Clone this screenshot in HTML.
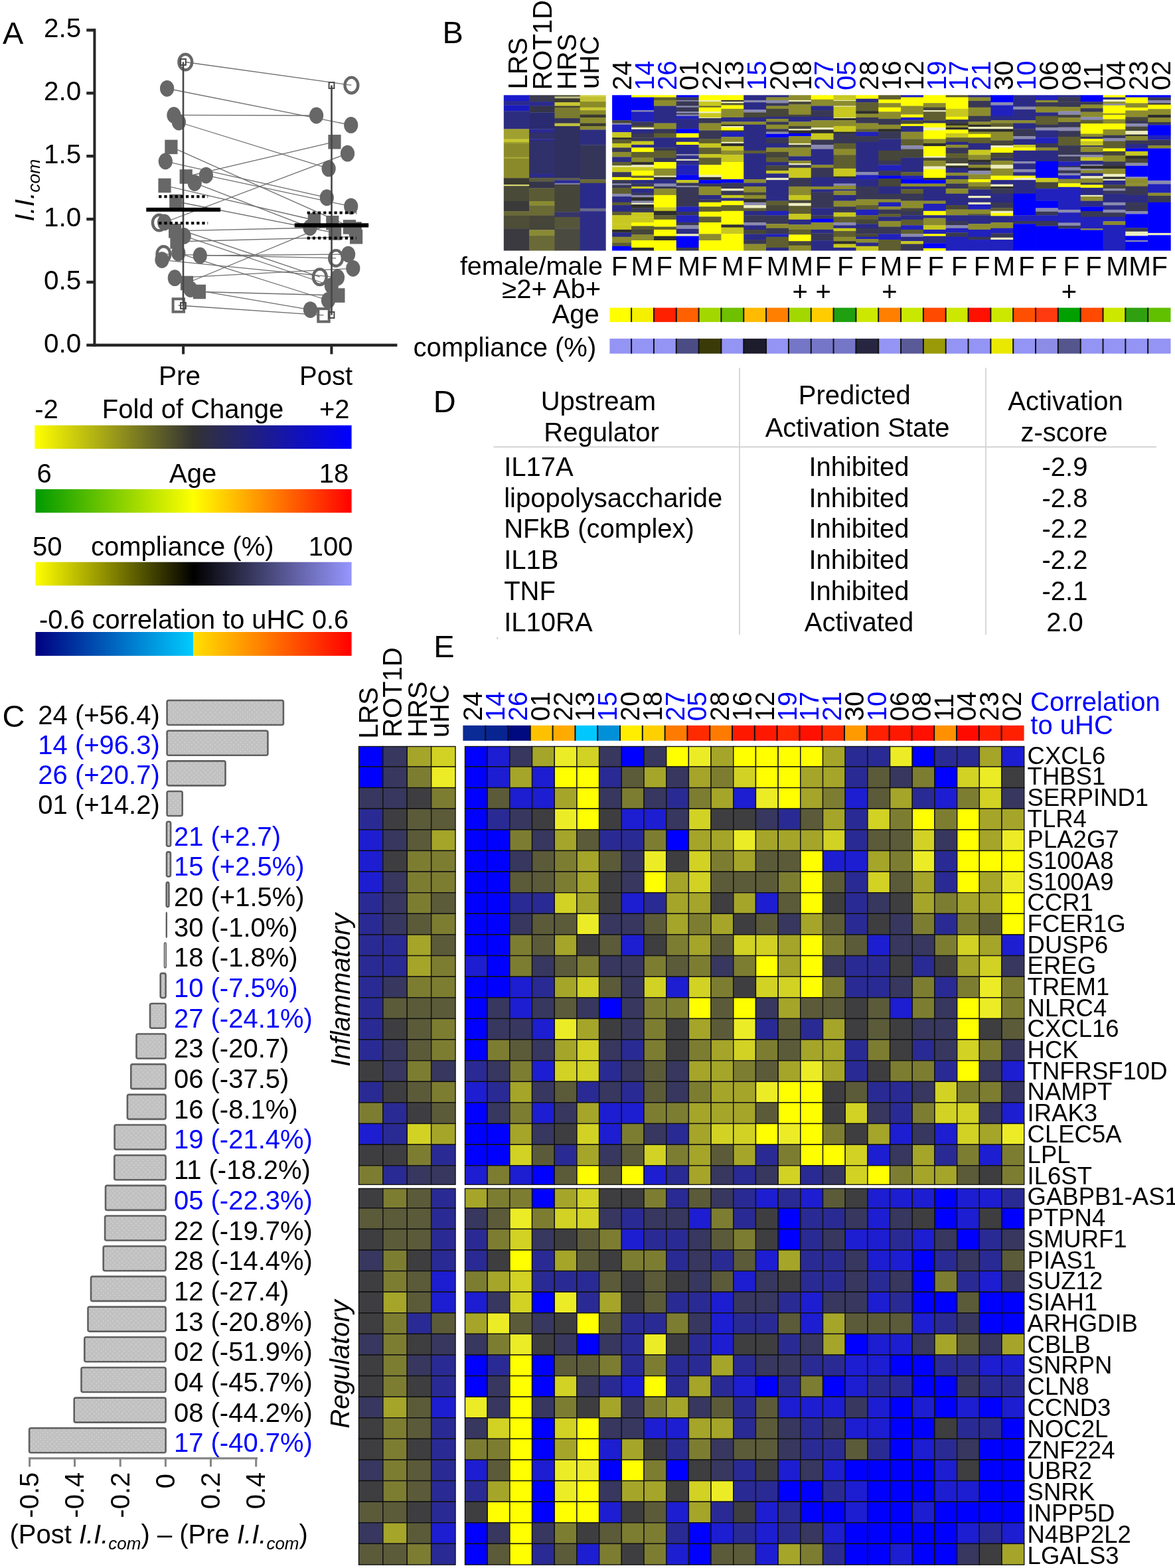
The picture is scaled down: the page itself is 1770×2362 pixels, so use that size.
<!DOCTYPE html>
<html><head><meta charset="utf-8"><title>Figure</title>
<style>html,body{margin:0;padding:0;background:#fff;}svg{display:block;}text{font-family:'Liberation Sans', Arial, sans-serif;}</style>
</head><body>
<svg width="1770" height="2362" viewBox="0 0 1770 2362" shape-rendering="geometricPrecision">
<rect width="1770" height="2362" fill="#fff"/>
<text x="4.0" y="66.0" font-size="47">A</text>
<rect x="140.4" y="43.2" width="4" height="479" fill="#262626"/>
<rect x="140.4" y="517.7" width="458" height="4.4" fill="#262626"/>
<rect x="130.3" y="43.2" width="12" height="4.4" fill="#262626"/>
<text x="122.4" y="56.0" font-size="40.5" text-anchor="end">2.5</text>
<rect x="130.3" y="138.1" width="12" height="4.4" fill="#262626"/>
<text x="122.4" y="150.9" font-size="40.5" text-anchor="end">2.0</text>
<rect x="130.3" y="233.0" width="12" height="4.4" fill="#262626"/>
<text x="122.4" y="245.8" font-size="40.5" text-anchor="end">1.5</text>
<rect x="130.3" y="327.9" width="12" height="4.4" fill="#262626"/>
<text x="122.4" y="340.7" font-size="40.5" text-anchor="end">1.0</text>
<rect x="130.3" y="422.8" width="12" height="4.4" fill="#262626"/>
<text x="122.4" y="435.6" font-size="40.5" text-anchor="end">0.5</text>
<rect x="130.3" y="517.7" width="12" height="4.4" fill="#262626"/>
<text x="122.4" y="530.5" font-size="40.5" text-anchor="end">0.0</text>
<rect x="274.1" y="520" width="4" height="13.5" fill="#262626"/>
<rect x="497.4" y="520" width="4" height="13.5" fill="#262626"/>
<text x="239.0" y="579.9" font-size="40.5">Pre</text>
<text x="451.1" y="579.9" font-size="40">Post</text>
<text transform="translate(50.6,333.5) rotate(-90)" font-size="40" font-style="italic" font-family="Liberation Sans, Arial, sans-serif">I.I.</text>
<text transform="translate(60.4,289.8) rotate(-90)" font-size="26.5" font-style="italic" font-family="Liberation Sans, Arial, sans-serif">com</text>
<line x1="279.3" y1="93.5" x2="529.4" y2="128.4" stroke="#6e6e6e" stroke-width="1.3"/>
<line x1="251.6" y1="133.3" x2="528.7" y2="188.4" stroke="#6e6e6e" stroke-width="1.3"/>
<line x1="261.9" y1="173.4" x2="476.6" y2="174" stroke="#6e6e6e" stroke-width="1.3"/>
<line x1="269.4" y1="184" x2="495.1" y2="253.9" stroke="#6e6e6e" stroke-width="1.3"/>
<line x1="257.9" y1="221.4" x2="535.2" y2="345" stroke="#6e6e6e" stroke-width="1.3"/>
<line x1="249.3" y1="243" x2="492.3" y2="297.7" stroke="#6e6e6e" stroke-width="1.3"/>
<line x1="310.4" y1="264.1" x2="528.7" y2="310.8" stroke="#6e6e6e" stroke-width="1.3"/>
<line x1="280.2" y1="266" x2="504" y2="213.7" stroke="#6e6e6e" stroke-width="1.3"/>
<line x1="293.2" y1="275.6" x2="467" y2="342.7" stroke="#6e6e6e" stroke-width="1.3"/>
<line x1="248" y1="279.5" x2="473.4" y2="331.5" stroke="#6e6e6e" stroke-width="1.3"/>
<line x1="264.8" y1="303.5" x2="504.6" y2="350.9" stroke="#6e6e6e" stroke-width="1.3"/>
<line x1="239.8" y1="335.5" x2="481.8" y2="417.2" stroke="#6e6e6e" stroke-width="1.3"/>
<line x1="247.6" y1="335" x2="523.5" y2="231.2" stroke="#6e6e6e" stroke-width="1.3"/>
<line x1="263.6" y1="347.8" x2="526.4" y2="341.9" stroke="#6e6e6e" stroke-width="1.3"/>
<line x1="277.2" y1="355.4" x2="499.4" y2="430.5" stroke="#6e6e6e" stroke-width="1.3"/>
<line x1="266" y1="364" x2="536.6" y2="356.7" stroke="#6e6e6e" stroke-width="1.3"/>
<line x1="268.8" y1="381.3" x2="494.5" y2="452.5" stroke="#6e6e6e" stroke-width="1.3"/>
<line x1="246.4" y1="383" x2="506.1" y2="388.9" stroke="#6e6e6e" stroke-width="1.3"/>
<line x1="244" y1="391.6" x2="508.5" y2="417.9" stroke="#6e6e6e" stroke-width="1.3"/>
<line x1="301.3" y1="385" x2="524.6" y2="383.1" stroke="#6e6e6e" stroke-width="1.3"/>
<line x1="263.3" y1="418.7" x2="531.8" y2="404.3" stroke="#6e6e6e" stroke-width="1.3"/>
<line x1="281.5" y1="426.5" x2="500.8" y2="335.7" stroke="#6e6e6e" stroke-width="1.3"/>
<line x1="286.9" y1="435.6" x2="467.5" y2="466.6" stroke="#6e6e6e" stroke-width="1.3"/>
<line x1="300.4" y1="439.5" x2="509.9" y2="445" stroke="#6e6e6e" stroke-width="1.3"/>
<line x1="268.8" y1="460" x2="487.5" y2="474.8" stroke="#6e6e6e" stroke-width="1.3"/>
<ellipse cx="279.3" cy="93.5" rx="9.9" ry="11.8" fill="none" stroke="#676767" stroke-width="4.4"/>
<ellipse cx="251.6" cy="133.3" rx="10.6" ry="12.4" fill="#676767"/>
<ellipse cx="261.9" cy="173.4" rx="10.6" ry="12.4" fill="#676767"/>
<ellipse cx="269.4" cy="184" rx="10.6" ry="12.4" fill="#676767"/>
<rect x="248.3" y="210.6" width="19.2" height="21.6" fill="#676767"/>
<ellipse cx="249.3" cy="243" rx="10.6" ry="12.4" fill="#676767"/>
<ellipse cx="310.4" cy="264.1" rx="10.6" ry="12.4" fill="#676767"/>
<rect x="270.6" y="255.2" width="19.2" height="21.6" fill="#676767"/>
<ellipse cx="293.2" cy="275.6" rx="10.6" ry="12.4" fill="#676767"/>
<rect x="238.4" y="268.7" width="19.2" height="21.6" fill="#676767"/>
<rect x="255.2" y="292.7" width="19.2" height="21.6" fill="#676767"/>
<ellipse cx="239.8" cy="335.5" rx="9.9" ry="11.8" fill="none" stroke="#676767" stroke-width="4.4"/>
<ellipse cx="247.6" cy="335" rx="10.6" ry="12.4" fill="#676767"/>
<rect x="254.0" y="337.0" width="19.2" height="21.6" fill="#676767"/>
<ellipse cx="277.2" cy="355.4" rx="10.6" ry="12.4" fill="#676767"/>
<rect x="256.4" y="353.2" width="19.2" height="21.6" fill="#676767"/>
<ellipse cx="268.8" cy="381.3" rx="10.6" ry="12.4" fill="#676767"/>
<ellipse cx="246.4" cy="383" rx="9.9" ry="11.8" fill="none" stroke="#676767" stroke-width="4.4"/>
<ellipse cx="244" cy="391.6" rx="10.6" ry="12.4" fill="#676767"/>
<ellipse cx="301.3" cy="385" rx="10.6" ry="12.4" fill="#676767"/>
<ellipse cx="263.3" cy="418.7" rx="10.6" ry="12.4" fill="#676767"/>
<rect x="271.9" y="415.7" width="19.2" height="21.6" fill="#676767"/>
<ellipse cx="286.9" cy="435.6" rx="10.6" ry="12.4" fill="#676767"/>
<rect x="290.8" y="428.7" width="19.2" height="21.6" fill="#676767"/>
<rect x="260.6" y="450.3" width="16.4" height="19.4" fill="none" stroke="#676767" stroke-width="4"/>
<ellipse cx="529.4" cy="128.4" rx="9.9" ry="11.8" fill="none" stroke="#676767" stroke-width="4.4"/>
<ellipse cx="476.6" cy="174" rx="10.6" ry="12.4" fill="#676767"/>
<ellipse cx="528.7" cy="188.4" rx="10.6" ry="12.4" fill="#676767"/>
<rect x="494.4" y="202.9" width="19.2" height="21.6" fill="#676767"/>
<ellipse cx="523.5" cy="231.2" rx="10.6" ry="12.4" fill="#676767"/>
<ellipse cx="495.1" cy="253.9" rx="10.6" ry="12.4" fill="#676767"/>
<ellipse cx="492.3" cy="297.7" rx="10.6" ry="12.4" fill="#676767"/>
<ellipse cx="528.7" cy="310.8" rx="10.6" ry="12.4" fill="#676767"/>
<rect x="463.8" y="320.7" width="19.2" height="21.6" fill="#676767"/>
<rect x="491.2" y="324.9" width="19.2" height="21.6" fill="#676767"/>
<rect x="516.8" y="331.1" width="19.2" height="21.6" fill="#676767"/>
<ellipse cx="467" cy="342.7" rx="10.6" ry="12.4" fill="#676767"/>
<rect x="525.6" y="334.2" width="19.2" height="21.6" fill="#676767"/>
<rect x="495.0" y="340.1" width="19.2" height="21.6" fill="#676767"/>
<rect x="527.0" y="345.9" width="19.2" height="21.6" fill="#676767"/>
<ellipse cx="524.6" cy="383.1" rx="10.6" ry="12.4" fill="#676767"/>
<ellipse cx="506.1" cy="388.9" rx="9.9" ry="11.8" fill="none" stroke="#676767" stroke-width="4.4"/>
<ellipse cx="531.8" cy="404.3" rx="10.6" ry="12.4" fill="#676767"/>
<ellipse cx="481.8" cy="417.2" rx="9.9" ry="11.8" fill="none" stroke="#676767" stroke-width="4.4"/>
<ellipse cx="508.5" cy="417.9" rx="10.6" ry="12.4" fill="#676767"/>
<ellipse cx="499.4" cy="430.5" rx="10.6" ry="12.4" fill="#676767"/>
<rect x="500.3" y="434.2" width="19.2" height="21.6" fill="#676767"/>
<ellipse cx="494.5" cy="452.5" rx="10.6" ry="12.4" fill="#676767"/>
<ellipse cx="467.5" cy="466.6" rx="10.6" ry="12.4" fill="#676767"/>
<rect x="479.3" y="465.1" width="16.4" height="19.4" fill="none" stroke="#676767" stroke-width="4"/>
<rect x="274.7" y="93.4" width="2.6" height="367.0" fill="#474747"/>
<rect x="272.1" y="88.9" width="7.8" height="9" fill="none" stroke="#474747" stroke-width="2"/>
<rect x="272.1" y="455.9" width="7.8" height="9" fill="none" stroke="#474747" stroke-width="2"/>
<rect x="498.2" y="128.6" width="2.6" height="345.9" fill="#474747"/>
<rect x="495.6" y="124.1" width="7.8" height="9" fill="none" stroke="#474747" stroke-width="2"/>
<rect x="495.6" y="470.0" width="7.8" height="9" fill="none" stroke="#474747" stroke-width="2"/>
<rect x="220.3" y="312.8" width="111.8" height="6" fill="#000"/>
<rect x="443.7" y="336.3" width="111.5" height="6.2" fill="#000"/>
<line x1="239.2" y1="296.1" x2="313.2" y2="296.1" stroke="#000" stroke-width="4.2" stroke-dasharray="4.2 3.95"/>
<line x1="239.2" y1="336.1" x2="313.2" y2="336.1" stroke="#000" stroke-width="4.2" stroke-dasharray="4.2 3.95"/>
<line x1="462.7" y1="320.5" x2="536.7" y2="320.5" stroke="#000" stroke-width="4.2" stroke-dasharray="4.2 3.95"/>
<line x1="462.7" y1="358.6" x2="536.7" y2="358.6" stroke="#000" stroke-width="4.2" stroke-dasharray="4.2 3.95"/>
<defs><linearGradient id="gFold"><stop offset="0" stop-color="#ffff00"/><stop offset="0.5" stop-color="#333333"/><stop offset="1" stop-color="#0000ff"/></linearGradient><linearGradient id="gAge"><stop offset="0" stop-color="#009a00"/><stop offset="0.5" stop-color="#ffff00"/><stop offset="1" stop-color="#ff0000"/></linearGradient><linearGradient id="gComp"><stop offset="0" stop-color="#ffff00"/><stop offset="0.5" stop-color="#000000"/><stop offset="1" stop-color="#9696ff"/></linearGradient><linearGradient id="gCorr"><stop offset="0" stop-color="#000080"/><stop offset="0.5" stop-color="#00ccff"/><stop offset="0.5" stop-color="#ffe000"/><stop offset="1" stop-color="#ff0000"/></linearGradient></defs>
<rect x="52.4" y="640.7" width="477.2" height="35.4" fill="url(#gFold)"/>
<rect x="53.4" y="736.9" width="476.2" height="35.5" fill="url(#gAge)"/>
<rect x="53.4" y="846.7" width="476.2" height="35.4" fill="url(#gComp)"/>
<rect x="53.4" y="952" width="476.2" height="35.9" fill="url(#gCorr)"/>
<text x="52.2" y="629.5" font-size="40">-2</text>
<text x="153.8" y="629.5" font-size="40">Fold of Change</text>
<text x="481.0" y="629.5" font-size="40">+2</text>
<text x="55.4" y="726.8" font-size="40">6</text>
<text x="255.0" y="726.8" font-size="40">Age</text>
<text x="480.7" y="726.8" font-size="40">18</text>
<text x="49.1" y="836.6" font-size="40">50</text>
<text x="136.9" y="836.6" font-size="40">compliance (%)</text>
<text x="464.8" y="836.6" font-size="40">100</text>
<text x="59.0" y="947.0" font-size="39.75">-0.6 correlation to uHC 0.6</text>
<text x="666.6" y="65.1" font-size="47">B</text>
<text transform="translate(794.4,134.5) rotate(-90)" font-size="40">LRS</text>
<text transform="translate(831.1,135.6) rotate(-90)" font-size="40">ROT1D</text>
<text transform="translate(868.2,135.2) rotate(-90)" font-size="40">HRS</text>
<text transform="translate(902.3,133.9) rotate(-90)" font-size="40">uHC</text>
<text transform="translate(950.9,136.0) rotate(-90)" font-size="40">24</text>
<text transform="translate(984.7,136.0) rotate(-90)" font-size="40" fill="#0000ff">14</text>
<text transform="translate(1018.6,136.0) rotate(-90)" font-size="40" fill="#0000ff">26</text>
<text transform="translate(1052.4,136.0) rotate(-90)" font-size="40">01</text>
<text transform="translate(1086.2,136.0) rotate(-90)" font-size="40">22</text>
<text transform="translate(1120.0,136.0) rotate(-90)" font-size="40">13</text>
<text transform="translate(1153.9,136.0) rotate(-90)" font-size="40" fill="#0000ff">15</text>
<text transform="translate(1187.7,136.0) rotate(-90)" font-size="40">20</text>
<text transform="translate(1221.5,136.0) rotate(-90)" font-size="40">18</text>
<text transform="translate(1255.4,136.0) rotate(-90)" font-size="40" fill="#0000ff">27</text>
<text transform="translate(1289.2,136.0) rotate(-90)" font-size="40" fill="#0000ff">05</text>
<text transform="translate(1323.0,136.0) rotate(-90)" font-size="40">28</text>
<text transform="translate(1356.9,136.0) rotate(-90)" font-size="40">16</text>
<text transform="translate(1390.7,136.0) rotate(-90)" font-size="40">12</text>
<text transform="translate(1424.5,136.0) rotate(-90)" font-size="40" fill="#0000ff">19</text>
<text transform="translate(1458.3,136.0) rotate(-90)" font-size="40" fill="#0000ff">17</text>
<text transform="translate(1492.2,136.0) rotate(-90)" font-size="40" fill="#0000ff">21</text>
<text transform="translate(1526.0,136.0) rotate(-90)" font-size="40">30</text>
<text transform="translate(1559.8,136.0) rotate(-90)" font-size="40" fill="#0000ff">10</text>
<text transform="translate(1593.7,136.0) rotate(-90)" font-size="40">06</text>
<text transform="translate(1627.5,136.0) rotate(-90)" font-size="40">08</text>
<text transform="translate(1661.3,136.0) rotate(-90)" font-size="40">11</text>
<text transform="translate(1695.2,136.0) rotate(-90)" font-size="40">04</text>
<text transform="translate(1729.0,136.0) rotate(-90)" font-size="40">23</text>
<text transform="translate(1762.8,136.0) rotate(-90)" font-size="40">02</text>
<rect x="758.80" y="143.30" width="39.00" height="8.99" fill="#1a1acc"/>
<rect x="758.80" y="151.99" width="39.00" height="6.82" fill="#2a2a90"/>
<rect x="758.80" y="158.50" width="39.00" height="8.99" fill="#1a1ac0"/>
<rect x="758.80" y="167.19" width="39.00" height="27.45" fill="#2d2d80"/>
<rect x="758.80" y="194.33" width="39.00" height="15.50" fill="#a0a030"/>
<rect x="758.80" y="209.54" width="39.00" height="4.64" fill="#c8c830"/>
<rect x="758.80" y="213.88" width="39.00" height="2.47" fill="#a0a030"/>
<rect x="758.80" y="216.05" width="39.00" height="20.93" fill="#8a8a2a"/>
<rect x="758.80" y="236.68" width="39.00" height="2.47" fill="#a8a838"/>
<rect x="758.80" y="238.85" width="39.00" height="29.62" fill="#8a8a2a"/>
<rect x="758.80" y="268.17" width="39.00" height="10.07" fill="#3a3a30"/>
<rect x="758.80" y="277.95" width="39.00" height="2.47" fill="#d8d870"/>
<rect x="758.80" y="280.12" width="39.00" height="23.10" fill="#4a4a38"/>
<rect x="758.80" y="302.92" width="39.00" height="15.50" fill="#3a3a3a"/>
<rect x="758.80" y="318.12" width="39.00" height="6.82" fill="#6a6a38"/>
<rect x="758.80" y="324.64" width="39.00" height="19.85" fill="#4d4d38"/>
<rect x="758.80" y="344.18" width="39.00" height="33.42" fill="#3a3a40"/>
<rect x="797.10" y="143.30" width="39.00" height="10.07" fill="#3a3a50"/>
<rect x="797.10" y="153.07" width="39.00" height="6.82" fill="#2a2a90"/>
<rect x="797.10" y="159.59" width="39.00" height="10.07" fill="#35354a"/>
<rect x="797.10" y="169.36" width="39.00" height="25.27" fill="#2a2a70"/>
<rect x="797.10" y="194.33" width="39.00" height="5.73" fill="#2a2a90"/>
<rect x="797.10" y="199.76" width="39.00" height="10.07" fill="#30306a"/>
<rect x="797.10" y="209.54" width="39.00" height="2.47" fill="#2a2a9a"/>
<rect x="797.10" y="211.71" width="39.00" height="50.25" fill="#30306a"/>
<rect x="797.10" y="261.66" width="39.00" height="4.64" fill="#2a2a90"/>
<rect x="797.10" y="266.00" width="39.00" height="2.47" fill="#30306a"/>
<rect x="797.10" y="268.17" width="39.00" height="5.73" fill="#5a5a40"/>
<rect x="797.10" y="273.60" width="39.00" height="10.07" fill="#35354a"/>
<rect x="797.10" y="283.37" width="39.00" height="19.85" fill="#5a5a35"/>
<rect x="797.10" y="302.92" width="39.00" height="6.82" fill="#8a8a30"/>
<rect x="797.10" y="309.43" width="39.00" height="15.50" fill="#6a6a35"/>
<rect x="797.10" y="324.64" width="39.00" height="22.02" fill="#45453a"/>
<rect x="797.10" y="346.35" width="39.00" height="8.99" fill="#8a8a35"/>
<rect x="797.10" y="355.04" width="39.00" height="22.56" fill="#6a6a38"/>
<rect x="835.40" y="143.30" width="39.00" height="2.47" fill="#505030"/>
<rect x="835.40" y="145.47" width="39.00" height="3.01" fill="#b8b880"/>
<rect x="835.40" y="148.19" width="39.00" height="6.27" fill="#3a3a30"/>
<rect x="835.40" y="154.16" width="39.00" height="5.73" fill="#c8c830"/>
<rect x="835.40" y="159.59" width="39.00" height="2.47" fill="#3a3a30"/>
<rect x="835.40" y="161.76" width="39.00" height="16.59" fill="#7a7a30"/>
<rect x="835.40" y="178.05" width="39.00" height="7.90" fill="#35355a"/>
<rect x="835.40" y="185.65" width="39.00" height="4.64" fill="#c0c040"/>
<rect x="835.40" y="189.99" width="39.00" height="78.48" fill="#303060"/>
<rect x="835.40" y="268.17" width="39.00" height="3.56" fill="#5a5a50"/>
<rect x="835.40" y="271.43" width="39.00" height="4.64" fill="#2a2a9a"/>
<rect x="835.40" y="275.77" width="39.00" height="2.47" fill="#8080a0"/>
<rect x="835.40" y="277.95" width="39.00" height="41.56" fill="#45453a"/>
<rect x="835.40" y="319.21" width="39.00" height="7.90" fill="#35356a"/>
<rect x="835.40" y="326.81" width="39.00" height="17.67" fill="#55553a"/>
<rect x="835.40" y="344.18" width="39.00" height="33.42" fill="#4a4a40"/>
<rect x="873.70" y="143.30" width="39.00" height="2.47" fill="#d0d040"/>
<rect x="873.70" y="145.47" width="39.00" height="7.90" fill="#c0c030"/>
<rect x="873.70" y="153.07" width="39.00" height="8.99" fill="#8a8a28"/>
<rect x="873.70" y="161.76" width="39.00" height="4.64" fill="#c8c830"/>
<rect x="873.70" y="166.10" width="39.00" height="6.82" fill="#8a8a28"/>
<rect x="873.70" y="172.62" width="39.00" height="4.64" fill="#3a3a30"/>
<rect x="873.70" y="176.96" width="39.00" height="8.99" fill="#8a8a30"/>
<rect x="873.70" y="185.65" width="39.00" height="4.64" fill="#3a3a30"/>
<rect x="873.70" y="189.99" width="39.00" height="5.73" fill="#8a8a35"/>
<rect x="873.70" y="195.42" width="39.00" height="23.10" fill="#2d2d80"/>
<rect x="873.70" y="218.22" width="39.00" height="52.42" fill="#35355a"/>
<rect x="873.70" y="270.34" width="39.00" height="5.73" fill="#6a6a35"/>
<rect x="873.70" y="275.77" width="39.00" height="38.30" fill="#2a2a8a"/>
<rect x="873.70" y="313.78" width="39.00" height="4.64" fill="#6a6a8a"/>
<rect x="873.70" y="318.12" width="39.00" height="59.48" fill="#2d2d88"/>
<rect x="922.10" y="143.30" width="29.70" height="38.22" fill="#0000ff"/>
<rect x="922.10" y="181.22" width="29.70" height="4.63" fill="#46463a"/>
<rect x="922.10" y="185.55" width="29.70" height="2.47" fill="#8a8ab0"/>
<rect x="922.10" y="187.72" width="29.70" height="11.67" fill="#2121bd"/>
<rect x="922.10" y="199.09" width="29.70" height="8.43" fill="#c8c820"/>
<rect x="922.10" y="207.22" width="29.70" height="3.55" fill="#2e2e2a"/>
<rect x="922.10" y="210.47" width="29.70" height="5.72" fill="#5e5e30"/>
<rect x="922.10" y="215.88" width="29.70" height="6.80" fill="#c8c820"/>
<rect x="922.10" y="222.38" width="29.70" height="6.80" fill="#383856"/>
<rect x="922.10" y="228.88" width="29.70" height="7.88" fill="#8c8c2e"/>
<rect x="922.10" y="236.47" width="29.70" height="7.88" fill="#2b2b86"/>
<rect x="922.10" y="244.05" width="29.70" height="5.72" fill="#5e5e30"/>
<rect x="922.10" y="249.47" width="29.70" height="2.47" fill="#ececc0"/>
<rect x="922.10" y="251.63" width="29.70" height="7.88" fill="#c8c820"/>
<rect x="922.10" y="259.22" width="29.70" height="7.88" fill="#383856"/>
<rect x="922.10" y="266.80" width="29.70" height="4.63" fill="#ffff00"/>
<rect x="922.10" y="271.13" width="29.70" height="5.72" fill="#383856"/>
<rect x="922.10" y="276.55" width="29.70" height="2.47" fill="#8a8ab0"/>
<rect x="922.10" y="278.72" width="29.70" height="4.63" fill="#383856"/>
<rect x="922.10" y="283.05" width="29.70" height="8.97" fill="#5e5e30"/>
<rect x="922.10" y="291.72" width="29.70" height="4.63" fill="#8a8ab0"/>
<rect x="922.10" y="296.05" width="29.70" height="8.97" fill="#2b2b86"/>
<rect x="922.10" y="304.72" width="29.70" height="4.63" fill="#5e5e30"/>
<rect x="922.10" y="309.05" width="29.70" height="10.05" fill="#2b2b86"/>
<rect x="922.10" y="318.80" width="29.70" height="5.72" fill="#5e5e30"/>
<rect x="922.10" y="324.22" width="29.70" height="13.30" fill="#c8c820"/>
<rect x="922.10" y="337.22" width="29.70" height="8.97" fill="#c8c820"/>
<rect x="922.10" y="345.88" width="29.70" height="4.63" fill="#2e2e2a"/>
<rect x="922.10" y="350.22" width="29.70" height="6.80" fill="#2b2b86"/>
<rect x="922.10" y="356.72" width="29.70" height="8.97" fill="#8c8c2e"/>
<rect x="922.10" y="365.38" width="29.70" height="5.72" fill="#5e5e30"/>
<rect x="922.10" y="370.80" width="29.70" height="6.80" fill="#0000ff"/>
<rect x="951.10" y="143.30" width="34.53" height="3.55" fill="#ffff00"/>
<rect x="951.10" y="146.55" width="34.53" height="19.80" fill="#0000ff"/>
<rect x="951.10" y="166.05" width="34.53" height="2.47" fill="#8a8ab0"/>
<rect x="951.10" y="168.22" width="34.53" height="15.47" fill="#2121bd"/>
<rect x="951.10" y="183.38" width="34.53" height="6.80" fill="#383856"/>
<rect x="951.10" y="189.88" width="34.53" height="2.47" fill="#5e5e30"/>
<rect x="951.10" y="192.05" width="34.53" height="3.01" fill="#ececc0"/>
<rect x="951.10" y="194.76" width="34.53" height="6.26" fill="#2b2b86"/>
<rect x="951.10" y="200.72" width="34.53" height="6.80" fill="#383856"/>
<rect x="951.10" y="207.22" width="34.53" height="5.72" fill="#383856"/>
<rect x="951.10" y="212.63" width="34.53" height="5.72" fill="#c8c820"/>
<rect x="951.10" y="218.05" width="34.53" height="4.63" fill="#2b2b86"/>
<rect x="951.10" y="222.38" width="34.53" height="6.80" fill="#ffff00"/>
<rect x="951.10" y="228.88" width="34.53" height="8.97" fill="#5e5e30"/>
<rect x="951.10" y="237.55" width="34.53" height="6.80" fill="#8c8c2e"/>
<rect x="951.10" y="244.05" width="34.53" height="4.63" fill="#2e2e2a"/>
<rect x="951.10" y="248.38" width="34.53" height="3.55" fill="#ececc0"/>
<rect x="951.10" y="251.63" width="34.53" height="5.72" fill="#c8c820"/>
<rect x="951.10" y="257.05" width="34.53" height="7.88" fill="#ffff00"/>
<rect x="951.10" y="264.63" width="34.53" height="3.55" fill="#5e5e30"/>
<rect x="951.10" y="267.88" width="34.53" height="3.55" fill="#ffff00"/>
<rect x="951.10" y="271.13" width="34.53" height="5.72" fill="#2b2b86"/>
<rect x="951.10" y="276.55" width="34.53" height="4.63" fill="#383856"/>
<rect x="951.10" y="280.88" width="34.53" height="3.55" fill="#c8c820"/>
<rect x="951.10" y="284.13" width="34.53" height="6.80" fill="#2b2b86"/>
<rect x="951.10" y="290.63" width="34.53" height="3.55" fill="#383856"/>
<rect x="951.10" y="293.88" width="34.53" height="3.55" fill="#8a8ab0"/>
<rect x="951.10" y="297.13" width="34.53" height="5.72" fill="#2e2e2a"/>
<rect x="951.10" y="302.55" width="34.53" height="3.55" fill="#8a8ab0"/>
<rect x="951.10" y="305.80" width="34.53" height="2.47" fill="#ececc0"/>
<rect x="951.10" y="307.97" width="34.53" height="5.72" fill="#2e2e2a"/>
<rect x="951.10" y="313.38" width="34.53" height="6.80" fill="#383856"/>
<rect x="951.10" y="319.88" width="34.53" height="7.88" fill="#c8c820"/>
<rect x="951.10" y="327.47" width="34.53" height="7.88" fill="#c8c820"/>
<rect x="951.10" y="335.05" width="34.53" height="5.72" fill="#ffff00"/>
<rect x="951.10" y="340.47" width="34.53" height="5.72" fill="#5e5e30"/>
<rect x="951.10" y="345.88" width="34.53" height="7.88" fill="#46463a"/>
<rect x="951.10" y="353.47" width="34.53" height="8.97" fill="#8c8c2e"/>
<rect x="951.10" y="362.13" width="34.53" height="11.13" fill="#ffff00"/>
<rect x="951.10" y="372.97" width="34.53" height="4.63" fill="#2e2e2a"/>
<rect x="984.93" y="143.30" width="34.53" height="3.55" fill="#ffff00"/>
<rect x="984.93" y="146.55" width="34.53" height="4.63" fill="#5e5e30"/>
<rect x="984.93" y="150.88" width="34.53" height="8.97" fill="#8c8c2e"/>
<rect x="984.93" y="159.55" width="34.53" height="26.30" fill="#2b2b86"/>
<rect x="984.93" y="185.55" width="34.53" height="8.97" fill="#8c8c2e"/>
<rect x="984.93" y="194.22" width="34.53" height="6.80" fill="#383856"/>
<rect x="984.93" y="200.72" width="34.53" height="6.80" fill="#5e5e30"/>
<rect x="984.93" y="207.22" width="34.53" height="15.47" fill="#2b2b86"/>
<rect x="984.93" y="222.38" width="34.53" height="4.63" fill="#383856"/>
<rect x="984.93" y="226.72" width="34.53" height="11.13" fill="#5e5e30"/>
<rect x="984.93" y="237.55" width="34.53" height="6.80" fill="#383856"/>
<rect x="984.93" y="244.05" width="34.53" height="10.05" fill="#ffff00"/>
<rect x="984.93" y="253.80" width="34.53" height="11.13" fill="#8c8c2e"/>
<rect x="984.93" y="264.63" width="34.53" height="2.47" fill="#ececc0"/>
<rect x="984.93" y="266.80" width="34.53" height="3.55" fill="#2e2e2a"/>
<rect x="984.93" y="270.05" width="34.53" height="6.80" fill="#2b2b86"/>
<rect x="984.93" y="276.55" width="34.53" height="4.63" fill="#8a8ab0"/>
<rect x="984.93" y="280.88" width="34.53" height="3.55" fill="#383856"/>
<rect x="984.93" y="284.13" width="34.53" height="10.05" fill="#8c8c2e"/>
<rect x="984.93" y="293.88" width="34.53" height="11.13" fill="#ffff00"/>
<rect x="984.93" y="304.72" width="34.53" height="7.88" fill="#ffff00"/>
<rect x="984.93" y="312.30" width="34.53" height="5.72" fill="#c8c820"/>
<rect x="984.93" y="317.72" width="34.53" height="6.80" fill="#2e2e2a"/>
<rect x="984.93" y="324.22" width="34.53" height="6.80" fill="#5e5e30"/>
<rect x="984.93" y="330.72" width="34.53" height="11.13" fill="#ffff00"/>
<rect x="984.93" y="341.55" width="34.53" height="4.63" fill="#5e5e30"/>
<rect x="984.93" y="345.88" width="34.53" height="10.05" fill="#ffff00"/>
<rect x="984.93" y="355.63" width="34.53" height="6.80" fill="#2e2e2a"/>
<rect x="984.93" y="362.13" width="34.53" height="15.47" fill="#ffff00"/>
<rect x="1018.76" y="143.30" width="34.53" height="3.55" fill="#0000ff"/>
<rect x="1018.76" y="146.55" width="34.53" height="4.63" fill="#383856"/>
<rect x="1018.76" y="150.88" width="34.53" height="1.93" fill="#8a8ab0"/>
<rect x="1018.76" y="152.51" width="34.53" height="7.34" fill="#383856"/>
<rect x="1018.76" y="159.55" width="34.53" height="2.47" fill="#8a8ab0"/>
<rect x="1018.76" y="161.72" width="34.53" height="6.80" fill="#383856"/>
<rect x="1018.76" y="168.22" width="34.53" height="2.47" fill="#8a8ab0"/>
<rect x="1018.76" y="170.38" width="34.53" height="2.47" fill="#383856"/>
<rect x="1018.76" y="172.55" width="34.53" height="2.47" fill="#8a8ab0"/>
<rect x="1018.76" y="174.72" width="34.53" height="4.63" fill="#2121bd"/>
<rect x="1018.76" y="179.05" width="34.53" height="15.47" fill="#2b2b86"/>
<rect x="1018.76" y="194.22" width="34.53" height="6.80" fill="#0000ff"/>
<rect x="1018.76" y="200.72" width="34.53" height="6.80" fill="#ffff00"/>
<rect x="1018.76" y="207.22" width="34.53" height="6.80" fill="#2b2b86"/>
<rect x="1018.76" y="213.72" width="34.53" height="4.63" fill="#ffff00"/>
<rect x="1018.76" y="218.05" width="34.53" height="14.38" fill="#2b2b86"/>
<rect x="1018.76" y="232.13" width="34.53" height="2.47" fill="#8a8ab0"/>
<rect x="1018.76" y="234.30" width="34.53" height="5.72" fill="#2b2b86"/>
<rect x="1018.76" y="239.72" width="34.53" height="2.47" fill="#ececc0"/>
<rect x="1018.76" y="241.88" width="34.53" height="6.80" fill="#2b2b86"/>
<rect x="1018.76" y="248.38" width="34.53" height="15.47" fill="#2121bd"/>
<rect x="1018.76" y="263.55" width="34.53" height="7.88" fill="#0000ff"/>
<rect x="1018.76" y="271.13" width="34.53" height="4.63" fill="#c8c820"/>
<rect x="1018.76" y="275.47" width="34.53" height="4.63" fill="#383856"/>
<rect x="1018.76" y="279.80" width="34.53" height="2.47" fill="#8a8ab0"/>
<rect x="1018.76" y="281.97" width="34.53" height="29.55" fill="#383856"/>
<rect x="1018.76" y="311.22" width="34.53" height="7.88" fill="#2121bd"/>
<rect x="1018.76" y="318.80" width="34.53" height="5.72" fill="#383856"/>
<rect x="1018.76" y="324.22" width="34.53" height="11.13" fill="#2121bd"/>
<rect x="1018.76" y="335.05" width="34.53" height="4.63" fill="#383856"/>
<rect x="1018.76" y="339.38" width="34.53" height="5.72" fill="#8a8ab0"/>
<rect x="1018.76" y="344.80" width="34.53" height="7.88" fill="#2b2b86"/>
<rect x="1018.76" y="352.38" width="34.53" height="3.55" fill="#ececc0"/>
<rect x="1018.76" y="355.63" width="34.53" height="17.63" fill="#0000ff"/>
<rect x="1018.76" y="372.97" width="34.53" height="4.63" fill="#383856"/>
<rect x="1052.59" y="143.30" width="34.53" height="7.88" fill="#ffff00"/>
<rect x="1052.59" y="150.88" width="34.53" height="2.47" fill="#ececc0"/>
<rect x="1052.59" y="153.05" width="34.53" height="6.80" fill="#c8c820"/>
<rect x="1052.59" y="159.55" width="34.53" height="2.47" fill="#5e5e30"/>
<rect x="1052.59" y="161.72" width="34.53" height="6.80" fill="#ffff00"/>
<rect x="1052.59" y="168.22" width="34.53" height="2.47" fill="#ececc0"/>
<rect x="1052.59" y="170.38" width="34.53" height="6.80" fill="#c8c820"/>
<rect x="1052.59" y="176.88" width="34.53" height="1.38" fill="#ececc0"/>
<rect x="1052.59" y="177.97" width="34.53" height="7.88" fill="#383856"/>
<rect x="1052.59" y="185.55" width="34.53" height="11.13" fill="#8c8c2e"/>
<rect x="1052.59" y="196.38" width="34.53" height="13.30" fill="#383856"/>
<rect x="1052.59" y="209.38" width="34.53" height="6.80" fill="#5e5e30"/>
<rect x="1052.59" y="215.88" width="34.53" height="6.80" fill="#c8c820"/>
<rect x="1052.59" y="222.38" width="34.53" height="10.05" fill="#5e5e30"/>
<rect x="1052.59" y="232.13" width="34.53" height="5.72" fill="#c8c820"/>
<rect x="1052.59" y="237.55" width="34.53" height="11.13" fill="#5e5e30"/>
<rect x="1052.59" y="248.38" width="34.53" height="15.47" fill="#ffff00"/>
<rect x="1052.59" y="263.55" width="34.53" height="3.55" fill="#ececc0"/>
<rect x="1052.59" y="266.80" width="34.53" height="4.63" fill="#2e2e2a"/>
<rect x="1052.59" y="271.13" width="34.53" height="5.72" fill="#0000ff"/>
<rect x="1052.59" y="276.55" width="34.53" height="4.63" fill="#383856"/>
<rect x="1052.59" y="280.88" width="34.53" height="13.30" fill="#8c8c2e"/>
<rect x="1052.59" y="293.88" width="34.53" height="6.80" fill="#2b2b86"/>
<rect x="1052.59" y="300.38" width="34.53" height="4.63" fill="#383856"/>
<rect x="1052.59" y="304.72" width="34.53" height="6.80" fill="#ffff00"/>
<rect x="1052.59" y="311.22" width="34.53" height="7.88" fill="#5e5e30"/>
<rect x="1052.59" y="318.80" width="34.53" height="7.88" fill="#ffff00"/>
<rect x="1052.59" y="326.38" width="34.53" height="8.97" fill="#5e5e30"/>
<rect x="1052.59" y="335.05" width="34.53" height="17.63" fill="#ffff00"/>
<rect x="1052.59" y="352.38" width="34.53" height="10.05" fill="#8c8c2e"/>
<rect x="1052.59" y="362.13" width="34.53" height="15.47" fill="#ffff00"/>
<rect x="1086.42" y="143.30" width="34.53" height="7.88" fill="#ffff00"/>
<rect x="1086.42" y="150.88" width="34.53" height="2.47" fill="#2e2e2a"/>
<rect x="1086.42" y="153.05" width="34.53" height="2.47" fill="#ececc0"/>
<rect x="1086.42" y="155.22" width="34.53" height="3.55" fill="#5e5e30"/>
<rect x="1086.42" y="158.47" width="34.53" height="5.72" fill="#ffff00"/>
<rect x="1086.42" y="163.88" width="34.53" height="13.30" fill="#8c8c2e"/>
<rect x="1086.42" y="176.88" width="34.53" height="6.80" fill="#2b2b86"/>
<rect x="1086.42" y="183.38" width="34.53" height="4.63" fill="#8c8c2e"/>
<rect x="1086.42" y="187.72" width="34.53" height="2.47" fill="#2e2e2a"/>
<rect x="1086.42" y="189.88" width="34.53" height="2.47" fill="#ececc0"/>
<rect x="1086.42" y="192.05" width="34.53" height="4.63" fill="#ffff00"/>
<rect x="1086.42" y="196.38" width="34.53" height="2.47" fill="#2e2e2a"/>
<rect x="1086.42" y="198.55" width="34.53" height="7.88" fill="#2121bd"/>
<rect x="1086.42" y="206.13" width="34.53" height="7.88" fill="#8c8c2e"/>
<rect x="1086.42" y="213.72" width="34.53" height="2.47" fill="#ececc0"/>
<rect x="1086.42" y="215.88" width="34.53" height="4.63" fill="#2e2e2a"/>
<rect x="1086.42" y="220.22" width="34.53" height="6.80" fill="#c8c820"/>
<rect x="1086.42" y="226.72" width="34.53" height="6.80" fill="#8c8c2e"/>
<rect x="1086.42" y="233.22" width="34.53" height="11.13" fill="#c8c820"/>
<rect x="1086.42" y="244.05" width="34.53" height="26.30" fill="#ffff00"/>
<rect x="1086.42" y="270.05" width="34.53" height="5.72" fill="#0000ff"/>
<rect x="1086.42" y="275.47" width="34.53" height="8.97" fill="#383856"/>
<rect x="1086.42" y="284.13" width="34.53" height="3.55" fill="#ececc0"/>
<rect x="1086.42" y="287.38" width="34.53" height="6.80" fill="#383856"/>
<rect x="1086.42" y="293.88" width="34.53" height="4.63" fill="#c8c820"/>
<rect x="1086.42" y="298.22" width="34.53" height="4.63" fill="#2b2b86"/>
<rect x="1086.42" y="302.55" width="34.53" height="6.80" fill="#ffff00"/>
<rect x="1086.42" y="309.05" width="34.53" height="8.97" fill="#5e5e30"/>
<rect x="1086.42" y="317.72" width="34.53" height="20.88" fill="#ffff00"/>
<rect x="1086.42" y="338.30" width="34.53" height="4.63" fill="#2e2e2a"/>
<rect x="1086.42" y="342.63" width="34.53" height="10.05" fill="#c8c820"/>
<rect x="1086.42" y="352.38" width="34.53" height="25.22" fill="#ffff00"/>
<rect x="1120.25" y="143.30" width="34.53" height="7.88" fill="#2b2b86"/>
<rect x="1120.25" y="150.88" width="34.53" height="3.55" fill="#8a8ab0"/>
<rect x="1120.25" y="154.13" width="34.53" height="11.13" fill="#2b2b86"/>
<rect x="1120.25" y="164.97" width="34.53" height="4.63" fill="#8a8ab0"/>
<rect x="1120.25" y="169.30" width="34.53" height="7.88" fill="#46463a"/>
<rect x="1120.25" y="176.88" width="34.53" height="6.80" fill="#2b2b86"/>
<rect x="1120.25" y="183.38" width="34.53" height="4.63" fill="#8c8c2e"/>
<rect x="1120.25" y="187.72" width="34.53" height="39.30" fill="#2b2b86"/>
<rect x="1120.25" y="226.72" width="34.53" height="4.63" fill="#5e5e30"/>
<rect x="1120.25" y="231.05" width="34.53" height="39.30" fill="#2b2b86"/>
<rect x="1120.25" y="270.05" width="34.53" height="5.72" fill="#8c8c2e"/>
<rect x="1120.25" y="275.47" width="34.53" height="5.72" fill="#2b2b86"/>
<rect x="1120.25" y="280.88" width="34.53" height="8.97" fill="#8c8c2e"/>
<rect x="1120.25" y="289.55" width="34.53" height="4.63" fill="#46463a"/>
<rect x="1120.25" y="293.88" width="34.53" height="5.72" fill="#8c8c2e"/>
<rect x="1120.25" y="299.30" width="34.53" height="5.72" fill="#2e2e2a"/>
<rect x="1120.25" y="304.72" width="34.53" height="4.63" fill="#8a8ab0"/>
<rect x="1120.25" y="309.05" width="34.53" height="4.63" fill="#ececc0"/>
<rect x="1120.25" y="313.38" width="34.53" height="4.63" fill="#5e5e30"/>
<rect x="1120.25" y="317.72" width="34.53" height="6.80" fill="#2b2b86"/>
<rect x="1120.25" y="324.22" width="34.53" height="11.13" fill="#383856"/>
<rect x="1120.25" y="335.05" width="34.53" height="4.63" fill="#8a8ab0"/>
<rect x="1120.25" y="339.38" width="34.53" height="6.80" fill="#2b2b86"/>
<rect x="1120.25" y="345.88" width="34.53" height="6.80" fill="#46463a"/>
<rect x="1120.25" y="352.38" width="34.53" height="8.97" fill="#2b2b86"/>
<rect x="1120.25" y="361.05" width="34.53" height="6.80" fill="#383856"/>
<rect x="1120.25" y="367.55" width="34.53" height="10.05" fill="#8c8c2e"/>
<rect x="1154.08" y="143.30" width="34.53" height="3.55" fill="#2b2b86"/>
<rect x="1154.08" y="146.55" width="34.53" height="4.63" fill="#8c8c2e"/>
<rect x="1154.08" y="150.88" width="34.53" height="4.63" fill="#8a8ab0"/>
<rect x="1154.08" y="155.22" width="34.53" height="4.63" fill="#383856"/>
<rect x="1154.08" y="159.55" width="34.53" height="4.63" fill="#8c8c2e"/>
<rect x="1154.08" y="163.88" width="34.53" height="12.22" fill="#46463a"/>
<rect x="1154.08" y="175.80" width="34.53" height="3.55" fill="#2b2b86"/>
<rect x="1154.08" y="179.05" width="34.53" height="4.63" fill="#8c8c2e"/>
<rect x="1154.08" y="183.38" width="34.53" height="4.63" fill="#383856"/>
<rect x="1154.08" y="187.72" width="34.53" height="6.80" fill="#8c8c2e"/>
<rect x="1154.08" y="194.22" width="34.53" height="4.63" fill="#383856"/>
<rect x="1154.08" y="198.55" width="34.53" height="3.55" fill="#8a8ab0"/>
<rect x="1154.08" y="201.80" width="34.53" height="5.72" fill="#0000ff"/>
<rect x="1154.08" y="207.22" width="34.53" height="8.97" fill="#383856"/>
<rect x="1154.08" y="215.88" width="34.53" height="6.80" fill="#2b2b86"/>
<rect x="1154.08" y="222.38" width="34.53" height="6.80" fill="#8c8c2e"/>
<rect x="1154.08" y="228.88" width="34.53" height="8.97" fill="#46463a"/>
<rect x="1154.08" y="237.55" width="34.53" height="6.80" fill="#5e5e30"/>
<rect x="1154.08" y="244.05" width="34.53" height="5.72" fill="#2b2b86"/>
<rect x="1154.08" y="249.47" width="34.53" height="7.88" fill="#46463a"/>
<rect x="1154.08" y="257.05" width="34.53" height="4.63" fill="#c8c820"/>
<rect x="1154.08" y="261.38" width="34.53" height="6.80" fill="#2b2b86"/>
<rect x="1154.08" y="267.88" width="34.53" height="3.55" fill="#ececc0"/>
<rect x="1154.08" y="271.13" width="34.53" height="31.72" fill="#2b2b86"/>
<rect x="1154.08" y="302.55" width="34.53" height="6.80" fill="#5e5e30"/>
<rect x="1154.08" y="309.05" width="34.53" height="8.97" fill="#46463a"/>
<rect x="1154.08" y="317.72" width="34.53" height="6.80" fill="#2121bd"/>
<rect x="1154.08" y="324.22" width="34.53" height="13.30" fill="#383856"/>
<rect x="1154.08" y="337.22" width="34.53" height="6.80" fill="#8c8c2e"/>
<rect x="1154.08" y="343.72" width="34.53" height="8.97" fill="#383856"/>
<rect x="1154.08" y="352.38" width="34.53" height="4.63" fill="#2121bd"/>
<rect x="1154.08" y="356.72" width="34.53" height="16.55" fill="#5e5e30"/>
<rect x="1154.08" y="372.97" width="34.53" height="4.63" fill="#2b2b86"/>
<rect x="1187.91" y="143.30" width="34.53" height="7.88" fill="#8c8c2e"/>
<rect x="1187.91" y="150.88" width="34.53" height="2.47" fill="#ececc0"/>
<rect x="1187.91" y="153.05" width="34.53" height="4.63" fill="#46463a"/>
<rect x="1187.91" y="157.38" width="34.53" height="15.47" fill="#8c8c2e"/>
<rect x="1187.91" y="172.55" width="34.53" height="3.55" fill="#46463a"/>
<rect x="1187.91" y="175.80" width="34.53" height="7.88" fill="#2b2b86"/>
<rect x="1187.91" y="183.38" width="34.53" height="6.80" fill="#8c8c2e"/>
<rect x="1187.91" y="189.88" width="34.53" height="4.63" fill="#46463a"/>
<rect x="1187.91" y="194.22" width="34.53" height="2.47" fill="#ececc0"/>
<rect x="1187.91" y="196.38" width="34.53" height="4.63" fill="#2e2e2a"/>
<rect x="1187.91" y="200.72" width="34.53" height="4.63" fill="#0000ff"/>
<rect x="1187.91" y="205.05" width="34.53" height="11.13" fill="#8c8c2e"/>
<rect x="1187.91" y="215.88" width="34.53" height="2.47" fill="#ececc0"/>
<rect x="1187.91" y="218.05" width="34.53" height="4.63" fill="#46463a"/>
<rect x="1187.91" y="222.38" width="34.53" height="13.30" fill="#8c8c2e"/>
<rect x="1187.91" y="235.38" width="34.53" height="6.80" fill="#2b2b86"/>
<rect x="1187.91" y="241.88" width="34.53" height="4.63" fill="#8c8c2e"/>
<rect x="1187.91" y="246.22" width="34.53" height="2.47" fill="#ececc0"/>
<rect x="1187.91" y="248.38" width="34.53" height="4.63" fill="#383856"/>
<rect x="1187.91" y="252.72" width="34.53" height="15.47" fill="#c8c820"/>
<rect x="1187.91" y="267.88" width="34.53" height="13.30" fill="#383856"/>
<rect x="1187.91" y="280.88" width="34.53" height="13.30" fill="#8c8c2e"/>
<rect x="1187.91" y="293.88" width="34.53" height="7.88" fill="#c8c820"/>
<rect x="1187.91" y="301.47" width="34.53" height="4.63" fill="#46463a"/>
<rect x="1187.91" y="305.80" width="34.53" height="4.63" fill="#ececc0"/>
<rect x="1187.91" y="310.13" width="34.53" height="12.22" fill="#5e5e30"/>
<rect x="1187.91" y="322.05" width="34.53" height="8.97" fill="#c8c820"/>
<rect x="1187.91" y="330.72" width="34.53" height="7.88" fill="#2b2b86"/>
<rect x="1187.91" y="338.30" width="34.53" height="7.88" fill="#8c8c2e"/>
<rect x="1187.91" y="345.88" width="34.53" height="7.88" fill="#5e5e30"/>
<rect x="1187.91" y="353.47" width="34.53" height="10.05" fill="#ffff00"/>
<rect x="1187.91" y="363.22" width="34.53" height="6.80" fill="#46463a"/>
<rect x="1187.91" y="369.72" width="34.53" height="7.88" fill="#8c8c2e"/>
<rect x="1221.74" y="143.30" width="34.53" height="6.80" fill="#ffff00"/>
<rect x="1221.74" y="149.80" width="34.53" height="10.05" fill="#8c8c2e"/>
<rect x="1221.74" y="159.55" width="34.53" height="6.80" fill="#2b2b86"/>
<rect x="1221.74" y="166.05" width="34.53" height="10.05" fill="#383856"/>
<rect x="1221.74" y="175.80" width="34.53" height="5.72" fill="#2b2b86"/>
<rect x="1221.74" y="181.22" width="34.53" height="11.13" fill="#8c8c2e"/>
<rect x="1221.74" y="192.05" width="34.53" height="3.55" fill="#ececc0"/>
<rect x="1221.74" y="195.30" width="34.53" height="5.72" fill="#2e2e2a"/>
<rect x="1221.74" y="200.72" width="34.53" height="10.05" fill="#c8c820"/>
<rect x="1221.74" y="210.47" width="34.53" height="7.88" fill="#383856"/>
<rect x="1221.74" y="218.05" width="34.53" height="6.80" fill="#8a8ab0"/>
<rect x="1221.74" y="224.55" width="34.53" height="24.13" fill="#2b2b86"/>
<rect x="1221.74" y="248.38" width="34.53" height="4.63" fill="#8c8c2e"/>
<rect x="1221.74" y="252.72" width="34.53" height="14.38" fill="#383856"/>
<rect x="1221.74" y="266.80" width="34.53" height="14.38" fill="#2b2b86"/>
<rect x="1221.74" y="280.88" width="34.53" height="4.63" fill="#8c8c2e"/>
<rect x="1221.74" y="285.22" width="34.53" height="4.63" fill="#2b2b86"/>
<rect x="1221.74" y="289.55" width="34.53" height="24.13" fill="#383856"/>
<rect x="1221.74" y="313.38" width="34.53" height="11.13" fill="#2b2b86"/>
<rect x="1221.74" y="324.22" width="34.53" height="5.72" fill="#383856"/>
<rect x="1221.74" y="329.63" width="34.53" height="5.72" fill="#0000ff"/>
<rect x="1221.74" y="335.05" width="34.53" height="11.13" fill="#8c8c2e"/>
<rect x="1221.74" y="345.88" width="34.53" height="5.72" fill="#2b2b86"/>
<rect x="1221.74" y="351.30" width="34.53" height="11.13" fill="#383856"/>
<rect x="1221.74" y="362.13" width="34.53" height="15.47" fill="#2b2b86"/>
<rect x="1255.57" y="143.30" width="34.53" height="7.88" fill="#c8c820"/>
<rect x="1255.57" y="150.88" width="34.53" height="1.38" fill="#ececc0"/>
<rect x="1255.57" y="151.97" width="34.53" height="7.88" fill="#8c8c2e"/>
<rect x="1255.57" y="159.55" width="34.53" height="1.38" fill="#ececc0"/>
<rect x="1255.57" y="160.63" width="34.53" height="16.55" fill="#c8c820"/>
<rect x="1255.57" y="176.88" width="34.53" height="1.38" fill="#ececc0"/>
<rect x="1255.57" y="177.97" width="34.53" height="3.55" fill="#2e2e2a"/>
<rect x="1255.57" y="181.22" width="34.53" height="8.97" fill="#8c8c2e"/>
<rect x="1255.57" y="189.88" width="34.53" height="8.97" fill="#c8c820"/>
<rect x="1255.57" y="198.55" width="34.53" height="2.47" fill="#2e2e2a"/>
<rect x="1255.57" y="200.72" width="34.53" height="15.47" fill="#383856"/>
<rect x="1255.57" y="215.88" width="34.53" height="8.97" fill="#5e5e30"/>
<rect x="1255.57" y="224.55" width="34.53" height="8.97" fill="#8c8c2e"/>
<rect x="1255.57" y="233.22" width="34.53" height="20.88" fill="#5e5e30"/>
<rect x="1255.57" y="253.80" width="34.53" height="12.22" fill="#c8c820"/>
<rect x="1255.57" y="265.72" width="34.53" height="2.47" fill="#2e2e2a"/>
<rect x="1255.57" y="267.88" width="34.53" height="8.97" fill="#2b2b86"/>
<rect x="1255.57" y="276.55" width="34.53" height="3.55" fill="#8a8ab0"/>
<rect x="1255.57" y="279.80" width="34.53" height="5.72" fill="#8c8c2e"/>
<rect x="1255.57" y="285.22" width="34.53" height="2.47" fill="#2b2b86"/>
<rect x="1255.57" y="287.38" width="34.53" height="6.80" fill="#8c8c2e"/>
<rect x="1255.57" y="293.88" width="34.53" height="8.97" fill="#2b2b86"/>
<rect x="1255.57" y="302.55" width="34.53" height="8.97" fill="#8c8c2e"/>
<rect x="1255.57" y="311.22" width="34.53" height="8.97" fill="#383856"/>
<rect x="1255.57" y="319.88" width="34.53" height="6.80" fill="#c8c820"/>
<rect x="1255.57" y="326.38" width="34.53" height="8.97" fill="#5e5e30"/>
<rect x="1255.57" y="335.05" width="34.53" height="4.63" fill="#8a8ab0"/>
<rect x="1255.57" y="339.38" width="34.53" height="4.63" fill="#2b2b86"/>
<rect x="1255.57" y="343.72" width="34.53" height="4.63" fill="#c8c820"/>
<rect x="1255.57" y="348.05" width="34.53" height="8.97" fill="#5e5e30"/>
<rect x="1255.57" y="356.72" width="34.53" height="6.80" fill="#8c8c2e"/>
<rect x="1255.57" y="363.22" width="34.53" height="4.63" fill="#2e2e2a"/>
<rect x="1255.57" y="367.55" width="34.53" height="5.72" fill="#c8c820"/>
<rect x="1255.57" y="372.97" width="34.53" height="4.63" fill="#2b2b86"/>
<rect x="1289.40" y="143.30" width="34.53" height="5.72" fill="#ffff00"/>
<rect x="1289.40" y="148.72" width="34.53" height="5.72" fill="#2b2b86"/>
<rect x="1289.40" y="154.13" width="34.53" height="13.30" fill="#5e5e30"/>
<rect x="1289.40" y="167.13" width="34.53" height="4.63" fill="#2e2e2a"/>
<rect x="1289.40" y="171.47" width="34.53" height="5.72" fill="#8c8c2e"/>
<rect x="1289.40" y="176.88" width="34.53" height="8.97" fill="#383856"/>
<rect x="1289.40" y="185.55" width="34.53" height="8.97" fill="#8c8c2e"/>
<rect x="1289.40" y="194.22" width="34.53" height="4.63" fill="#5e5e30"/>
<rect x="1289.40" y="198.55" width="34.53" height="6.80" fill="#2121bd"/>
<rect x="1289.40" y="205.05" width="34.53" height="8.97" fill="#383856"/>
<rect x="1289.40" y="213.72" width="34.53" height="45.80" fill="#2b2b86"/>
<rect x="1289.40" y="259.22" width="34.53" height="4.63" fill="#8a8ab0"/>
<rect x="1289.40" y="263.55" width="34.53" height="6.80" fill="#2121bd"/>
<rect x="1289.40" y="270.05" width="34.53" height="11.13" fill="#2b2b86"/>
<rect x="1289.40" y="280.88" width="34.53" height="19.80" fill="#383856"/>
<rect x="1289.40" y="300.38" width="34.53" height="8.97" fill="#8c8c2e"/>
<rect x="1289.40" y="309.05" width="34.53" height="6.80" fill="#5e5e30"/>
<rect x="1289.40" y="315.55" width="34.53" height="8.97" fill="#2121bd"/>
<rect x="1289.40" y="324.22" width="34.53" height="6.80" fill="#5e5e30"/>
<rect x="1289.40" y="330.72" width="34.53" height="6.80" fill="#46463a"/>
<rect x="1289.40" y="337.22" width="34.53" height="6.80" fill="#2b2b86"/>
<rect x="1289.40" y="343.72" width="34.53" height="8.97" fill="#383856"/>
<rect x="1289.40" y="352.38" width="34.53" height="4.63" fill="#46463a"/>
<rect x="1289.40" y="356.72" width="34.53" height="3.55" fill="#2121bd"/>
<rect x="1289.40" y="359.97" width="34.53" height="5.72" fill="#8c8c2e"/>
<rect x="1289.40" y="365.38" width="34.53" height="5.72" fill="#2b2b86"/>
<rect x="1289.40" y="370.80" width="34.53" height="6.80" fill="#c8c820"/>
<rect x="1323.23" y="143.30" width="34.53" height="6.80" fill="#5e5e30"/>
<rect x="1323.23" y="149.80" width="34.53" height="5.72" fill="#ffff00"/>
<rect x="1323.23" y="155.22" width="34.53" height="6.80" fill="#8c8c2e"/>
<rect x="1323.23" y="161.72" width="34.53" height="6.80" fill="#ffff00"/>
<rect x="1323.23" y="168.22" width="34.53" height="11.13" fill="#8c8c2e"/>
<rect x="1323.23" y="179.05" width="34.53" height="8.97" fill="#383856"/>
<rect x="1323.23" y="187.72" width="34.53" height="6.80" fill="#8c8c2e"/>
<rect x="1323.23" y="194.22" width="34.53" height="4.63" fill="#2e2e2a"/>
<rect x="1323.23" y="198.55" width="34.53" height="11.13" fill="#383856"/>
<rect x="1323.23" y="209.38" width="34.53" height="17.63" fill="#2b2b86"/>
<rect x="1323.23" y="226.72" width="34.53" height="15.47" fill="#46463a"/>
<rect x="1323.23" y="241.88" width="34.53" height="6.80" fill="#383856"/>
<rect x="1323.23" y="248.38" width="34.53" height="8.97" fill="#2121bd"/>
<rect x="1323.23" y="257.05" width="34.53" height="7.88" fill="#383856"/>
<rect x="1323.23" y="264.63" width="34.53" height="4.63" fill="#0000ff"/>
<rect x="1323.23" y="268.97" width="34.53" height="12.22" fill="#46463a"/>
<rect x="1323.23" y="280.88" width="34.53" height="11.13" fill="#2b2b86"/>
<rect x="1323.23" y="291.72" width="34.53" height="8.97" fill="#383856"/>
<rect x="1323.23" y="300.38" width="34.53" height="4.63" fill="#8c8c2e"/>
<rect x="1323.23" y="304.72" width="34.53" height="6.80" fill="#2121bd"/>
<rect x="1323.23" y="311.22" width="34.53" height="4.63" fill="#8c8c2e"/>
<rect x="1323.23" y="315.55" width="34.53" height="6.80" fill="#383856"/>
<rect x="1323.23" y="322.05" width="34.53" height="4.63" fill="#5e5e30"/>
<rect x="1323.23" y="326.38" width="34.53" height="6.80" fill="#2b2b86"/>
<rect x="1323.23" y="332.88" width="34.53" height="8.97" fill="#8c8c2e"/>
<rect x="1323.23" y="341.55" width="34.53" height="11.13" fill="#383856"/>
<rect x="1323.23" y="352.38" width="34.53" height="8.97" fill="#2121bd"/>
<rect x="1323.23" y="361.05" width="34.53" height="16.55" fill="#5e5e30"/>
<rect x="1357.06" y="143.30" width="34.53" height="3.55" fill="#2121bd"/>
<rect x="1357.06" y="146.55" width="34.53" height="13.30" fill="#ffff00"/>
<rect x="1357.06" y="159.55" width="34.53" height="13.30" fill="#8c8c2e"/>
<rect x="1357.06" y="172.55" width="34.53" height="4.63" fill="#ffff00"/>
<rect x="1357.06" y="176.88" width="34.53" height="4.63" fill="#2121bd"/>
<rect x="1357.06" y="181.22" width="34.53" height="5.72" fill="#46463a"/>
<rect x="1357.06" y="186.63" width="34.53" height="3.55" fill="#ffff00"/>
<rect x="1357.06" y="189.88" width="34.53" height="8.97" fill="#2b2b86"/>
<rect x="1357.06" y="198.55" width="34.53" height="11.13" fill="#8c8c2e"/>
<rect x="1357.06" y="209.38" width="34.53" height="10.05" fill="#5e5e30"/>
<rect x="1357.06" y="219.13" width="34.53" height="5.72" fill="#8a8ab0"/>
<rect x="1357.06" y="224.55" width="34.53" height="13.30" fill="#46463a"/>
<rect x="1357.06" y="237.55" width="34.53" height="21.97" fill="#2b2b86"/>
<rect x="1357.06" y="259.22" width="34.53" height="5.72" fill="#5e5e30"/>
<rect x="1357.06" y="264.63" width="34.53" height="5.72" fill="#2121bd"/>
<rect x="1357.06" y="270.05" width="34.53" height="6.80" fill="#0000ff"/>
<rect x="1357.06" y="276.55" width="34.53" height="4.63" fill="#8c8c2e"/>
<rect x="1357.06" y="280.88" width="34.53" height="4.63" fill="#2b2b86"/>
<rect x="1357.06" y="285.22" width="34.53" height="6.80" fill="#5e5e30"/>
<rect x="1357.06" y="291.72" width="34.53" height="11.13" fill="#383856"/>
<rect x="1357.06" y="302.55" width="34.53" height="11.13" fill="#8c8c2e"/>
<rect x="1357.06" y="313.38" width="34.53" height="4.63" fill="#46463a"/>
<rect x="1357.06" y="317.72" width="34.53" height="6.80" fill="#383856"/>
<rect x="1357.06" y="324.22" width="34.53" height="6.80" fill="#2b2b86"/>
<rect x="1357.06" y="330.72" width="34.53" height="8.97" fill="#5e5e30"/>
<rect x="1357.06" y="339.38" width="34.53" height="6.80" fill="#2121bd"/>
<rect x="1357.06" y="345.88" width="34.53" height="6.80" fill="#5e5e30"/>
<rect x="1357.06" y="352.38" width="34.53" height="4.63" fill="#8a8ab0"/>
<rect x="1357.06" y="356.72" width="34.53" height="6.80" fill="#2b2b86"/>
<rect x="1357.06" y="363.22" width="34.53" height="4.63" fill="#c8c820"/>
<rect x="1357.06" y="367.55" width="34.53" height="10.05" fill="#383856"/>
<rect x="1390.89" y="143.30" width="34.53" height="12.22" fill="#ffff00"/>
<rect x="1390.89" y="155.22" width="34.53" height="6.80" fill="#8c8c2e"/>
<rect x="1390.89" y="161.72" width="34.53" height="4.63" fill="#46463a"/>
<rect x="1390.89" y="166.05" width="34.53" height="2.47" fill="#ececc0"/>
<rect x="1390.89" y="168.22" width="34.53" height="13.30" fill="#5e5e30"/>
<rect x="1390.89" y="181.22" width="34.53" height="4.63" fill="#383856"/>
<rect x="1390.89" y="185.55" width="34.53" height="6.80" fill="#ffff00"/>
<rect x="1390.89" y="192.05" width="34.53" height="4.63" fill="#ececc0"/>
<rect x="1390.89" y="196.38" width="34.53" height="13.30" fill="#ffff00"/>
<rect x="1390.89" y="209.38" width="34.53" height="6.80" fill="#8c8c2e"/>
<rect x="1390.89" y="215.88" width="34.53" height="4.63" fill="#2e2e2a"/>
<rect x="1390.89" y="220.22" width="34.53" height="15.47" fill="#ffff00"/>
<rect x="1390.89" y="235.38" width="34.53" height="2.47" fill="#ececc0"/>
<rect x="1390.89" y="237.55" width="34.53" height="4.63" fill="#46463a"/>
<rect x="1390.89" y="241.88" width="34.53" height="8.97" fill="#8c8c2e"/>
<rect x="1390.89" y="250.55" width="34.53" height="4.63" fill="#ececc0"/>
<rect x="1390.89" y="254.88" width="34.53" height="13.30" fill="#ffff00"/>
<rect x="1390.89" y="267.88" width="34.53" height="3.55" fill="#2e2e2a"/>
<rect x="1390.89" y="271.13" width="34.53" height="5.72" fill="#0000ff"/>
<rect x="1390.89" y="276.55" width="34.53" height="4.63" fill="#8c8c2e"/>
<rect x="1390.89" y="280.88" width="34.53" height="21.97" fill="#2b2b86"/>
<rect x="1390.89" y="302.55" width="34.53" height="4.63" fill="#8c8c2e"/>
<rect x="1390.89" y="306.88" width="34.53" height="11.13" fill="#2121bd"/>
<rect x="1390.89" y="317.72" width="34.53" height="6.80" fill="#ffff00"/>
<rect x="1390.89" y="324.22" width="34.53" height="4.63" fill="#2b2b86"/>
<rect x="1390.89" y="328.55" width="34.53" height="11.13" fill="#8c8c2e"/>
<rect x="1390.89" y="339.38" width="34.53" height="6.80" fill="#c8c820"/>
<rect x="1390.89" y="345.88" width="34.53" height="6.80" fill="#2121bd"/>
<rect x="1390.89" y="352.38" width="34.53" height="3.55" fill="#ffff00"/>
<rect x="1390.89" y="355.63" width="34.53" height="11.13" fill="#2b2b86"/>
<rect x="1390.89" y="366.47" width="34.53" height="7.88" fill="#0000ff"/>
<rect x="1390.89" y="374.05" width="34.53" height="3.55" fill="#ffff00"/>
<rect x="1424.72" y="143.30" width="34.53" height="3.55" fill="#5e5e30"/>
<rect x="1424.72" y="146.55" width="34.53" height="17.63" fill="#ffff00"/>
<rect x="1424.72" y="163.88" width="34.53" height="12.22" fill="#c8c820"/>
<rect x="1424.72" y="175.80" width="34.53" height="4.63" fill="#ffff00"/>
<rect x="1424.72" y="180.13" width="34.53" height="5.72" fill="#383856"/>
<rect x="1424.72" y="185.55" width="34.53" height="3.55" fill="#2e2e2a"/>
<rect x="1424.72" y="188.80" width="34.53" height="3.55" fill="#8c8c2e"/>
<rect x="1424.72" y="192.05" width="34.53" height="3.55" fill="#2e2e2a"/>
<rect x="1424.72" y="195.30" width="34.53" height="5.72" fill="#ffff00"/>
<rect x="1424.72" y="200.72" width="34.53" height="6.80" fill="#c8c820"/>
<rect x="1424.72" y="207.22" width="34.53" height="6.80" fill="#5e5e30"/>
<rect x="1424.72" y="213.72" width="34.53" height="4.63" fill="#2b2b86"/>
<rect x="1424.72" y="218.05" width="34.53" height="4.63" fill="#8c8c2e"/>
<rect x="1424.72" y="222.38" width="34.53" height="8.97" fill="#383856"/>
<rect x="1424.72" y="231.05" width="34.53" height="6.80" fill="#5e5e30"/>
<rect x="1424.72" y="237.55" width="34.53" height="8.97" fill="#46463a"/>
<rect x="1424.72" y="246.22" width="34.53" height="3.55" fill="#ececc0"/>
<rect x="1424.72" y="249.47" width="34.53" height="3.55" fill="#2e2e2a"/>
<rect x="1424.72" y="252.72" width="34.53" height="7.88" fill="#2b2b86"/>
<rect x="1424.72" y="260.30" width="34.53" height="4.63" fill="#8c8c2e"/>
<rect x="1424.72" y="264.63" width="34.53" height="5.72" fill="#2b2b86"/>
<rect x="1424.72" y="270.05" width="34.53" height="6.80" fill="#8c8c2e"/>
<rect x="1424.72" y="276.55" width="34.53" height="7.88" fill="#383856"/>
<rect x="1424.72" y="284.13" width="34.53" height="7.88" fill="#8c8c2e"/>
<rect x="1424.72" y="291.72" width="34.53" height="17.63" fill="#2b2b86"/>
<rect x="1424.72" y="309.05" width="34.53" height="6.80" fill="#46463a"/>
<rect x="1424.72" y="315.55" width="34.53" height="8.97" fill="#8c8c2e"/>
<rect x="1424.72" y="324.22" width="34.53" height="8.97" fill="#2b2b86"/>
<rect x="1424.72" y="332.88" width="34.53" height="6.80" fill="#383856"/>
<rect x="1424.72" y="339.38" width="34.53" height="4.63" fill="#8a8ab0"/>
<rect x="1424.72" y="343.72" width="34.53" height="6.80" fill="#2121bd"/>
<rect x="1424.72" y="350.22" width="34.53" height="6.80" fill="#383856"/>
<rect x="1424.72" y="356.72" width="34.53" height="20.88" fill="#2121bd"/>
<rect x="1458.55" y="143.30" width="34.53" height="3.55" fill="#2b2b86"/>
<rect x="1458.55" y="146.55" width="34.53" height="5.72" fill="#8c8c2e"/>
<rect x="1458.55" y="151.97" width="34.53" height="10.05" fill="#383856"/>
<rect x="1458.55" y="161.72" width="34.53" height="13.30" fill="#8c8c2e"/>
<rect x="1458.55" y="174.72" width="34.53" height="8.97" fill="#383856"/>
<rect x="1458.55" y="183.38" width="34.53" height="4.63" fill="#8c8c2e"/>
<rect x="1458.55" y="187.72" width="34.53" height="3.55" fill="#2e2e2a"/>
<rect x="1458.55" y="190.97" width="34.53" height="3.55" fill="#ececc0"/>
<rect x="1458.55" y="194.22" width="34.53" height="4.63" fill="#2e2e2a"/>
<rect x="1458.55" y="198.55" width="34.53" height="3.55" fill="#8c8c2e"/>
<rect x="1458.55" y="201.80" width="34.53" height="5.72" fill="#ffff00"/>
<rect x="1458.55" y="207.22" width="34.53" height="8.97" fill="#5e5e30"/>
<rect x="1458.55" y="215.88" width="34.53" height="10.05" fill="#2b2b86"/>
<rect x="1458.55" y="225.63" width="34.53" height="7.88" fill="#c8c820"/>
<rect x="1458.55" y="233.22" width="34.53" height="7.88" fill="#8c8c2e"/>
<rect x="1458.55" y="240.80" width="34.53" height="3.55" fill="#2e2e2a"/>
<rect x="1458.55" y="244.05" width="34.53" height="4.63" fill="#383856"/>
<rect x="1458.55" y="248.38" width="34.53" height="4.63" fill="#8c8c2e"/>
<rect x="1458.55" y="252.72" width="34.53" height="4.63" fill="#2e2e2a"/>
<rect x="1458.55" y="257.05" width="34.53" height="5.72" fill="#8a8ab0"/>
<rect x="1458.55" y="262.47" width="34.53" height="7.88" fill="#8c8c2e"/>
<rect x="1458.55" y="270.05" width="34.53" height="4.63" fill="#ffff00"/>
<rect x="1458.55" y="274.38" width="34.53" height="6.80" fill="#8c8c2e"/>
<rect x="1458.55" y="280.88" width="34.53" height="4.63" fill="#5e5e30"/>
<rect x="1458.55" y="285.22" width="34.53" height="10.05" fill="#2b2b86"/>
<rect x="1458.55" y="294.97" width="34.53" height="3.55" fill="#ececc0"/>
<rect x="1458.55" y="298.22" width="34.53" height="6.80" fill="#2b2b86"/>
<rect x="1458.55" y="304.72" width="34.53" height="3.55" fill="#ececc0"/>
<rect x="1458.55" y="307.97" width="34.53" height="7.88" fill="#2121bd"/>
<rect x="1458.55" y="315.55" width="34.53" height="6.80" fill="#8c8c2e"/>
<rect x="1458.55" y="322.05" width="34.53" height="2.47" fill="#5e5e30"/>
<rect x="1458.55" y="324.22" width="34.53" height="13.30" fill="#2b2b86"/>
<rect x="1458.55" y="337.22" width="34.53" height="8.97" fill="#8c8c2e"/>
<rect x="1458.55" y="345.88" width="34.53" height="11.13" fill="#2121bd"/>
<rect x="1458.55" y="356.72" width="34.53" height="4.63" fill="#383856"/>
<rect x="1458.55" y="361.05" width="34.53" height="16.55" fill="#2121bd"/>
<rect x="1492.38" y="143.30" width="34.53" height="11.13" fill="#0000ff"/>
<rect x="1492.38" y="154.13" width="34.53" height="4.63" fill="#8a8ab0"/>
<rect x="1492.38" y="158.47" width="34.53" height="16.55" fill="#2121bd"/>
<rect x="1492.38" y="174.72" width="34.53" height="6.80" fill="#2b2b86"/>
<rect x="1492.38" y="181.22" width="34.53" height="4.63" fill="#8c8c2e"/>
<rect x="1492.38" y="185.55" width="34.53" height="5.72" fill="#5e5e30"/>
<rect x="1492.38" y="190.97" width="34.53" height="3.55" fill="#ececc0"/>
<rect x="1492.38" y="194.22" width="34.53" height="4.63" fill="#2e2e2a"/>
<rect x="1492.38" y="198.55" width="34.53" height="13.30" fill="#8c8c2e"/>
<rect x="1492.38" y="211.55" width="34.53" height="7.88" fill="#46463a"/>
<rect x="1492.38" y="219.13" width="34.53" height="3.55" fill="#ececc0"/>
<rect x="1492.38" y="222.38" width="34.53" height="7.88" fill="#ffff00"/>
<rect x="1492.38" y="229.97" width="34.53" height="7.88" fill="#46463a"/>
<rect x="1492.38" y="237.55" width="34.53" height="4.63" fill="#383856"/>
<rect x="1492.38" y="241.88" width="34.53" height="6.80" fill="#8c8c2e"/>
<rect x="1492.38" y="248.38" width="34.53" height="5.72" fill="#ececc0"/>
<rect x="1492.38" y="253.80" width="34.53" height="11.13" fill="#8c8c2e"/>
<rect x="1492.38" y="264.63" width="34.53" height="6.80" fill="#ffff00"/>
<rect x="1492.38" y="271.13" width="34.53" height="6.80" fill="#2b2b86"/>
<rect x="1492.38" y="277.63" width="34.53" height="3.55" fill="#ececc0"/>
<rect x="1492.38" y="280.88" width="34.53" height="3.55" fill="#2e2e2a"/>
<rect x="1492.38" y="284.13" width="34.53" height="7.88" fill="#383856"/>
<rect x="1492.38" y="291.72" width="34.53" height="13.30" fill="#2b2b86"/>
<rect x="1492.38" y="304.72" width="34.53" height="8.97" fill="#383856"/>
<rect x="1492.38" y="313.38" width="34.53" height="4.63" fill="#5e5e30"/>
<rect x="1492.38" y="317.72" width="34.53" height="3.55" fill="#ececc0"/>
<rect x="1492.38" y="320.97" width="34.53" height="4.63" fill="#ffff00"/>
<rect x="1492.38" y="325.30" width="34.53" height="10.05" fill="#2b2b86"/>
<rect x="1492.38" y="335.05" width="34.53" height="8.97" fill="#8c8c2e"/>
<rect x="1492.38" y="343.72" width="34.53" height="7.88" fill="#2121bd"/>
<rect x="1492.38" y="351.30" width="34.53" height="6.80" fill="#383856"/>
<rect x="1492.38" y="357.80" width="34.53" height="3.55" fill="#ececc0"/>
<rect x="1492.38" y="361.05" width="34.53" height="16.55" fill="#2121bd"/>
<rect x="1526.21" y="143.30" width="34.53" height="17.63" fill="#2b2b86"/>
<rect x="1526.21" y="160.63" width="34.53" height="4.63" fill="#8a8ab0"/>
<rect x="1526.21" y="164.97" width="34.53" height="16.55" fill="#2b2b86"/>
<rect x="1526.21" y="181.22" width="34.53" height="4.63" fill="#8c8c2e"/>
<rect x="1526.21" y="185.55" width="34.53" height="8.97" fill="#2b2b86"/>
<rect x="1526.21" y="194.22" width="34.53" height="11.13" fill="#383856"/>
<rect x="1526.21" y="205.05" width="34.53" height="4.63" fill="#8a8ab0"/>
<rect x="1526.21" y="209.38" width="34.53" height="8.97" fill="#2b2b86"/>
<rect x="1526.21" y="218.05" width="34.53" height="4.63" fill="#c8c820"/>
<rect x="1526.21" y="222.38" width="34.53" height="4.63" fill="#ffff00"/>
<rect x="1526.21" y="226.72" width="34.53" height="16.55" fill="#2b2b86"/>
<rect x="1526.21" y="242.97" width="34.53" height="3.55" fill="#8a8ab0"/>
<rect x="1526.21" y="246.22" width="34.53" height="8.97" fill="#2b2b86"/>
<rect x="1526.21" y="254.88" width="34.53" height="4.63" fill="#8a8ab0"/>
<rect x="1526.21" y="259.22" width="34.53" height="5.72" fill="#2b2b86"/>
<rect x="1526.21" y="264.63" width="34.53" height="3.55" fill="#ffff00"/>
<rect x="1526.21" y="267.88" width="34.53" height="3.55" fill="#ececc0"/>
<rect x="1526.21" y="271.13" width="34.53" height="20.88" fill="#2b2b86"/>
<rect x="1526.21" y="291.72" width="34.53" height="32.80" fill="#0000ff"/>
<rect x="1526.21" y="324.22" width="34.53" height="8.97" fill="#2121bd"/>
<rect x="1526.21" y="332.88" width="34.53" height="4.63" fill="#383856"/>
<rect x="1526.21" y="337.22" width="34.53" height="40.38" fill="#0000ff"/>
<rect x="1560.04" y="143.30" width="34.53" height="7.88" fill="#2121bd"/>
<rect x="1560.04" y="150.88" width="34.53" height="3.55" fill="#8c8c2e"/>
<rect x="1560.04" y="154.13" width="34.53" height="6.80" fill="#383856"/>
<rect x="1560.04" y="160.63" width="34.53" height="8.97" fill="#8c8c2e"/>
<rect x="1560.04" y="169.30" width="34.53" height="5.72" fill="#2b2b86"/>
<rect x="1560.04" y="174.72" width="34.53" height="13.30" fill="#5e5e30"/>
<rect x="1560.04" y="187.72" width="34.53" height="4.63" fill="#383856"/>
<rect x="1560.04" y="192.05" width="34.53" height="4.63" fill="#8a8ab0"/>
<rect x="1560.04" y="196.38" width="34.53" height="11.13" fill="#2b2b86"/>
<rect x="1560.04" y="207.22" width="34.53" height="8.97" fill="#2121bd"/>
<rect x="1560.04" y="215.88" width="34.53" height="6.80" fill="#383856"/>
<rect x="1560.04" y="222.38" width="34.53" height="4.63" fill="#8c8c2e"/>
<rect x="1560.04" y="226.72" width="34.53" height="16.55" fill="#2b2b86"/>
<rect x="1560.04" y="242.97" width="34.53" height="25.22" fill="#0000ff"/>
<rect x="1560.04" y="267.88" width="34.53" height="6.80" fill="#c8c820"/>
<rect x="1560.04" y="274.38" width="34.53" height="10.05" fill="#46463a"/>
<rect x="1560.04" y="284.13" width="34.53" height="18.72" fill="#2121bd"/>
<rect x="1560.04" y="302.55" width="34.53" height="11.13" fill="#0000ff"/>
<rect x="1560.04" y="313.38" width="34.53" height="5.72" fill="#8a8ab0"/>
<rect x="1560.04" y="318.80" width="34.53" height="5.72" fill="#383856"/>
<rect x="1560.04" y="324.22" width="34.53" height="8.97" fill="#2121bd"/>
<rect x="1560.04" y="332.88" width="34.53" height="7.88" fill="#383856"/>
<rect x="1560.04" y="340.47" width="34.53" height="37.13" fill="#0000ff"/>
<rect x="1593.87" y="143.30" width="34.53" height="3.60" fill="#2b2b86"/>
<rect x="1593.87" y="146.60" width="34.53" height="6.89" fill="#383856"/>
<rect x="1593.87" y="153.19" width="34.53" height="7.99" fill="#383856"/>
<rect x="1593.87" y="160.88" width="34.53" height="6.89" fill="#8c8c2e"/>
<rect x="1593.87" y="167.47" width="34.53" height="5.79" fill="#8a8ab0"/>
<rect x="1593.87" y="172.96" width="34.53" height="4.69" fill="#46463a"/>
<rect x="1593.87" y="177.36" width="34.53" height="6.89" fill="#8c8c2e"/>
<rect x="1593.87" y="183.95" width="34.53" height="7.99" fill="#383856"/>
<rect x="1593.87" y="191.64" width="34.53" height="5.79" fill="#8a8ab0"/>
<rect x="1593.87" y="197.13" width="34.53" height="9.09" fill="#383856"/>
<rect x="1593.87" y="205.92" width="34.53" height="13.48" fill="#5e5e30"/>
<rect x="1593.87" y="219.10" width="34.53" height="14.58" fill="#383856"/>
<rect x="1593.87" y="233.38" width="34.53" height="2.50" fill="#8a8ab0"/>
<rect x="1593.87" y="235.58" width="34.53" height="7.99" fill="#383856"/>
<rect x="1593.87" y="243.27" width="34.53" height="6.89" fill="#2121bd"/>
<rect x="1593.87" y="249.86" width="34.53" height="2.50" fill="#383856"/>
<rect x="1593.87" y="252.06" width="34.53" height="4.69" fill="#8a8ab0"/>
<rect x="1593.87" y="256.45" width="34.53" height="4.69" fill="#383856"/>
<rect x="1593.87" y="260.85" width="34.53" height="3.60" fill="#8a8ab0"/>
<rect x="1593.87" y="264.15" width="34.53" height="5.79" fill="#2121bd"/>
<rect x="1593.87" y="269.64" width="34.53" height="6.89" fill="#8c8c2e"/>
<rect x="1593.87" y="276.23" width="34.53" height="5.79" fill="#ffff00"/>
<rect x="1593.87" y="281.72" width="34.53" height="12.38" fill="#2121bd"/>
<rect x="1593.87" y="293.81" width="34.53" height="22.27" fill="#2121bd"/>
<rect x="1593.87" y="315.78" width="34.53" height="4.69" fill="#8a8ab0"/>
<rect x="1593.87" y="320.17" width="34.53" height="15.68" fill="#2121bd"/>
<rect x="1593.87" y="335.55" width="34.53" height="4.69" fill="#8a8ab0"/>
<rect x="1593.87" y="339.95" width="34.53" height="4.69" fill="#383856"/>
<rect x="1593.87" y="344.34" width="34.53" height="33.26" fill="#0000ff"/>
<rect x="1627.70" y="143.30" width="34.53" height="10.19" fill="#0000ff"/>
<rect x="1627.70" y="153.19" width="34.53" height="4.69" fill="#383856"/>
<rect x="1627.70" y="157.58" width="34.53" height="5.79" fill="#8c8c2e"/>
<rect x="1627.70" y="163.07" width="34.53" height="5.79" fill="#383856"/>
<rect x="1627.70" y="168.57" width="34.53" height="7.99" fill="#8c8c2e"/>
<rect x="1627.70" y="176.26" width="34.53" height="4.69" fill="#8a8ab0"/>
<rect x="1627.70" y="180.65" width="34.53" height="5.79" fill="#5e5e30"/>
<rect x="1627.70" y="186.15" width="34.53" height="15.68" fill="#ffff00"/>
<rect x="1627.70" y="201.53" width="34.53" height="4.69" fill="#8c8c2e"/>
<rect x="1627.70" y="205.92" width="34.53" height="3.60" fill="#383856"/>
<rect x="1627.70" y="209.22" width="34.53" height="3.60" fill="#ffff00"/>
<rect x="1627.70" y="212.51" width="34.53" height="6.89" fill="#c8c820"/>
<rect x="1627.70" y="219.10" width="34.53" height="2.50" fill="#383856"/>
<rect x="1627.70" y="221.30" width="34.53" height="7.99" fill="#8c8c2e"/>
<rect x="1627.70" y="228.99" width="34.53" height="4.69" fill="#383856"/>
<rect x="1627.70" y="233.38" width="34.53" height="3.60" fill="#8a8ab0"/>
<rect x="1627.70" y="236.68" width="34.53" height="5.79" fill="#c8c820"/>
<rect x="1627.70" y="242.17" width="34.53" height="5.79" fill="#2b2b86"/>
<rect x="1627.70" y="247.67" width="34.53" height="2.50" fill="#8a8ab0"/>
<rect x="1627.70" y="249.86" width="34.53" height="4.69" fill="#2e2e2a"/>
<rect x="1627.70" y="254.26" width="34.53" height="2.50" fill="#8a8ab0"/>
<rect x="1627.70" y="256.45" width="34.53" height="4.69" fill="#8c8c2e"/>
<rect x="1627.70" y="260.85" width="34.53" height="4.69" fill="#2b2b86"/>
<rect x="1627.70" y="265.24" width="34.53" height="3.60" fill="#ececc0"/>
<rect x="1627.70" y="268.54" width="34.53" height="6.89" fill="#8c8c2e"/>
<rect x="1627.70" y="275.13" width="34.53" height="3.60" fill="#383856"/>
<rect x="1627.70" y="278.43" width="34.53" height="4.69" fill="#ffff00"/>
<rect x="1627.70" y="282.82" width="34.53" height="11.29" fill="#2b2b86"/>
<rect x="1627.70" y="293.81" width="34.53" height="2.50" fill="#ececc0"/>
<rect x="1627.70" y="296.00" width="34.53" height="6.89" fill="#8c8c2e"/>
<rect x="1627.70" y="302.60" width="34.53" height="9.09" fill="#2b2b86"/>
<rect x="1627.70" y="311.38" width="34.53" height="6.89" fill="#0000ff"/>
<rect x="1627.70" y="317.98" width="34.53" height="9.09" fill="#383856"/>
<rect x="1627.70" y="326.76" width="34.53" height="17.88" fill="#2121bd"/>
<rect x="1627.70" y="344.34" width="34.53" height="2.50" fill="#8c8c2e"/>
<rect x="1627.70" y="346.54" width="34.53" height="31.06" fill="#0000ff"/>
<rect x="1661.53" y="143.30" width="34.53" height="3.60" fill="#ffff00"/>
<rect x="1661.53" y="146.60" width="34.53" height="3.60" fill="#2b2b86"/>
<rect x="1661.53" y="149.89" width="34.53" height="3.60" fill="#ececc0"/>
<rect x="1661.53" y="153.19" width="34.53" height="3.60" fill="#8c8c2e"/>
<rect x="1661.53" y="156.48" width="34.53" height="2.50" fill="#8a8ab0"/>
<rect x="1661.53" y="158.68" width="34.53" height="12.38" fill="#ffff00"/>
<rect x="1661.53" y="170.76" width="34.53" height="2.50" fill="#8c8c2e"/>
<rect x="1661.53" y="172.96" width="34.53" height="6.89" fill="#ffff00"/>
<rect x="1661.53" y="179.55" width="34.53" height="6.89" fill="#8c8c2e"/>
<rect x="1661.53" y="186.15" width="34.53" height="9.09" fill="#ffff00"/>
<rect x="1661.53" y="194.93" width="34.53" height="9.09" fill="#8c8c2e"/>
<rect x="1661.53" y="203.72" width="34.53" height="4.69" fill="#383856"/>
<rect x="1661.53" y="208.12" width="34.53" height="4.69" fill="#8a8ab0"/>
<rect x="1661.53" y="212.51" width="34.53" height="11.29" fill="#5e5e30"/>
<rect x="1661.53" y="223.50" width="34.53" height="4.69" fill="#ffff00"/>
<rect x="1661.53" y="227.89" width="34.53" height="6.89" fill="#46463a"/>
<rect x="1661.53" y="234.48" width="34.53" height="9.09" fill="#8c8c2e"/>
<rect x="1661.53" y="243.27" width="34.53" height="6.89" fill="#383856"/>
<rect x="1661.53" y="249.86" width="34.53" height="4.69" fill="#2e2e2a"/>
<rect x="1661.53" y="254.26" width="34.53" height="7.99" fill="#8c8c2e"/>
<rect x="1661.53" y="261.95" width="34.53" height="4.69" fill="#ececc0"/>
<rect x="1661.53" y="266.34" width="34.53" height="3.60" fill="#2e2e2a"/>
<rect x="1661.53" y="269.64" width="34.53" height="2.50" fill="#ececc0"/>
<rect x="1661.53" y="271.84" width="34.53" height="6.89" fill="#2b2b86"/>
<rect x="1661.53" y="278.43" width="34.53" height="5.79" fill="#46463a"/>
<rect x="1661.53" y="283.92" width="34.53" height="3.60" fill="#8a8ab0"/>
<rect x="1661.53" y="287.22" width="34.53" height="4.69" fill="#383856"/>
<rect x="1661.53" y="291.61" width="34.53" height="13.48" fill="#2b2b86"/>
<rect x="1661.53" y="304.79" width="34.53" height="4.69" fill="#8a8ab0"/>
<rect x="1661.53" y="309.19" width="34.53" height="6.89" fill="#2b2b86"/>
<rect x="1661.53" y="315.78" width="34.53" height="4.69" fill="#8a8ab0"/>
<rect x="1661.53" y="320.17" width="34.53" height="6.89" fill="#383856"/>
<rect x="1661.53" y="326.76" width="34.53" height="6.89" fill="#2121bd"/>
<rect x="1661.53" y="333.36" width="34.53" height="5.79" fill="#8c8c2e"/>
<rect x="1661.53" y="338.85" width="34.53" height="38.75" fill="#2121bd"/>
<rect x="1695.36" y="143.30" width="34.53" height="3.60" fill="#0000ff"/>
<rect x="1695.36" y="146.60" width="34.53" height="9.09" fill="#ffff00"/>
<rect x="1695.36" y="155.38" width="34.53" height="6.89" fill="#8c8c2e"/>
<rect x="1695.36" y="161.98" width="34.53" height="4.69" fill="#ffff00"/>
<rect x="1695.36" y="166.37" width="34.53" height="10.19" fill="#8c8c2e"/>
<rect x="1695.36" y="176.26" width="34.53" height="5.79" fill="#46463a"/>
<rect x="1695.36" y="181.75" width="34.53" height="4.69" fill="#383856"/>
<rect x="1695.36" y="186.15" width="34.53" height="4.69" fill="#8a8ab0"/>
<rect x="1695.36" y="190.54" width="34.53" height="6.89" fill="#46463a"/>
<rect x="1695.36" y="197.13" width="34.53" height="5.79" fill="#ececc0"/>
<rect x="1695.36" y="202.62" width="34.53" height="2.50" fill="#2e2e2a"/>
<rect x="1695.36" y="204.82" width="34.53" height="6.89" fill="#8c8c2e"/>
<rect x="1695.36" y="211.41" width="34.53" height="5.79" fill="#383856"/>
<rect x="1695.36" y="216.91" width="34.53" height="6.89" fill="#2b2b86"/>
<rect x="1695.36" y="223.50" width="34.53" height="4.69" fill="#0000ff"/>
<rect x="1695.36" y="227.89" width="34.53" height="6.89" fill="#c8c820"/>
<rect x="1695.36" y="234.48" width="34.53" height="4.69" fill="#2e2e2a"/>
<rect x="1695.36" y="238.88" width="34.53" height="6.89" fill="#46463a"/>
<rect x="1695.36" y="245.47" width="34.53" height="4.69" fill="#8a8ab0"/>
<rect x="1695.36" y="249.86" width="34.53" height="16.78" fill="#0000ff"/>
<rect x="1695.36" y="266.34" width="34.53" height="2.50" fill="#8a8ab0"/>
<rect x="1695.36" y="268.54" width="34.53" height="9.09" fill="#8c8c2e"/>
<rect x="1695.36" y="277.33" width="34.53" height="3.60" fill="#8c8c2e"/>
<rect x="1695.36" y="280.62" width="34.53" height="13.48" fill="#383856"/>
<rect x="1695.36" y="293.81" width="34.53" height="11.29" fill="#2b2b86"/>
<rect x="1695.36" y="304.79" width="34.53" height="13.48" fill="#383856"/>
<rect x="1695.36" y="317.98" width="34.53" height="4.69" fill="#8a8ab0"/>
<rect x="1695.36" y="322.37" width="34.53" height="21.17" fill="#0000ff"/>
<rect x="1695.36" y="343.24" width="34.53" height="5.79" fill="#383856"/>
<rect x="1695.36" y="348.74" width="34.53" height="6.89" fill="#ececc0"/>
<rect x="1695.36" y="355.33" width="34.53" height="6.89" fill="#0000ff"/>
<rect x="1695.36" y="361.92" width="34.53" height="2.50" fill="#8a8ab0"/>
<rect x="1695.36" y="364.12" width="34.53" height="13.48" fill="#0000ff"/>
<rect x="1729.19" y="143.30" width="34.53" height="3.60" fill="#0000ff"/>
<rect x="1729.19" y="146.60" width="34.53" height="4.69" fill="#383856"/>
<rect x="1729.19" y="150.99" width="34.53" height="4.69" fill="#8a8ab0"/>
<rect x="1729.19" y="155.38" width="34.53" height="2.50" fill="#2e2e2a"/>
<rect x="1729.19" y="157.58" width="34.53" height="6.89" fill="#ffff00"/>
<rect x="1729.19" y="164.17" width="34.53" height="9.09" fill="#8c8c2e"/>
<rect x="1729.19" y="172.96" width="34.53" height="4.69" fill="#2e2e2a"/>
<rect x="1729.19" y="177.36" width="34.53" height="6.89" fill="#8c8c2e"/>
<rect x="1729.19" y="183.95" width="34.53" height="4.69" fill="#383856"/>
<rect x="1729.19" y="188.34" width="34.53" height="15.68" fill="#0000ff"/>
<rect x="1729.19" y="203.72" width="34.53" height="6.89" fill="#2121bd"/>
<rect x="1729.19" y="210.31" width="34.53" height="9.09" fill="#383856"/>
<rect x="1729.19" y="219.10" width="34.53" height="4.69" fill="#8c8c2e"/>
<rect x="1729.19" y="223.50" width="34.53" height="48.64" fill="#0000ff"/>
<rect x="1729.19" y="271.84" width="34.53" height="5.79" fill="#8a8ab0"/>
<rect x="1729.19" y="277.33" width="34.53" height="13.48" fill="#2121bd"/>
<rect x="1729.19" y="290.51" width="34.53" height="4.69" fill="#8c8c2e"/>
<rect x="1729.19" y="294.91" width="34.53" height="10.19" fill="#383856"/>
<rect x="1729.19" y="304.79" width="34.53" height="46.44" fill="#0000ff"/>
<rect x="1729.19" y="350.93" width="34.53" height="3.60" fill="#ececc0"/>
<rect x="1729.19" y="354.23" width="34.53" height="23.37" fill="#0000ff"/>
<text x="692.9" y="413.8" font-size="39.5">female/male</text>
<text x="756.3" y="449.0" font-size="40">≥2+ Ab+</text>
<text x="831.6" y="486.7" font-size="40">Age</text>
<text x="622.6" y="537.0" font-size="40">compliance (%)</text>
<text x="920.7" y="414.8" font-size="40.5">F</text>
<text x="950.4" y="414.8" font-size="40.5">M</text>
<text x="988.2" y="414.8" font-size="40.5">F</text>
<text x="1021.2" y="414.8" font-size="40.5">M</text>
<text x="1056.3" y="414.8" font-size="40.5">F</text>
<text x="1086.9" y="414.8" font-size="40.5">M</text>
<text x="1124.5" y="414.8" font-size="40.5">F</text>
<text x="1154.7" y="414.8" font-size="40.5">M</text>
<text x="1191.2" y="414.8" font-size="40.5">M</text>
<text x="1227.8" y="414.8" font-size="40.5">F</text>
<text x="1261.1" y="414.8" font-size="40.5">F</text>
<text x="1296.1" y="414.8" font-size="40.5">F</text>
<text x="1325.4" y="414.8" font-size="40.5">M</text>
<text x="1364.1" y="414.8" font-size="40.5">F</text>
<text x="1397.3" y="414.8" font-size="40.5">F</text>
<text x="1432.8" y="414.8" font-size="40.5">F</text>
<text x="1466.8" y="414.8" font-size="40.5">F</text>
<text x="1495.6" y="414.8" font-size="40.5">M</text>
<text x="1534.1" y="414.8" font-size="40.5">F</text>
<text x="1567.8" y="414.8" font-size="40.5">F</text>
<text x="1601.5" y="414.8" font-size="40.5">F</text>
<text x="1635.1" y="414.8" font-size="40.5">F</text>
<text x="1666.2" y="414.8" font-size="40.5">M</text>
<text x="1700.3" y="414.8" font-size="40.5">M</text>
<text x="1734.2" y="414.8" font-size="40.5">F</text>
<text x="1193.5" y="453.0" font-size="40">+</text>
<text x="1228.6" y="453.0" font-size="40">+</text>
<text x="1328.3" y="453.0" font-size="40">+</text>
<text x="1598.8" y="453.0" font-size="40">+</text>
<rect x="918.40" y="463.6" width="32.90" height="21.5" fill="#ffff00"/>
<rect x="918.40" y="510.1" width="32.90" height="22.6" fill="#9494f4"/>
<rect x="951.10" y="463.6" width="34.03" height="21.5" fill="#f4f000"/>
<rect x="951.10" y="510.1" width="34.03" height="22.6" fill="#9494f4"/>
<rect x="984.93" y="463.6" width="34.03" height="21.5" fill="#ff2000"/>
<rect x="984.93" y="510.1" width="34.03" height="22.6" fill="#9494f4"/>
<rect x="1018.76" y="463.6" width="34.03" height="21.5" fill="#ff6000"/>
<rect x="1018.76" y="510.1" width="34.03" height="22.6" fill="#4c4c84"/>
<rect x="1052.59" y="463.6" width="34.03" height="21.5" fill="#a2d800"/>
<rect x="1052.59" y="510.1" width="34.03" height="22.6" fill="#3a3a08"/>
<rect x="1086.42" y="463.6" width="34.03" height="21.5" fill="#6ec000"/>
<rect x="1086.42" y="510.1" width="34.03" height="22.6" fill="#9494f4"/>
<rect x="1120.25" y="463.6" width="34.03" height="21.5" fill="#ffbb00"/>
<rect x="1120.25" y="510.1" width="34.03" height="22.6" fill="#1c1c2c"/>
<rect x="1154.08" y="463.6" width="34.03" height="21.5" fill="#ff8000"/>
<rect x="1154.08" y="510.1" width="34.03" height="22.6" fill="#9494f4"/>
<rect x="1187.91" y="463.6" width="34.03" height="21.5" fill="#a2d800"/>
<rect x="1187.91" y="510.1" width="34.03" height="22.6" fill="#7676c8"/>
<rect x="1221.74" y="463.6" width="34.03" height="21.5" fill="#ffcc00"/>
<rect x="1221.74" y="510.1" width="34.03" height="22.6" fill="#7676c8"/>
<rect x="1255.57" y="463.6" width="34.03" height="21.5" fill="#1ea010"/>
<rect x="1255.57" y="510.1" width="34.03" height="22.6" fill="#7676c8"/>
<rect x="1289.40" y="463.6" width="34.03" height="21.5" fill="#cce800"/>
<rect x="1289.40" y="510.1" width="34.03" height="22.6" fill="#262640"/>
<rect x="1323.23" y="463.6" width="34.03" height="21.5" fill="#ff8000"/>
<rect x="1323.23" y="510.1" width="34.03" height="22.6" fill="#9494f4"/>
<rect x="1357.06" y="463.6" width="34.03" height="21.5" fill="#c8e800"/>
<rect x="1357.06" y="510.1" width="34.03" height="22.6" fill="#5a5a98"/>
<rect x="1390.89" y="463.6" width="34.03" height="21.5" fill="#ff4a00"/>
<rect x="1390.89" y="510.1" width="34.03" height="22.6" fill="#9a9a08"/>
<rect x="1424.72" y="463.6" width="34.03" height="21.5" fill="#cce800"/>
<rect x="1424.72" y="510.1" width="34.03" height="22.6" fill="#9494f4"/>
<rect x="1458.55" y="463.6" width="34.03" height="21.5" fill="#ff1000"/>
<rect x="1458.55" y="510.1" width="34.03" height="22.6" fill="#9494f4"/>
<rect x="1492.38" y="463.6" width="34.03" height="21.5" fill="#cce800"/>
<rect x="1492.38" y="510.1" width="34.03" height="22.6" fill="#e8e800"/>
<rect x="1526.21" y="463.6" width="34.03" height="21.5" fill="#ff5000"/>
<rect x="1526.21" y="510.1" width="34.03" height="22.6" fill="#9494f4"/>
<rect x="1560.04" y="463.6" width="34.03" height="21.5" fill="#ff3a10"/>
<rect x="1560.04" y="510.1" width="34.03" height="22.6" fill="#8c8ce6"/>
<rect x="1593.87" y="463.6" width="34.03" height="21.5" fill="#00a000"/>
<rect x="1593.87" y="510.1" width="34.03" height="22.6" fill="#56568f"/>
<rect x="1627.70" y="463.6" width="34.03" height="21.5" fill="#ff4a00"/>
<rect x="1627.70" y="510.1" width="34.03" height="22.6" fill="#9494f4"/>
<rect x="1661.53" y="463.6" width="34.03" height="21.5" fill="#cce800"/>
<rect x="1661.53" y="510.1" width="34.03" height="22.6" fill="#9494f4"/>
<rect x="1695.36" y="463.6" width="34.03" height="21.5" fill="#30a010"/>
<rect x="1695.36" y="510.1" width="34.03" height="22.6" fill="#9494f4"/>
<rect x="1729.19" y="463.6" width="34.31" height="21.5" fill="#60c000"/>
<rect x="1729.19" y="510.1" width="34.31" height="22.6" fill="#9494f4"/>
<rect x="950.10" y="463.6" width="2" height="21.5" fill="#111"/>
<rect x="950.10" y="510.1" width="2" height="22.6" fill="#111"/>
<rect x="983.93" y="463.6" width="2" height="21.5" fill="#111"/>
<rect x="983.93" y="510.1" width="2" height="22.6" fill="#111"/>
<rect x="1017.76" y="463.6" width="2" height="21.5" fill="#111"/>
<rect x="1017.76" y="510.1" width="2" height="22.6" fill="#111"/>
<rect x="1051.59" y="463.6" width="2" height="21.5" fill="#111"/>
<rect x="1051.59" y="510.1" width="2" height="22.6" fill="#111"/>
<rect x="1085.42" y="463.6" width="2" height="21.5" fill="#111"/>
<rect x="1085.42" y="510.1" width="2" height="22.6" fill="#111"/>
<rect x="1119.25" y="463.6" width="2" height="21.5" fill="#111"/>
<rect x="1119.25" y="510.1" width="2" height="22.6" fill="#111"/>
<rect x="1153.08" y="463.6" width="2" height="21.5" fill="#111"/>
<rect x="1153.08" y="510.1" width="2" height="22.6" fill="#111"/>
<rect x="1186.91" y="463.6" width="2" height="21.5" fill="#111"/>
<rect x="1186.91" y="510.1" width="2" height="22.6" fill="#111"/>
<rect x="1220.74" y="463.6" width="2" height="21.5" fill="#111"/>
<rect x="1220.74" y="510.1" width="2" height="22.6" fill="#111"/>
<rect x="1254.57" y="463.6" width="2" height="21.5" fill="#111"/>
<rect x="1254.57" y="510.1" width="2" height="22.6" fill="#111"/>
<rect x="1288.40" y="463.6" width="2" height="21.5" fill="#111"/>
<rect x="1288.40" y="510.1" width="2" height="22.6" fill="#111"/>
<rect x="1322.23" y="463.6" width="2" height="21.5" fill="#111"/>
<rect x="1322.23" y="510.1" width="2" height="22.6" fill="#111"/>
<rect x="1356.06" y="463.6" width="2" height="21.5" fill="#111"/>
<rect x="1356.06" y="510.1" width="2" height="22.6" fill="#111"/>
<rect x="1389.89" y="463.6" width="2" height="21.5" fill="#111"/>
<rect x="1389.89" y="510.1" width="2" height="22.6" fill="#111"/>
<rect x="1423.72" y="463.6" width="2" height="21.5" fill="#111"/>
<rect x="1423.72" y="510.1" width="2" height="22.6" fill="#111"/>
<rect x="1457.55" y="463.6" width="2" height="21.5" fill="#111"/>
<rect x="1457.55" y="510.1" width="2" height="22.6" fill="#111"/>
<rect x="1491.38" y="463.6" width="2" height="21.5" fill="#111"/>
<rect x="1491.38" y="510.1" width="2" height="22.6" fill="#111"/>
<rect x="1525.21" y="463.6" width="2" height="21.5" fill="#111"/>
<rect x="1525.21" y="510.1" width="2" height="22.6" fill="#111"/>
<rect x="1559.04" y="463.6" width="2" height="21.5" fill="#111"/>
<rect x="1559.04" y="510.1" width="2" height="22.6" fill="#111"/>
<rect x="1592.87" y="463.6" width="2" height="21.5" fill="#111"/>
<rect x="1592.87" y="510.1" width="2" height="22.6" fill="#111"/>
<rect x="1626.70" y="463.6" width="2" height="21.5" fill="#111"/>
<rect x="1626.70" y="510.1" width="2" height="22.6" fill="#111"/>
<rect x="1660.53" y="463.6" width="2" height="21.5" fill="#111"/>
<rect x="1660.53" y="510.1" width="2" height="22.6" fill="#111"/>
<rect x="1694.36" y="463.6" width="2" height="21.5" fill="#111"/>
<rect x="1694.36" y="510.1" width="2" height="22.6" fill="#111"/>
<rect x="1728.19" y="463.6" width="2" height="21.5" fill="#111"/>
<rect x="1728.19" y="510.1" width="2" height="22.6" fill="#111"/>
<text x="3.6" y="1094.6" font-size="47">C</text>
<defs><pattern id="dots" width="7" height="7" patternUnits="userSpaceOnUse"><rect width="7" height="7" fill="#c1c1c1"/><rect x="1" y="1" width="1.6" height="1.6" fill="#d4d4d4"/><rect x="4.5" y="4.5" width="1.6" height="1.6" fill="#d4d4d4"/></pattern></defs>
<rect x="251.60" y="1055.00" width="175.30" height="37.00" rx="2.5" fill="url(#dots)" stroke="#606060" stroke-width="2.6"/>
<text x="240.8" y="1090.5" font-size="40" text-anchor="end">24 (+56.4)</text>
<rect x="251.60" y="1100.68" width="151.80" height="37.00" rx="2.5" fill="url(#dots)" stroke="#606060" stroke-width="2.6"/>
<text x="240.8" y="1135.6" font-size="40" text-anchor="end" fill="#0000ff">14 (+96.3)</text>
<rect x="251.60" y="1146.36" width="87.90" height="37.00" rx="2.5" fill="url(#dots)" stroke="#606060" stroke-width="2.6"/>
<text x="240.8" y="1180.7" font-size="40" text-anchor="end" fill="#0000ff">26 (+20.7)</text>
<rect x="251.60" y="1192.04" width="23.10" height="37.00" rx="2.5" fill="url(#dots)" stroke="#606060" stroke-width="2.6"/>
<text x="240.8" y="1225.8" font-size="40" text-anchor="end">01 (+14.2)</text>
<rect x="251.00" y="1237.72" width="6.10" height="37.00" rx="2.5" fill="url(#dots)" stroke="#606060" stroke-width="2.6"/>
<text x="261.9" y="1273.6" font-size="40" fill="#0000ff">21 (+2.7)</text>
<rect x="251.00" y="1283.40" width="5.90" height="37.00" rx="2.5" fill="url(#dots)" stroke="#606060" stroke-width="2.6"/>
<text x="261.9" y="1319.3" font-size="40" fill="#0000ff">15 (+2.5%)</text>
<rect x="250.70" y="1329.08" width="3.70" height="37.00" rx="2.5" fill="url(#dots)" stroke="#606060" stroke-width="2.6"/>
<text x="261.9" y="1365.0" font-size="40">20 (+1.5%)</text>
<rect x="250.30" y="1374.16" width="1.00" height="38.20" rx="2.5" fill="url(#dots)" stroke="#606060" stroke-width="1.4"/>
<text x="261.9" y="1410.7" font-size="40">30 (-1.0%)</text>
<rect x="247.40" y="1419.84" width="2.90" height="38.20" rx="2.5" fill="url(#dots)" stroke="#606060" stroke-width="1.4"/>
<text x="261.9" y="1456.3" font-size="40">18 (-1.8%)</text>
<rect x="241.70" y="1466.12" width="7.90" height="37.00" rx="2.5" fill="url(#dots)" stroke="#606060" stroke-width="2.6"/>
<text x="261.9" y="1502.0" font-size="40" fill="#0000ff">10 (-7.5%)</text>
<rect x="226.00" y="1511.80" width="23.60" height="37.00" rx="2.5" fill="url(#dots)" stroke="#606060" stroke-width="2.6"/>
<text x="261.9" y="1547.7" font-size="40" fill="#0000ff">27 (-24.1%)</text>
<rect x="205.50" y="1557.48" width="44.10" height="37.00" rx="2.5" fill="url(#dots)" stroke="#606060" stroke-width="2.6"/>
<text x="261.9" y="1593.4" font-size="40">23 (-20.7)</text>
<rect x="197.30" y="1603.16" width="52.30" height="37.00" rx="2.5" fill="url(#dots)" stroke="#606060" stroke-width="2.6"/>
<text x="261.9" y="1639.1" font-size="40">06 (-37.5)</text>
<rect x="191.90" y="1648.84" width="57.70" height="37.00" rx="2.5" fill="url(#dots)" stroke="#606060" stroke-width="2.6"/>
<text x="261.9" y="1684.7" font-size="40">16 (-8.1%)</text>
<rect x="172.60" y="1694.52" width="77.00" height="37.00" rx="2.5" fill="url(#dots)" stroke="#606060" stroke-width="2.6"/>
<text x="261.9" y="1730.4" font-size="40" fill="#0000ff">19 (-21.4%)</text>
<rect x="172.30" y="1740.20" width="77.30" height="37.00" rx="2.5" fill="url(#dots)" stroke="#606060" stroke-width="2.6"/>
<text x="261.9" y="1776.1" font-size="40">11 (-18.2%)</text>
<rect x="159.00" y="1785.88" width="90.60" height="37.00" rx="2.5" fill="url(#dots)" stroke="#606060" stroke-width="2.6"/>
<text x="261.9" y="1821.8" font-size="40" fill="#0000ff">05 (-22.3%)</text>
<rect x="158.10" y="1831.56" width="91.50" height="37.00" rx="2.5" fill="url(#dots)" stroke="#606060" stroke-width="2.6"/>
<text x="261.9" y="1867.5" font-size="40">22 (-19.7%)</text>
<rect x="155.70" y="1877.24" width="93.90" height="37.00" rx="2.5" fill="url(#dots)" stroke="#606060" stroke-width="2.6"/>
<text x="261.9" y="1913.1" font-size="40">28 (-14.4%)</text>
<rect x="137.00" y="1922.92" width="112.60" height="37.00" rx="2.5" fill="url(#dots)" stroke="#606060" stroke-width="2.6"/>
<text x="261.9" y="1958.8" font-size="40">12 (-27.4)</text>
<rect x="132.50" y="1968.60" width="117.10" height="37.00" rx="2.5" fill="url(#dots)" stroke="#606060" stroke-width="2.6"/>
<text x="261.9" y="2004.5" font-size="40">13 (-20.8%)</text>
<rect x="127.30" y="2014.28" width="122.30" height="37.00" rx="2.5" fill="url(#dots)" stroke="#606060" stroke-width="2.6"/>
<text x="261.9" y="2050.2" font-size="40">02 (-51.9%)</text>
<rect x="122.50" y="2059.96" width="127.10" height="37.00" rx="2.5" fill="url(#dots)" stroke="#606060" stroke-width="2.6"/>
<text x="261.9" y="2095.9" font-size="40">04 (-45.7%)</text>
<rect x="111.70" y="2105.64" width="137.90" height="37.00" rx="2.5" fill="url(#dots)" stroke="#606060" stroke-width="2.6"/>
<text x="261.9" y="2141.5" font-size="40">08 (-44.2%)</text>
<rect x="44.10" y="2151.32" width="205.50" height="37.00" rx="2.5" fill="url(#dots)" stroke="#606060" stroke-width="2.6"/>
<text x="261.9" y="2187.2" font-size="40" fill="#0000ff">17 (-40.7%)</text>
<rect x="43" y="2195.2" width="345" height="3.2" fill="#858585"/>
<rect x="43.1" y="2195.5" width="3" height="14" fill="#858585"/>
<rect x="111.0" y="2195.5" width="3" height="14" fill="#858585"/>
<rect x="179.7" y="2195.5" width="3" height="14" fill="#858585"/>
<rect x="247.9" y="2195.5" width="3" height="14" fill="#858585"/>
<rect x="316.0" y="2195.5" width="3" height="14" fill="#858585"/>
<rect x="384.2" y="2195.5" width="3" height="14" fill="#858585"/>
<text transform="translate(58.2,2217.7) rotate(-90)" font-size="40" text-anchor="end">-0.5</text>
<text transform="translate(126.1,2217.7) rotate(-90)" font-size="40" text-anchor="end">-0.4</text>
<text transform="translate(194.8,2217.7) rotate(-90)" font-size="40" text-anchor="end">-0.2</text>
<text transform="translate(263.0,2219.9) rotate(-90)" font-size="40" text-anchor="end">0</text>
<text transform="translate(331.1,2217.7) rotate(-90)" font-size="40" text-anchor="end">0.2</text>
<text transform="translate(399.3,2217.7) rotate(-90)" font-size="40" text-anchor="end">0.4</text>
<text x="14.4" y="2325" font-size="40">(Post <tspan font-style="italic">I.I.</tspan><tspan font-style="italic" font-size="26" dy="9.3">com</tspan><tspan dy="-9.3">) – (Pre </tspan><tspan font-style="italic">I.I.</tspan><tspan font-style="italic" font-size="26" dy="9.3">com</tspan><tspan dy="-9.3">)</tspan></text>
<text x="652.7" y="620.9" font-size="47">D</text>
<rect x="1113.2" y="554" width="1.6" height="402" fill="#cfcfcf"/>
<rect x="1484.2" y="554" width="1.6" height="402" fill="#cfcfcf"/>
<rect x="743.5" y="672.4" width="998.5" height="1.8" fill="#cfcfcf"/>
<text x="814.7" y="618.4" font-size="40">Upstream</text>
<text x="819.3" y="665.0" font-size="40">Regulator</text>
<text x="1202.8" y="609.4" font-size="40">Predicted</text>
<text x="1152.7" y="658.0" font-size="40">Activation State</text>
<text x="1518.3" y="618.4" font-size="40">Activation</text>
<text x="1537.4" y="665.0" font-size="40">z-score</text>
<text x="759.2" y="716.9" font-size="40">IL17A</text>
<text x="1294.0" y="716.9" font-size="40" text-anchor="middle">Inhibited</text>
<text x="1604.0" y="716.9" font-size="40" text-anchor="middle">-2.9</text>
<text x="759.2" y="763.6" font-size="40">lipopolysaccharide</text>
<text x="1294.0" y="763.6" font-size="40" text-anchor="middle">Inhibited</text>
<text x="1604.0" y="763.6" font-size="40" text-anchor="middle">-2.8</text>
<text x="759.2" y="810.4" font-size="40">NFkB (complex)</text>
<text x="1294.0" y="810.4" font-size="40" text-anchor="middle">Inhibited</text>
<text x="1604.0" y="810.4" font-size="40" text-anchor="middle">-2.2</text>
<text x="759.2" y="857.1" font-size="40">IL1B</text>
<text x="1294.0" y="857.1" font-size="40" text-anchor="middle">Inhibited</text>
<text x="1604.0" y="857.1" font-size="40" text-anchor="middle">-2.2</text>
<text x="759.2" y="903.9" font-size="40">TNF</text>
<text x="1294.0" y="903.9" font-size="40" text-anchor="middle">Inhibited</text>
<text x="1604.0" y="903.9" font-size="40" text-anchor="middle">-2.1</text>
<text x="759.2" y="950.6" font-size="40">IL10RA</text>
<text x="1294.0" y="950.6" font-size="40" text-anchor="middle">Activated</text>
<text x="1604.0" y="950.6" font-size="40" text-anchor="middle">2.0</text>
<text x="653.3" y="989.6" font-size="47">E</text>
<rect x="748.4" y="960.4" width="2" height="2" fill="#b4b4b4"/>
<text transform="translate(569.1,1112.8) rotate(-90)" font-size="40">LRS</text>
<text transform="translate(605.2,1110.8) rotate(-90)" font-size="40">ROT1D</text>
<text transform="translate(642.6,1110.8) rotate(-90)" font-size="40">HRS</text>
<text transform="translate(676.4,1111.0) rotate(-90)" font-size="40">uHC</text>
<text transform="translate(726.3,1086.2) rotate(-90)" font-size="40">24</text>
<text transform="translate(760.1,1086.2) rotate(-90)" font-size="40" fill="#0000ff">14</text>
<text transform="translate(793.9,1086.2) rotate(-90)" font-size="40" fill="#0000ff">26</text>
<text transform="translate(827.7,1086.2) rotate(-90)" font-size="40">01</text>
<text transform="translate(861.5,1086.2) rotate(-90)" font-size="40">22</text>
<text transform="translate(895.3,1086.2) rotate(-90)" font-size="40">13</text>
<text transform="translate(929.1,1086.2) rotate(-90)" font-size="40" fill="#0000ff">15</text>
<text transform="translate(962.9,1086.2) rotate(-90)" font-size="40">20</text>
<text transform="translate(996.7,1086.2) rotate(-90)" font-size="40">18</text>
<text transform="translate(1030.5,1086.2) rotate(-90)" font-size="40" fill="#0000ff">27</text>
<text transform="translate(1064.3,1086.2) rotate(-90)" font-size="40" fill="#0000ff">05</text>
<text transform="translate(1098.1,1086.2) rotate(-90)" font-size="40">28</text>
<text transform="translate(1131.9,1086.2) rotate(-90)" font-size="40">16</text>
<text transform="translate(1165.7,1086.2) rotate(-90)" font-size="40">12</text>
<text transform="translate(1199.5,1086.2) rotate(-90)" font-size="40" fill="#0000ff">19</text>
<text transform="translate(1233.3,1086.2) rotate(-90)" font-size="40" fill="#0000ff">17</text>
<text transform="translate(1267.1,1086.2) rotate(-90)" font-size="40" fill="#0000ff">21</text>
<text transform="translate(1300.9,1086.2) rotate(-90)" font-size="40">30</text>
<text transform="translate(1334.7,1086.2) rotate(-90)" font-size="40" fill="#0000ff">10</text>
<text transform="translate(1368.5,1086.2) rotate(-90)" font-size="40">06</text>
<text transform="translate(1402.3,1086.2) rotate(-90)" font-size="40">08</text>
<text transform="translate(1436.1,1086.2) rotate(-90)" font-size="40">11</text>
<text transform="translate(1469.9,1086.2) rotate(-90)" font-size="40">04</text>
<text transform="translate(1503.7,1086.2) rotate(-90)" font-size="40">23</text>
<text transform="translate(1537.5,1086.2) rotate(-90)" font-size="40">02</text>
<rect x="697.40" y="1092.8" width="34.00" height="23" fill="#0a2a96"/>
<rect x="731.20" y="1092.8" width="34.00" height="23" fill="#082490"/>
<rect x="765.00" y="1092.8" width="34.00" height="23" fill="#000a80"/>
<rect x="798.80" y="1092.8" width="34.00" height="23" fill="#ffc000"/>
<rect x="832.60" y="1092.8" width="34.00" height="23" fill="#ffaa00"/>
<rect x="866.40" y="1092.8" width="34.00" height="23" fill="#00c8ff"/>
<rect x="900.20" y="1092.8" width="34.00" height="23" fill="#0090d8"/>
<rect x="934.00" y="1092.8" width="34.00" height="23" fill="#ffee00"/>
<rect x="967.80" y="1092.8" width="34.00" height="23" fill="#ffd000"/>
<rect x="1001.60" y="1092.8" width="34.00" height="23" fill="#ff7a00"/>
<rect x="1035.40" y="1092.8" width="34.00" height="23" fill="#ff2a00"/>
<rect x="1069.20" y="1092.8" width="34.00" height="23" fill="#ff7a00"/>
<rect x="1103.00" y="1092.8" width="34.00" height="23" fill="#ff1800"/>
<rect x="1136.80" y="1092.8" width="34.00" height="23" fill="#ff1800"/>
<rect x="1170.60" y="1092.8" width="34.00" height="23" fill="#ff2800"/>
<rect x="1204.40" y="1092.8" width="34.00" height="23" fill="#ff1000"/>
<rect x="1238.20" y="1092.8" width="34.00" height="23" fill="#ff2a00"/>
<rect x="1272.00" y="1092.8" width="34.00" height="23" fill="#ff9a00"/>
<rect x="1305.80" y="1092.8" width="34.00" height="23" fill="#ff2000"/>
<rect x="1339.60" y="1092.8" width="34.00" height="23" fill="#ff1800"/>
<rect x="1373.40" y="1092.8" width="34.00" height="23" fill="#ff1000"/>
<rect x="1407.20" y="1092.8" width="34.00" height="23" fill="#ff9000"/>
<rect x="1441.00" y="1092.8" width="34.00" height="23" fill="#ff0a00"/>
<rect x="1474.80" y="1092.8" width="34.00" height="23" fill="#ff2000"/>
<rect x="1508.60" y="1092.8" width="34.00" height="23" fill="#ff2000"/>
<rect x="730.20" y="1092.8" width="2" height="23" fill="#111"/>
<rect x="764.00" y="1092.8" width="2" height="23" fill="#111"/>
<rect x="797.80" y="1092.8" width="2" height="23" fill="#111"/>
<rect x="831.60" y="1092.8" width="2" height="23" fill="#111"/>
<rect x="865.40" y="1092.8" width="2" height="23" fill="#111"/>
<rect x="899.20" y="1092.8" width="2" height="23" fill="#111"/>
<rect x="933.00" y="1092.8" width="2" height="23" fill="#111"/>
<rect x="966.80" y="1092.8" width="2" height="23" fill="#111"/>
<rect x="1000.60" y="1092.8" width="2" height="23" fill="#111"/>
<rect x="1034.40" y="1092.8" width="2" height="23" fill="#111"/>
<rect x="1068.20" y="1092.8" width="2" height="23" fill="#111"/>
<rect x="1102.00" y="1092.8" width="2" height="23" fill="#111"/>
<rect x="1135.80" y="1092.8" width="2" height="23" fill="#111"/>
<rect x="1169.60" y="1092.8" width="2" height="23" fill="#111"/>
<rect x="1203.40" y="1092.8" width="2" height="23" fill="#111"/>
<rect x="1237.20" y="1092.8" width="2" height="23" fill="#111"/>
<rect x="1271.00" y="1092.8" width="2" height="23" fill="#111"/>
<rect x="1304.80" y="1092.8" width="2" height="23" fill="#111"/>
<rect x="1338.60" y="1092.8" width="2" height="23" fill="#111"/>
<rect x="1372.40" y="1092.8" width="2" height="23" fill="#111"/>
<rect x="1406.20" y="1092.8" width="2" height="23" fill="#111"/>
<rect x="1440.00" y="1092.8" width="2" height="23" fill="#111"/>
<rect x="1473.80" y="1092.8" width="2" height="23" fill="#111"/>
<rect x="1507.60" y="1092.8" width="2" height="23" fill="#111"/>
<text x="1552.0" y="1070.6" font-size="40" fill="#0000ff">Correlation</text>
<text x="1552.3" y="1105.9" font-size="40" fill="#0000ff">to uHC</text>
<rect x="540.50" y="1124.50" width="36.38" height="30.50" fill="#0000ff" stroke="#111" stroke-width="1.4"/>
<rect x="576.88" y="1124.50" width="36.38" height="30.50" fill="#37375f" stroke="#111" stroke-width="1.4"/>
<rect x="613.26" y="1124.50" width="36.38" height="30.50" fill="#a5a52a" stroke="#111" stroke-width="1.4"/>
<rect x="649.64" y="1124.50" width="36.38" height="30.50" fill="#d2d224" stroke="#111" stroke-width="1.4"/>
<rect x="700.50" y="1124.50" width="33.69" height="30.50" fill="#0000ff" stroke="#111" stroke-width="1.4"/>
<rect x="734.19" y="1124.50" width="33.69" height="30.50" fill="#1d1dd2" stroke="#111" stroke-width="1.4"/>
<rect x="767.88" y="1124.50" width="33.69" height="30.50" fill="#37375f" stroke="#111" stroke-width="1.4"/>
<rect x="801.57" y="1124.50" width="33.69" height="30.50" fill="#a5a52a" stroke="#111" stroke-width="1.4"/>
<rect x="835.26" y="1124.50" width="33.69" height="30.50" fill="#ecec26" stroke="#111" stroke-width="1.4"/>
<rect x="868.95" y="1124.50" width="33.69" height="30.50" fill="#d2d224" stroke="#111" stroke-width="1.4"/>
<rect x="902.64" y="1124.50" width="33.69" height="30.50" fill="#37375f" stroke="#111" stroke-width="1.4"/>
<rect x="936.33" y="1124.50" width="33.69" height="30.50" fill="#0000ff" stroke="#111" stroke-width="1.4"/>
<rect x="970.02" y="1124.50" width="33.69" height="30.50" fill="#37375f" stroke="#111" stroke-width="1.4"/>
<rect x="1003.71" y="1124.50" width="33.69" height="30.50" fill="#ffff00" stroke="#111" stroke-width="1.4"/>
<rect x="1037.40" y="1124.50" width="33.69" height="30.50" fill="#ecec26" stroke="#111" stroke-width="1.4"/>
<rect x="1071.09" y="1124.50" width="33.69" height="30.50" fill="#a5a52a" stroke="#111" stroke-width="1.4"/>
<rect x="1104.78" y="1124.50" width="33.69" height="30.50" fill="#ffff00" stroke="#111" stroke-width="1.4"/>
<rect x="1138.47" y="1124.50" width="33.69" height="30.50" fill="#ffff00" stroke="#111" stroke-width="1.4"/>
<rect x="1172.16" y="1124.50" width="33.69" height="30.50" fill="#ffff00" stroke="#111" stroke-width="1.4"/>
<rect x="1205.85" y="1124.50" width="33.69" height="30.50" fill="#ffff00" stroke="#111" stroke-width="1.4"/>
<rect x="1239.54" y="1124.50" width="33.69" height="30.50" fill="#a5a52a" stroke="#111" stroke-width="1.4"/>
<rect x="1273.23" y="1124.50" width="33.69" height="30.50" fill="#2a2a94" stroke="#111" stroke-width="1.4"/>
<rect x="1306.92" y="1124.50" width="33.69" height="30.50" fill="#2a2a94" stroke="#111" stroke-width="1.4"/>
<rect x="1340.61" y="1124.50" width="33.69" height="30.50" fill="#ecec26" stroke="#111" stroke-width="1.4"/>
<rect x="1374.30" y="1124.50" width="33.69" height="30.50" fill="#0000ff" stroke="#111" stroke-width="1.4"/>
<rect x="1407.99" y="1124.50" width="33.69" height="30.50" fill="#2a2a94" stroke="#111" stroke-width="1.4"/>
<rect x="1441.68" y="1124.50" width="33.69" height="30.50" fill="#2a2a94" stroke="#111" stroke-width="1.4"/>
<rect x="1475.37" y="1124.50" width="33.69" height="30.50" fill="#a5a52a" stroke="#111" stroke-width="1.4"/>
<rect x="1509.06" y="1124.50" width="33.69" height="30.50" fill="#1d1dd2" stroke="#111" stroke-width="1.4"/>
<text x="1547.6" y="1150.6" font-size="36.5">CXCL6</text>
<rect x="540.50" y="1155.00" width="36.38" height="31.62" fill="#0000ff" stroke="#111" stroke-width="1.4"/>
<rect x="576.88" y="1155.00" width="36.38" height="31.62" fill="#37375f" stroke="#111" stroke-width="1.4"/>
<rect x="613.26" y="1155.00" width="36.38" height="31.62" fill="#7d7d32" stroke="#111" stroke-width="1.4"/>
<rect x="649.64" y="1155.00" width="36.38" height="31.62" fill="#ecec26" stroke="#111" stroke-width="1.4"/>
<rect x="700.50" y="1155.00" width="33.69" height="31.62" fill="#0000ff" stroke="#111" stroke-width="1.4"/>
<rect x="734.19" y="1155.00" width="33.69" height="31.62" fill="#1d1dd2" stroke="#111" stroke-width="1.4"/>
<rect x="767.88" y="1155.00" width="33.69" height="31.62" fill="#a5a52a" stroke="#111" stroke-width="1.4"/>
<rect x="801.57" y="1155.00" width="33.69" height="31.62" fill="#1d1dd2" stroke="#111" stroke-width="1.4"/>
<rect x="835.26" y="1155.00" width="33.69" height="31.62" fill="#ffff00" stroke="#111" stroke-width="1.4"/>
<rect x="868.95" y="1155.00" width="33.69" height="31.62" fill="#ffff00" stroke="#111" stroke-width="1.4"/>
<rect x="902.64" y="1155.00" width="33.69" height="31.62" fill="#2a2a94" stroke="#111" stroke-width="1.4"/>
<rect x="936.33" y="1155.00" width="33.69" height="31.62" fill="#5b5b3a" stroke="#111" stroke-width="1.4"/>
<rect x="970.02" y="1155.00" width="33.69" height="31.62" fill="#a5a52a" stroke="#111" stroke-width="1.4"/>
<rect x="1003.71" y="1155.00" width="33.69" height="31.62" fill="#37375f" stroke="#111" stroke-width="1.4"/>
<rect x="1037.40" y="1155.00" width="33.69" height="31.62" fill="#a5a52a" stroke="#111" stroke-width="1.4"/>
<rect x="1071.09" y="1155.00" width="33.69" height="31.62" fill="#7d7d32" stroke="#111" stroke-width="1.4"/>
<rect x="1104.78" y="1155.00" width="33.69" height="31.62" fill="#d2d224" stroke="#111" stroke-width="1.4"/>
<rect x="1138.47" y="1155.00" width="33.69" height="31.62" fill="#ffff00" stroke="#111" stroke-width="1.4"/>
<rect x="1172.16" y="1155.00" width="33.69" height="31.62" fill="#ffff00" stroke="#111" stroke-width="1.4"/>
<rect x="1205.85" y="1155.00" width="33.69" height="31.62" fill="#a5a52a" stroke="#111" stroke-width="1.4"/>
<rect x="1239.54" y="1155.00" width="33.69" height="31.62" fill="#a5a52a" stroke="#111" stroke-width="1.4"/>
<rect x="1273.23" y="1155.00" width="33.69" height="31.62" fill="#2a2a94" stroke="#111" stroke-width="1.4"/>
<rect x="1306.92" y="1155.00" width="33.69" height="31.62" fill="#5b5b3a" stroke="#111" stroke-width="1.4"/>
<rect x="1340.61" y="1155.00" width="33.69" height="31.62" fill="#37375f" stroke="#111" stroke-width="1.4"/>
<rect x="1374.30" y="1155.00" width="33.69" height="31.62" fill="#7d7d32" stroke="#111" stroke-width="1.4"/>
<rect x="1407.99" y="1155.00" width="33.69" height="31.62" fill="#0000ff" stroke="#111" stroke-width="1.4"/>
<rect x="1441.68" y="1155.00" width="33.69" height="31.62" fill="#d2d224" stroke="#111" stroke-width="1.4"/>
<rect x="1475.37" y="1155.00" width="33.69" height="31.62" fill="#ecec26" stroke="#111" stroke-width="1.4"/>
<rect x="1509.06" y="1155.00" width="33.69" height="31.62" fill="#3e3e40" stroke="#111" stroke-width="1.4"/>
<text x="1547.6" y="1182.3" font-size="36.5">THBS1</text>
<rect x="540.50" y="1186.62" width="36.38" height="31.62" fill="#37375f" stroke="#111" stroke-width="1.4"/>
<rect x="576.88" y="1186.62" width="36.38" height="31.62" fill="#37375f" stroke="#111" stroke-width="1.4"/>
<rect x="613.26" y="1186.62" width="36.38" height="31.62" fill="#3e3e40" stroke="#111" stroke-width="1.4"/>
<rect x="649.64" y="1186.62" width="36.38" height="31.62" fill="#7d7d32" stroke="#111" stroke-width="1.4"/>
<rect x="700.50" y="1186.62" width="33.69" height="31.62" fill="#0000ff" stroke="#111" stroke-width="1.4"/>
<rect x="734.19" y="1186.62" width="33.69" height="31.62" fill="#5b5b3a" stroke="#111" stroke-width="1.4"/>
<rect x="767.88" y="1186.62" width="33.69" height="31.62" fill="#1d1dd2" stroke="#111" stroke-width="1.4"/>
<rect x="801.57" y="1186.62" width="33.69" height="31.62" fill="#1d1dd2" stroke="#111" stroke-width="1.4"/>
<rect x="835.26" y="1186.62" width="33.69" height="31.62" fill="#a5a52a" stroke="#111" stroke-width="1.4"/>
<rect x="868.95" y="1186.62" width="33.69" height="31.62" fill="#ffff00" stroke="#111" stroke-width="1.4"/>
<rect x="902.64" y="1186.62" width="33.69" height="31.62" fill="#37375f" stroke="#111" stroke-width="1.4"/>
<rect x="936.33" y="1186.62" width="33.69" height="31.62" fill="#7d7d32" stroke="#111" stroke-width="1.4"/>
<rect x="970.02" y="1186.62" width="33.69" height="31.62" fill="#37375f" stroke="#111" stroke-width="1.4"/>
<rect x="1003.71" y="1186.62" width="33.69" height="31.62" fill="#2a2a94" stroke="#111" stroke-width="1.4"/>
<rect x="1037.40" y="1186.62" width="33.69" height="31.62" fill="#7d7d32" stroke="#111" stroke-width="1.4"/>
<rect x="1071.09" y="1186.62" width="33.69" height="31.62" fill="#a5a52a" stroke="#111" stroke-width="1.4"/>
<rect x="1104.78" y="1186.62" width="33.69" height="31.62" fill="#1d1dd2" stroke="#111" stroke-width="1.4"/>
<rect x="1138.47" y="1186.62" width="33.69" height="31.62" fill="#ecec26" stroke="#111" stroke-width="1.4"/>
<rect x="1172.16" y="1186.62" width="33.69" height="31.62" fill="#ffff00" stroke="#111" stroke-width="1.4"/>
<rect x="1205.85" y="1186.62" width="33.69" height="31.62" fill="#a5a52a" stroke="#111" stroke-width="1.4"/>
<rect x="1239.54" y="1186.62" width="33.69" height="31.62" fill="#7d7d32" stroke="#111" stroke-width="1.4"/>
<rect x="1273.23" y="1186.62" width="33.69" height="31.62" fill="#1d1dd2" stroke="#111" stroke-width="1.4"/>
<rect x="1306.92" y="1186.62" width="33.69" height="31.62" fill="#5b5b3a" stroke="#111" stroke-width="1.4"/>
<rect x="1340.61" y="1186.62" width="33.69" height="31.62" fill="#a5a52a" stroke="#111" stroke-width="1.4"/>
<rect x="1374.30" y="1186.62" width="33.69" height="31.62" fill="#2a2a94" stroke="#111" stroke-width="1.4"/>
<rect x="1407.99" y="1186.62" width="33.69" height="31.62" fill="#1d1dd2" stroke="#111" stroke-width="1.4"/>
<rect x="1441.68" y="1186.62" width="33.69" height="31.62" fill="#7d7d32" stroke="#111" stroke-width="1.4"/>
<rect x="1475.37" y="1186.62" width="33.69" height="31.62" fill="#d2d224" stroke="#111" stroke-width="1.4"/>
<rect x="1509.06" y="1186.62" width="33.69" height="31.62" fill="#37375f" stroke="#111" stroke-width="1.4"/>
<text x="1547.6" y="1213.9" font-size="36.5">SERPIND1</text>
<rect x="540.50" y="1218.24" width="36.38" height="31.62" fill="#2a2a94" stroke="#111" stroke-width="1.4"/>
<rect x="576.88" y="1218.24" width="36.38" height="31.62" fill="#3e3e40" stroke="#111" stroke-width="1.4"/>
<rect x="613.26" y="1218.24" width="36.38" height="31.62" fill="#5b5b3a" stroke="#111" stroke-width="1.4"/>
<rect x="649.64" y="1218.24" width="36.38" height="31.62" fill="#5b5b3a" stroke="#111" stroke-width="1.4"/>
<rect x="700.50" y="1218.24" width="33.69" height="31.62" fill="#0000ff" stroke="#111" stroke-width="1.4"/>
<rect x="734.19" y="1218.24" width="33.69" height="31.62" fill="#2a2a94" stroke="#111" stroke-width="1.4"/>
<rect x="767.88" y="1218.24" width="33.69" height="31.62" fill="#37375f" stroke="#111" stroke-width="1.4"/>
<rect x="801.57" y="1218.24" width="33.69" height="31.62" fill="#3e3e40" stroke="#111" stroke-width="1.4"/>
<rect x="835.26" y="1218.24" width="33.69" height="31.62" fill="#ecec26" stroke="#111" stroke-width="1.4"/>
<rect x="868.95" y="1218.24" width="33.69" height="31.62" fill="#ffff00" stroke="#111" stroke-width="1.4"/>
<rect x="902.64" y="1218.24" width="33.69" height="31.62" fill="#3e3e40" stroke="#111" stroke-width="1.4"/>
<rect x="936.33" y="1218.24" width="33.69" height="31.62" fill="#1d1dd2" stroke="#111" stroke-width="1.4"/>
<rect x="970.02" y="1218.24" width="33.69" height="31.62" fill="#1d1dd2" stroke="#111" stroke-width="1.4"/>
<rect x="1003.71" y="1218.24" width="33.69" height="31.62" fill="#37375f" stroke="#111" stroke-width="1.4"/>
<rect x="1037.40" y="1218.24" width="33.69" height="31.62" fill="#d2d224" stroke="#111" stroke-width="1.4"/>
<rect x="1071.09" y="1218.24" width="33.69" height="31.62" fill="#3e3e40" stroke="#111" stroke-width="1.4"/>
<rect x="1104.78" y="1218.24" width="33.69" height="31.62" fill="#3e3e40" stroke="#111" stroke-width="1.4"/>
<rect x="1138.47" y="1218.24" width="33.69" height="31.62" fill="#37375f" stroke="#111" stroke-width="1.4"/>
<rect x="1172.16" y="1218.24" width="33.69" height="31.62" fill="#2a2a94" stroke="#111" stroke-width="1.4"/>
<rect x="1205.85" y="1218.24" width="33.69" height="31.62" fill="#5b5b3a" stroke="#111" stroke-width="1.4"/>
<rect x="1239.54" y="1218.24" width="33.69" height="31.62" fill="#a5a52a" stroke="#111" stroke-width="1.4"/>
<rect x="1273.23" y="1218.24" width="33.69" height="31.62" fill="#2a2a94" stroke="#111" stroke-width="1.4"/>
<rect x="1306.92" y="1218.24" width="33.69" height="31.62" fill="#d2d224" stroke="#111" stroke-width="1.4"/>
<rect x="1340.61" y="1218.24" width="33.69" height="31.62" fill="#7d7d32" stroke="#111" stroke-width="1.4"/>
<rect x="1374.30" y="1218.24" width="33.69" height="31.62" fill="#ffff00" stroke="#111" stroke-width="1.4"/>
<rect x="1407.99" y="1218.24" width="33.69" height="31.62" fill="#7d7d32" stroke="#111" stroke-width="1.4"/>
<rect x="1441.68" y="1218.24" width="33.69" height="31.62" fill="#ffff00" stroke="#111" stroke-width="1.4"/>
<rect x="1475.37" y="1218.24" width="33.69" height="31.62" fill="#a5a52a" stroke="#111" stroke-width="1.4"/>
<rect x="1509.06" y="1218.24" width="33.69" height="31.62" fill="#a5a52a" stroke="#111" stroke-width="1.4"/>
<text x="1547.6" y="1245.6" font-size="36.5">TLR4</text>
<rect x="540.50" y="1249.86" width="36.38" height="31.62" fill="#1d1dd2" stroke="#111" stroke-width="1.4"/>
<rect x="576.88" y="1249.86" width="36.38" height="31.62" fill="#37375f" stroke="#111" stroke-width="1.4"/>
<rect x="613.26" y="1249.86" width="36.38" height="31.62" fill="#5b5b3a" stroke="#111" stroke-width="1.4"/>
<rect x="649.64" y="1249.86" width="36.38" height="31.62" fill="#a5a52a" stroke="#111" stroke-width="1.4"/>
<rect x="700.50" y="1249.86" width="33.69" height="31.62" fill="#0000ff" stroke="#111" stroke-width="1.4"/>
<rect x="734.19" y="1249.86" width="33.69" height="31.62" fill="#0000ff" stroke="#111" stroke-width="1.4"/>
<rect x="767.88" y="1249.86" width="33.69" height="31.62" fill="#7d7d32" stroke="#111" stroke-width="1.4"/>
<rect x="801.57" y="1249.86" width="33.69" height="31.62" fill="#37375f" stroke="#111" stroke-width="1.4"/>
<rect x="835.26" y="1249.86" width="33.69" height="31.62" fill="#a5a52a" stroke="#111" stroke-width="1.4"/>
<rect x="868.95" y="1249.86" width="33.69" height="31.62" fill="#5b5b3a" stroke="#111" stroke-width="1.4"/>
<rect x="902.64" y="1249.86" width="33.69" height="31.62" fill="#2a2a94" stroke="#111" stroke-width="1.4"/>
<rect x="936.33" y="1249.86" width="33.69" height="31.62" fill="#2a2a94" stroke="#111" stroke-width="1.4"/>
<rect x="970.02" y="1249.86" width="33.69" height="31.62" fill="#7d7d32" stroke="#111" stroke-width="1.4"/>
<rect x="1003.71" y="1249.86" width="33.69" height="31.62" fill="#0000ff" stroke="#111" stroke-width="1.4"/>
<rect x="1037.40" y="1249.86" width="33.69" height="31.62" fill="#a5a52a" stroke="#111" stroke-width="1.4"/>
<rect x="1071.09" y="1249.86" width="33.69" height="31.62" fill="#a5a52a" stroke="#111" stroke-width="1.4"/>
<rect x="1104.78" y="1249.86" width="33.69" height="31.62" fill="#ecec26" stroke="#111" stroke-width="1.4"/>
<rect x="1138.47" y="1249.86" width="33.69" height="31.62" fill="#a5a52a" stroke="#111" stroke-width="1.4"/>
<rect x="1172.16" y="1249.86" width="33.69" height="31.62" fill="#a5a52a" stroke="#111" stroke-width="1.4"/>
<rect x="1205.85" y="1249.86" width="33.69" height="31.62" fill="#a5a52a" stroke="#111" stroke-width="1.4"/>
<rect x="1239.54" y="1249.86" width="33.69" height="31.62" fill="#d2d224" stroke="#111" stroke-width="1.4"/>
<rect x="1273.23" y="1249.86" width="33.69" height="31.62" fill="#2a2a94" stroke="#111" stroke-width="1.4"/>
<rect x="1306.92" y="1249.86" width="33.69" height="31.62" fill="#5b5b3a" stroke="#111" stroke-width="1.4"/>
<rect x="1340.61" y="1249.86" width="33.69" height="31.62" fill="#5b5b3a" stroke="#111" stroke-width="1.4"/>
<rect x="1374.30" y="1249.86" width="33.69" height="31.62" fill="#d2d224" stroke="#111" stroke-width="1.4"/>
<rect x="1407.99" y="1249.86" width="33.69" height="31.62" fill="#37375f" stroke="#111" stroke-width="1.4"/>
<rect x="1441.68" y="1249.86" width="33.69" height="31.62" fill="#ffff00" stroke="#111" stroke-width="1.4"/>
<rect x="1475.37" y="1249.86" width="33.69" height="31.62" fill="#a5a52a" stroke="#111" stroke-width="1.4"/>
<rect x="1509.06" y="1249.86" width="33.69" height="31.62" fill="#ecec26" stroke="#111" stroke-width="1.4"/>
<text x="1547.6" y="1277.3" font-size="36.5">PLA2G7</text>
<rect x="540.50" y="1281.48" width="36.38" height="31.62" fill="#1d1dd2" stroke="#111" stroke-width="1.4"/>
<rect x="576.88" y="1281.48" width="36.38" height="31.62" fill="#3e3e40" stroke="#111" stroke-width="1.4"/>
<rect x="613.26" y="1281.48" width="36.38" height="31.62" fill="#7d7d32" stroke="#111" stroke-width="1.4"/>
<rect x="649.64" y="1281.48" width="36.38" height="31.62" fill="#7d7d32" stroke="#111" stroke-width="1.4"/>
<rect x="700.50" y="1281.48" width="33.69" height="31.62" fill="#0000ff" stroke="#111" stroke-width="1.4"/>
<rect x="734.19" y="1281.48" width="33.69" height="31.62" fill="#0000ff" stroke="#111" stroke-width="1.4"/>
<rect x="767.88" y="1281.48" width="33.69" height="31.62" fill="#37375f" stroke="#111" stroke-width="1.4"/>
<rect x="801.57" y="1281.48" width="33.69" height="31.62" fill="#5b5b3a" stroke="#111" stroke-width="1.4"/>
<rect x="835.26" y="1281.48" width="33.69" height="31.62" fill="#7d7d32" stroke="#111" stroke-width="1.4"/>
<rect x="868.95" y="1281.48" width="33.69" height="31.62" fill="#a5a52a" stroke="#111" stroke-width="1.4"/>
<rect x="902.64" y="1281.48" width="33.69" height="31.62" fill="#5b5b3a" stroke="#111" stroke-width="1.4"/>
<rect x="936.33" y="1281.48" width="33.69" height="31.62" fill="#37375f" stroke="#111" stroke-width="1.4"/>
<rect x="970.02" y="1281.48" width="33.69" height="31.62" fill="#ecec26" stroke="#111" stroke-width="1.4"/>
<rect x="1003.71" y="1281.48" width="33.69" height="31.62" fill="#3e3e40" stroke="#111" stroke-width="1.4"/>
<rect x="1037.40" y="1281.48" width="33.69" height="31.62" fill="#d2d224" stroke="#111" stroke-width="1.4"/>
<rect x="1071.09" y="1281.48" width="33.69" height="31.62" fill="#7d7d32" stroke="#111" stroke-width="1.4"/>
<rect x="1104.78" y="1281.48" width="33.69" height="31.62" fill="#a5a52a" stroke="#111" stroke-width="1.4"/>
<rect x="1138.47" y="1281.48" width="33.69" height="31.62" fill="#5b5b3a" stroke="#111" stroke-width="1.4"/>
<rect x="1172.16" y="1281.48" width="33.69" height="31.62" fill="#5b5b3a" stroke="#111" stroke-width="1.4"/>
<rect x="1205.85" y="1281.48" width="33.69" height="31.62" fill="#ffff00" stroke="#111" stroke-width="1.4"/>
<rect x="1239.54" y="1281.48" width="33.69" height="31.62" fill="#1d1dd2" stroke="#111" stroke-width="1.4"/>
<rect x="1273.23" y="1281.48" width="33.69" height="31.62" fill="#1d1dd2" stroke="#111" stroke-width="1.4"/>
<rect x="1306.92" y="1281.48" width="33.69" height="31.62" fill="#a5a52a" stroke="#111" stroke-width="1.4"/>
<rect x="1340.61" y="1281.48" width="33.69" height="31.62" fill="#7d7d32" stroke="#111" stroke-width="1.4"/>
<rect x="1374.30" y="1281.48" width="33.69" height="31.62" fill="#ecec26" stroke="#111" stroke-width="1.4"/>
<rect x="1407.99" y="1281.48" width="33.69" height="31.62" fill="#2a2a94" stroke="#111" stroke-width="1.4"/>
<rect x="1441.68" y="1281.48" width="33.69" height="31.62" fill="#ffff00" stroke="#111" stroke-width="1.4"/>
<rect x="1475.37" y="1281.48" width="33.69" height="31.62" fill="#ffff00" stroke="#111" stroke-width="1.4"/>
<rect x="1509.06" y="1281.48" width="33.69" height="31.62" fill="#ffff00" stroke="#111" stroke-width="1.4"/>
<text x="1547.6" y="1308.9" font-size="36.5">S100A8</text>
<rect x="540.50" y="1313.10" width="36.38" height="31.62" fill="#1d1dd2" stroke="#111" stroke-width="1.4"/>
<rect x="576.88" y="1313.10" width="36.38" height="31.62" fill="#37375f" stroke="#111" stroke-width="1.4"/>
<rect x="613.26" y="1313.10" width="36.38" height="31.62" fill="#7d7d32" stroke="#111" stroke-width="1.4"/>
<rect x="649.64" y="1313.10" width="36.38" height="31.62" fill="#7d7d32" stroke="#111" stroke-width="1.4"/>
<rect x="700.50" y="1313.10" width="33.69" height="31.62" fill="#0000ff" stroke="#111" stroke-width="1.4"/>
<rect x="734.19" y="1313.10" width="33.69" height="31.62" fill="#0000ff" stroke="#111" stroke-width="1.4"/>
<rect x="767.88" y="1313.10" width="33.69" height="31.62" fill="#5b5b3a" stroke="#111" stroke-width="1.4"/>
<rect x="801.57" y="1313.10" width="33.69" height="31.62" fill="#5b5b3a" stroke="#111" stroke-width="1.4"/>
<rect x="835.26" y="1313.10" width="33.69" height="31.62" fill="#7d7d32" stroke="#111" stroke-width="1.4"/>
<rect x="868.95" y="1313.10" width="33.69" height="31.62" fill="#a5a52a" stroke="#111" stroke-width="1.4"/>
<rect x="902.64" y="1313.10" width="33.69" height="31.62" fill="#3e3e40" stroke="#111" stroke-width="1.4"/>
<rect x="936.33" y="1313.10" width="33.69" height="31.62" fill="#37375f" stroke="#111" stroke-width="1.4"/>
<rect x="970.02" y="1313.10" width="33.69" height="31.62" fill="#ffff00" stroke="#111" stroke-width="1.4"/>
<rect x="1003.71" y="1313.10" width="33.69" height="31.62" fill="#a5a52a" stroke="#111" stroke-width="1.4"/>
<rect x="1037.40" y="1313.10" width="33.69" height="31.62" fill="#d2d224" stroke="#111" stroke-width="1.4"/>
<rect x="1071.09" y="1313.10" width="33.69" height="31.62" fill="#5b5b3a" stroke="#111" stroke-width="1.4"/>
<rect x="1104.78" y="1313.10" width="33.69" height="31.62" fill="#5b5b3a" stroke="#111" stroke-width="1.4"/>
<rect x="1138.47" y="1313.10" width="33.69" height="31.62" fill="#5b5b3a" stroke="#111" stroke-width="1.4"/>
<rect x="1172.16" y="1313.10" width="33.69" height="31.62" fill="#7d7d32" stroke="#111" stroke-width="1.4"/>
<rect x="1205.85" y="1313.10" width="33.69" height="31.62" fill="#ffff00" stroke="#111" stroke-width="1.4"/>
<rect x="1239.54" y="1313.10" width="33.69" height="31.62" fill="#5b5b3a" stroke="#111" stroke-width="1.4"/>
<rect x="1273.23" y="1313.10" width="33.69" height="31.62" fill="#2a2a94" stroke="#111" stroke-width="1.4"/>
<rect x="1306.92" y="1313.10" width="33.69" height="31.62" fill="#d2d224" stroke="#111" stroke-width="1.4"/>
<rect x="1340.61" y="1313.10" width="33.69" height="31.62" fill="#5b5b3a" stroke="#111" stroke-width="1.4"/>
<rect x="1374.30" y="1313.10" width="33.69" height="31.62" fill="#a5a52a" stroke="#111" stroke-width="1.4"/>
<rect x="1407.99" y="1313.10" width="33.69" height="31.62" fill="#2a2a94" stroke="#111" stroke-width="1.4"/>
<rect x="1441.68" y="1313.10" width="33.69" height="31.62" fill="#ffff00" stroke="#111" stroke-width="1.4"/>
<rect x="1475.37" y="1313.10" width="33.69" height="31.62" fill="#a5a52a" stroke="#111" stroke-width="1.4"/>
<rect x="1509.06" y="1313.10" width="33.69" height="31.62" fill="#ecec26" stroke="#111" stroke-width="1.4"/>
<text x="1547.6" y="1340.6" font-size="36.5">S100A9</text>
<rect x="540.50" y="1344.72" width="36.38" height="31.62" fill="#2a2a94" stroke="#111" stroke-width="1.4"/>
<rect x="576.88" y="1344.72" width="36.38" height="31.62" fill="#37375f" stroke="#111" stroke-width="1.4"/>
<rect x="613.26" y="1344.72" width="36.38" height="31.62" fill="#7d7d32" stroke="#111" stroke-width="1.4"/>
<rect x="649.64" y="1344.72" width="36.38" height="31.62" fill="#5b5b3a" stroke="#111" stroke-width="1.4"/>
<rect x="700.50" y="1344.72" width="33.69" height="31.62" fill="#0000ff" stroke="#111" stroke-width="1.4"/>
<rect x="734.19" y="1344.72" width="33.69" height="31.62" fill="#0000ff" stroke="#111" stroke-width="1.4"/>
<rect x="767.88" y="1344.72" width="33.69" height="31.62" fill="#2a2a94" stroke="#111" stroke-width="1.4"/>
<rect x="801.57" y="1344.72" width="33.69" height="31.62" fill="#2a2a94" stroke="#111" stroke-width="1.4"/>
<rect x="835.26" y="1344.72" width="33.69" height="31.62" fill="#d2d224" stroke="#111" stroke-width="1.4"/>
<rect x="868.95" y="1344.72" width="33.69" height="31.62" fill="#a5a52a" stroke="#111" stroke-width="1.4"/>
<rect x="902.64" y="1344.72" width="33.69" height="31.62" fill="#3e3e40" stroke="#111" stroke-width="1.4"/>
<rect x="936.33" y="1344.72" width="33.69" height="31.62" fill="#1d1dd2" stroke="#111" stroke-width="1.4"/>
<rect x="970.02" y="1344.72" width="33.69" height="31.62" fill="#2a2a94" stroke="#111" stroke-width="1.4"/>
<rect x="1003.71" y="1344.72" width="33.69" height="31.62" fill="#a5a52a" stroke="#111" stroke-width="1.4"/>
<rect x="1037.40" y="1344.72" width="33.69" height="31.62" fill="#a5a52a" stroke="#111" stroke-width="1.4"/>
<rect x="1071.09" y="1344.72" width="33.69" height="31.62" fill="#3e3e40" stroke="#111" stroke-width="1.4"/>
<rect x="1104.78" y="1344.72" width="33.69" height="31.62" fill="#a5a52a" stroke="#111" stroke-width="1.4"/>
<rect x="1138.47" y="1344.72" width="33.69" height="31.62" fill="#1d1dd2" stroke="#111" stroke-width="1.4"/>
<rect x="1172.16" y="1344.72" width="33.69" height="31.62" fill="#5b5b3a" stroke="#111" stroke-width="1.4"/>
<rect x="1205.85" y="1344.72" width="33.69" height="31.62" fill="#ffff00" stroke="#111" stroke-width="1.4"/>
<rect x="1239.54" y="1344.72" width="33.69" height="31.62" fill="#3e3e40" stroke="#111" stroke-width="1.4"/>
<rect x="1273.23" y="1344.72" width="33.69" height="31.62" fill="#2a2a94" stroke="#111" stroke-width="1.4"/>
<rect x="1306.92" y="1344.72" width="33.69" height="31.62" fill="#37375f" stroke="#111" stroke-width="1.4"/>
<rect x="1340.61" y="1344.72" width="33.69" height="31.62" fill="#3e3e40" stroke="#111" stroke-width="1.4"/>
<rect x="1374.30" y="1344.72" width="33.69" height="31.62" fill="#a5a52a" stroke="#111" stroke-width="1.4"/>
<rect x="1407.99" y="1344.72" width="33.69" height="31.62" fill="#7d7d32" stroke="#111" stroke-width="1.4"/>
<rect x="1441.68" y="1344.72" width="33.69" height="31.62" fill="#a5a52a" stroke="#111" stroke-width="1.4"/>
<rect x="1475.37" y="1344.72" width="33.69" height="31.62" fill="#a5a52a" stroke="#111" stroke-width="1.4"/>
<rect x="1509.06" y="1344.72" width="33.69" height="31.62" fill="#ffff00" stroke="#111" stroke-width="1.4"/>
<text x="1547.6" y="1372.3" font-size="36.5">CCR1</text>
<rect x="540.50" y="1376.34" width="36.38" height="31.62" fill="#2a2a94" stroke="#111" stroke-width="1.4"/>
<rect x="576.88" y="1376.34" width="36.38" height="31.62" fill="#37375f" stroke="#111" stroke-width="1.4"/>
<rect x="613.26" y="1376.34" width="36.38" height="31.62" fill="#5b5b3a" stroke="#111" stroke-width="1.4"/>
<rect x="649.64" y="1376.34" width="36.38" height="31.62" fill="#7d7d32" stroke="#111" stroke-width="1.4"/>
<rect x="700.50" y="1376.34" width="33.69" height="31.62" fill="#0000ff" stroke="#111" stroke-width="1.4"/>
<rect x="734.19" y="1376.34" width="33.69" height="31.62" fill="#0000ff" stroke="#111" stroke-width="1.4"/>
<rect x="767.88" y="1376.34" width="33.69" height="31.62" fill="#37375f" stroke="#111" stroke-width="1.4"/>
<rect x="801.57" y="1376.34" width="33.69" height="31.62" fill="#5b5b3a" stroke="#111" stroke-width="1.4"/>
<rect x="835.26" y="1376.34" width="33.69" height="31.62" fill="#5b5b3a" stroke="#111" stroke-width="1.4"/>
<rect x="868.95" y="1376.34" width="33.69" height="31.62" fill="#ecec26" stroke="#111" stroke-width="1.4"/>
<rect x="902.64" y="1376.34" width="33.69" height="31.62" fill="#37375f" stroke="#111" stroke-width="1.4"/>
<rect x="936.33" y="1376.34" width="33.69" height="31.62" fill="#37375f" stroke="#111" stroke-width="1.4"/>
<rect x="970.02" y="1376.34" width="33.69" height="31.62" fill="#5b5b3a" stroke="#111" stroke-width="1.4"/>
<rect x="1003.71" y="1376.34" width="33.69" height="31.62" fill="#a5a52a" stroke="#111" stroke-width="1.4"/>
<rect x="1037.40" y="1376.34" width="33.69" height="31.62" fill="#7d7d32" stroke="#111" stroke-width="1.4"/>
<rect x="1071.09" y="1376.34" width="33.69" height="31.62" fill="#a5a52a" stroke="#111" stroke-width="1.4"/>
<rect x="1104.78" y="1376.34" width="33.69" height="31.62" fill="#3e3e40" stroke="#111" stroke-width="1.4"/>
<rect x="1138.47" y="1376.34" width="33.69" height="31.62" fill="#5b5b3a" stroke="#111" stroke-width="1.4"/>
<rect x="1172.16" y="1376.34" width="33.69" height="31.62" fill="#37375f" stroke="#111" stroke-width="1.4"/>
<rect x="1205.85" y="1376.34" width="33.69" height="31.62" fill="#a5a52a" stroke="#111" stroke-width="1.4"/>
<rect x="1239.54" y="1376.34" width="33.69" height="31.62" fill="#5b5b3a" stroke="#111" stroke-width="1.4"/>
<rect x="1273.23" y="1376.34" width="33.69" height="31.62" fill="#2a2a94" stroke="#111" stroke-width="1.4"/>
<rect x="1306.92" y="1376.34" width="33.69" height="31.62" fill="#3e3e40" stroke="#111" stroke-width="1.4"/>
<rect x="1340.61" y="1376.34" width="33.69" height="31.62" fill="#37375f" stroke="#111" stroke-width="1.4"/>
<rect x="1374.30" y="1376.34" width="33.69" height="31.62" fill="#7d7d32" stroke="#111" stroke-width="1.4"/>
<rect x="1407.99" y="1376.34" width="33.69" height="31.62" fill="#2a2a94" stroke="#111" stroke-width="1.4"/>
<rect x="1441.68" y="1376.34" width="33.69" height="31.62" fill="#7d7d32" stroke="#111" stroke-width="1.4"/>
<rect x="1475.37" y="1376.34" width="33.69" height="31.62" fill="#5b5b3a" stroke="#111" stroke-width="1.4"/>
<rect x="1509.06" y="1376.34" width="33.69" height="31.62" fill="#ffff00" stroke="#111" stroke-width="1.4"/>
<text x="1547.6" y="1404.0" font-size="36.5">FCER1G</text>
<rect x="540.50" y="1407.96" width="36.38" height="31.62" fill="#2a2a94" stroke="#111" stroke-width="1.4"/>
<rect x="576.88" y="1407.96" width="36.38" height="31.62" fill="#2a2a94" stroke="#111" stroke-width="1.4"/>
<rect x="613.26" y="1407.96" width="36.38" height="31.62" fill="#a5a52a" stroke="#111" stroke-width="1.4"/>
<rect x="649.64" y="1407.96" width="36.38" height="31.62" fill="#5b5b3a" stroke="#111" stroke-width="1.4"/>
<rect x="700.50" y="1407.96" width="33.69" height="31.62" fill="#0000ff" stroke="#111" stroke-width="1.4"/>
<rect x="734.19" y="1407.96" width="33.69" height="31.62" fill="#0000ff" stroke="#111" stroke-width="1.4"/>
<rect x="767.88" y="1407.96" width="33.69" height="31.62" fill="#7d7d32" stroke="#111" stroke-width="1.4"/>
<rect x="801.57" y="1407.96" width="33.69" height="31.62" fill="#5b5b3a" stroke="#111" stroke-width="1.4"/>
<rect x="835.26" y="1407.96" width="33.69" height="31.62" fill="#a5a52a" stroke="#111" stroke-width="1.4"/>
<rect x="868.95" y="1407.96" width="33.69" height="31.62" fill="#3e3e40" stroke="#111" stroke-width="1.4"/>
<rect x="902.64" y="1407.96" width="33.69" height="31.62" fill="#5b5b3a" stroke="#111" stroke-width="1.4"/>
<rect x="936.33" y="1407.96" width="33.69" height="31.62" fill="#1d1dd2" stroke="#111" stroke-width="1.4"/>
<rect x="970.02" y="1407.96" width="33.69" height="31.62" fill="#3e3e40" stroke="#111" stroke-width="1.4"/>
<rect x="1003.71" y="1407.96" width="33.69" height="31.62" fill="#7d7d32" stroke="#111" stroke-width="1.4"/>
<rect x="1037.40" y="1407.96" width="33.69" height="31.62" fill="#a5a52a" stroke="#111" stroke-width="1.4"/>
<rect x="1071.09" y="1407.96" width="33.69" height="31.62" fill="#5b5b3a" stroke="#111" stroke-width="1.4"/>
<rect x="1104.78" y="1407.96" width="33.69" height="31.62" fill="#d2d224" stroke="#111" stroke-width="1.4"/>
<rect x="1138.47" y="1407.96" width="33.69" height="31.62" fill="#d2d224" stroke="#111" stroke-width="1.4"/>
<rect x="1172.16" y="1407.96" width="33.69" height="31.62" fill="#a5a52a" stroke="#111" stroke-width="1.4"/>
<rect x="1205.85" y="1407.96" width="33.69" height="31.62" fill="#ffff00" stroke="#111" stroke-width="1.4"/>
<rect x="1239.54" y="1407.96" width="33.69" height="31.62" fill="#7d7d32" stroke="#111" stroke-width="1.4"/>
<rect x="1273.23" y="1407.96" width="33.69" height="31.62" fill="#5b5b3a" stroke="#111" stroke-width="1.4"/>
<rect x="1306.92" y="1407.96" width="33.69" height="31.62" fill="#1d1dd2" stroke="#111" stroke-width="1.4"/>
<rect x="1340.61" y="1407.96" width="33.69" height="31.62" fill="#37375f" stroke="#111" stroke-width="1.4"/>
<rect x="1374.30" y="1407.96" width="33.69" height="31.62" fill="#37375f" stroke="#111" stroke-width="1.4"/>
<rect x="1407.99" y="1407.96" width="33.69" height="31.62" fill="#7d7d32" stroke="#111" stroke-width="1.4"/>
<rect x="1441.68" y="1407.96" width="33.69" height="31.62" fill="#d2d224" stroke="#111" stroke-width="1.4"/>
<rect x="1475.37" y="1407.96" width="33.69" height="31.62" fill="#a5a52a" stroke="#111" stroke-width="1.4"/>
<rect x="1509.06" y="1407.96" width="33.69" height="31.62" fill="#1d1dd2" stroke="#111" stroke-width="1.4"/>
<text x="1547.6" y="1435.6" font-size="36.5">DUSP6</text>
<rect x="540.50" y="1439.58" width="36.38" height="31.62" fill="#2a2a94" stroke="#111" stroke-width="1.4"/>
<rect x="576.88" y="1439.58" width="36.38" height="31.62" fill="#2a2a94" stroke="#111" stroke-width="1.4"/>
<rect x="613.26" y="1439.58" width="36.38" height="31.62" fill="#a5a52a" stroke="#111" stroke-width="1.4"/>
<rect x="649.64" y="1439.58" width="36.38" height="31.62" fill="#7d7d32" stroke="#111" stroke-width="1.4"/>
<rect x="700.50" y="1439.58" width="33.69" height="31.62" fill="#1d1dd2" stroke="#111" stroke-width="1.4"/>
<rect x="734.19" y="1439.58" width="33.69" height="31.62" fill="#0000ff" stroke="#111" stroke-width="1.4"/>
<rect x="767.88" y="1439.58" width="33.69" height="31.62" fill="#7d7d32" stroke="#111" stroke-width="1.4"/>
<rect x="801.57" y="1439.58" width="33.69" height="31.62" fill="#37375f" stroke="#111" stroke-width="1.4"/>
<rect x="835.26" y="1439.58" width="33.69" height="31.62" fill="#5b5b3a" stroke="#111" stroke-width="1.4"/>
<rect x="868.95" y="1439.58" width="33.69" height="31.62" fill="#7d7d32" stroke="#111" stroke-width="1.4"/>
<rect x="902.64" y="1439.58" width="33.69" height="31.62" fill="#37375f" stroke="#111" stroke-width="1.4"/>
<rect x="936.33" y="1439.58" width="33.69" height="31.62" fill="#37375f" stroke="#111" stroke-width="1.4"/>
<rect x="970.02" y="1439.58" width="33.69" height="31.62" fill="#7d7d32" stroke="#111" stroke-width="1.4"/>
<rect x="1003.71" y="1439.58" width="33.69" height="31.62" fill="#5b5b3a" stroke="#111" stroke-width="1.4"/>
<rect x="1037.40" y="1439.58" width="33.69" height="31.62" fill="#7d7d32" stroke="#111" stroke-width="1.4"/>
<rect x="1071.09" y="1439.58" width="33.69" height="31.62" fill="#37375f" stroke="#111" stroke-width="1.4"/>
<rect x="1104.78" y="1439.58" width="33.69" height="31.62" fill="#7d7d32" stroke="#111" stroke-width="1.4"/>
<rect x="1138.47" y="1439.58" width="33.69" height="31.62" fill="#ffff00" stroke="#111" stroke-width="1.4"/>
<rect x="1172.16" y="1439.58" width="33.69" height="31.62" fill="#a5a52a" stroke="#111" stroke-width="1.4"/>
<rect x="1205.85" y="1439.58" width="33.69" height="31.62" fill="#ffff00" stroke="#111" stroke-width="1.4"/>
<rect x="1239.54" y="1439.58" width="33.69" height="31.62" fill="#37375f" stroke="#111" stroke-width="1.4"/>
<rect x="1273.23" y="1439.58" width="33.69" height="31.62" fill="#2a2a94" stroke="#111" stroke-width="1.4"/>
<rect x="1306.92" y="1439.58" width="33.69" height="31.62" fill="#2a2a94" stroke="#111" stroke-width="1.4"/>
<rect x="1340.61" y="1439.58" width="33.69" height="31.62" fill="#3e3e40" stroke="#111" stroke-width="1.4"/>
<rect x="1374.30" y="1439.58" width="33.69" height="31.62" fill="#2a2a94" stroke="#111" stroke-width="1.4"/>
<rect x="1407.99" y="1439.58" width="33.69" height="31.62" fill="#3e3e40" stroke="#111" stroke-width="1.4"/>
<rect x="1441.68" y="1439.58" width="33.69" height="31.62" fill="#a5a52a" stroke="#111" stroke-width="1.4"/>
<rect x="1475.37" y="1439.58" width="33.69" height="31.62" fill="#d2d224" stroke="#111" stroke-width="1.4"/>
<rect x="1509.06" y="1439.58" width="33.69" height="31.62" fill="#37375f" stroke="#111" stroke-width="1.4"/>
<text x="1547.6" y="1467.3" font-size="36.5">EREG</text>
<rect x="540.50" y="1471.20" width="36.38" height="31.62" fill="#2a2a94" stroke="#111" stroke-width="1.4"/>
<rect x="576.88" y="1471.20" width="36.38" height="31.62" fill="#37375f" stroke="#111" stroke-width="1.4"/>
<rect x="613.26" y="1471.20" width="36.38" height="31.62" fill="#7d7d32" stroke="#111" stroke-width="1.4"/>
<rect x="649.64" y="1471.20" width="36.38" height="31.62" fill="#7d7d32" stroke="#111" stroke-width="1.4"/>
<rect x="700.50" y="1471.20" width="33.69" height="31.62" fill="#0000ff" stroke="#111" stroke-width="1.4"/>
<rect x="734.19" y="1471.20" width="33.69" height="31.62" fill="#0000ff" stroke="#111" stroke-width="1.4"/>
<rect x="767.88" y="1471.20" width="33.69" height="31.62" fill="#1d1dd2" stroke="#111" stroke-width="1.4"/>
<rect x="801.57" y="1471.20" width="33.69" height="31.62" fill="#2a2a94" stroke="#111" stroke-width="1.4"/>
<rect x="835.26" y="1471.20" width="33.69" height="31.62" fill="#a5a52a" stroke="#111" stroke-width="1.4"/>
<rect x="868.95" y="1471.20" width="33.69" height="31.62" fill="#d2d224" stroke="#111" stroke-width="1.4"/>
<rect x="902.64" y="1471.20" width="33.69" height="31.62" fill="#5b5b3a" stroke="#111" stroke-width="1.4"/>
<rect x="936.33" y="1471.20" width="33.69" height="31.62" fill="#37375f" stroke="#111" stroke-width="1.4"/>
<rect x="970.02" y="1471.20" width="33.69" height="31.62" fill="#d2d224" stroke="#111" stroke-width="1.4"/>
<rect x="1003.71" y="1471.20" width="33.69" height="31.62" fill="#1d1dd2" stroke="#111" stroke-width="1.4"/>
<rect x="1037.40" y="1471.20" width="33.69" height="31.62" fill="#d2d224" stroke="#111" stroke-width="1.4"/>
<rect x="1071.09" y="1471.20" width="33.69" height="31.62" fill="#7d7d32" stroke="#111" stroke-width="1.4"/>
<rect x="1104.78" y="1471.20" width="33.69" height="31.62" fill="#3e3e40" stroke="#111" stroke-width="1.4"/>
<rect x="1138.47" y="1471.20" width="33.69" height="31.62" fill="#d2d224" stroke="#111" stroke-width="1.4"/>
<rect x="1172.16" y="1471.20" width="33.69" height="31.62" fill="#d2d224" stroke="#111" stroke-width="1.4"/>
<rect x="1205.85" y="1471.20" width="33.69" height="31.62" fill="#ffff00" stroke="#111" stroke-width="1.4"/>
<rect x="1239.54" y="1471.20" width="33.69" height="31.62" fill="#7d7d32" stroke="#111" stroke-width="1.4"/>
<rect x="1273.23" y="1471.20" width="33.69" height="31.62" fill="#2a2a94" stroke="#111" stroke-width="1.4"/>
<rect x="1306.92" y="1471.20" width="33.69" height="31.62" fill="#2a2a94" stroke="#111" stroke-width="1.4"/>
<rect x="1340.61" y="1471.20" width="33.69" height="31.62" fill="#37375f" stroke="#111" stroke-width="1.4"/>
<rect x="1374.30" y="1471.20" width="33.69" height="31.62" fill="#7d7d32" stroke="#111" stroke-width="1.4"/>
<rect x="1407.99" y="1471.20" width="33.69" height="31.62" fill="#2a2a94" stroke="#111" stroke-width="1.4"/>
<rect x="1441.68" y="1471.20" width="33.69" height="31.62" fill="#7d7d32" stroke="#111" stroke-width="1.4"/>
<rect x="1475.37" y="1471.20" width="33.69" height="31.62" fill="#ecec26" stroke="#111" stroke-width="1.4"/>
<rect x="1509.06" y="1471.20" width="33.69" height="31.62" fill="#7d7d32" stroke="#111" stroke-width="1.4"/>
<text x="1547.6" y="1499.0" font-size="36.5">TREM1</text>
<rect x="540.50" y="1502.82" width="36.38" height="31.62" fill="#2a2a94" stroke="#111" stroke-width="1.4"/>
<rect x="576.88" y="1502.82" width="36.38" height="31.62" fill="#5b5b3a" stroke="#111" stroke-width="1.4"/>
<rect x="613.26" y="1502.82" width="36.38" height="31.62" fill="#5b5b3a" stroke="#111" stroke-width="1.4"/>
<rect x="649.64" y="1502.82" width="36.38" height="31.62" fill="#5b5b3a" stroke="#111" stroke-width="1.4"/>
<rect x="700.50" y="1502.82" width="33.69" height="31.62" fill="#0000ff" stroke="#111" stroke-width="1.4"/>
<rect x="734.19" y="1502.82" width="33.69" height="31.62" fill="#37375f" stroke="#111" stroke-width="1.4"/>
<rect x="767.88" y="1502.82" width="33.69" height="31.62" fill="#1d1dd2" stroke="#111" stroke-width="1.4"/>
<rect x="801.57" y="1502.82" width="33.69" height="31.62" fill="#37375f" stroke="#111" stroke-width="1.4"/>
<rect x="835.26" y="1502.82" width="33.69" height="31.62" fill="#5b5b3a" stroke="#111" stroke-width="1.4"/>
<rect x="868.95" y="1502.82" width="33.69" height="31.62" fill="#37375f" stroke="#111" stroke-width="1.4"/>
<rect x="902.64" y="1502.82" width="33.69" height="31.62" fill="#0000ff" stroke="#111" stroke-width="1.4"/>
<rect x="936.33" y="1502.82" width="33.69" height="31.62" fill="#37375f" stroke="#111" stroke-width="1.4"/>
<rect x="970.02" y="1502.82" width="33.69" height="31.62" fill="#7d7d32" stroke="#111" stroke-width="1.4"/>
<rect x="1003.71" y="1502.82" width="33.69" height="31.62" fill="#7d7d32" stroke="#111" stroke-width="1.4"/>
<rect x="1037.40" y="1502.82" width="33.69" height="31.62" fill="#ffff00" stroke="#111" stroke-width="1.4"/>
<rect x="1071.09" y="1502.82" width="33.69" height="31.62" fill="#5b5b3a" stroke="#111" stroke-width="1.4"/>
<rect x="1104.78" y="1502.82" width="33.69" height="31.62" fill="#ffff00" stroke="#111" stroke-width="1.4"/>
<rect x="1138.47" y="1502.82" width="33.69" height="31.62" fill="#37375f" stroke="#111" stroke-width="1.4"/>
<rect x="1172.16" y="1502.82" width="33.69" height="31.62" fill="#a5a52a" stroke="#111" stroke-width="1.4"/>
<rect x="1205.85" y="1502.82" width="33.69" height="31.62" fill="#5b5b3a" stroke="#111" stroke-width="1.4"/>
<rect x="1239.54" y="1502.82" width="33.69" height="31.62" fill="#5b5b3a" stroke="#111" stroke-width="1.4"/>
<rect x="1273.23" y="1502.82" width="33.69" height="31.62" fill="#3e3e40" stroke="#111" stroke-width="1.4"/>
<rect x="1306.92" y="1502.82" width="33.69" height="31.62" fill="#5b5b3a" stroke="#111" stroke-width="1.4"/>
<rect x="1340.61" y="1502.82" width="33.69" height="31.62" fill="#1d1dd2" stroke="#111" stroke-width="1.4"/>
<rect x="1374.30" y="1502.82" width="33.69" height="31.62" fill="#7d7d32" stroke="#111" stroke-width="1.4"/>
<rect x="1407.99" y="1502.82" width="33.69" height="31.62" fill="#37375f" stroke="#111" stroke-width="1.4"/>
<rect x="1441.68" y="1502.82" width="33.69" height="31.62" fill="#ffff00" stroke="#111" stroke-width="1.4"/>
<rect x="1475.37" y="1502.82" width="33.69" height="31.62" fill="#ecec26" stroke="#111" stroke-width="1.4"/>
<rect x="1509.06" y="1502.82" width="33.69" height="31.62" fill="#7d7d32" stroke="#111" stroke-width="1.4"/>
<text x="1547.6" y="1530.6" font-size="36.5">NLRC4</text>
<rect x="540.50" y="1534.44" width="36.38" height="31.62" fill="#2a2a94" stroke="#111" stroke-width="1.4"/>
<rect x="576.88" y="1534.44" width="36.38" height="31.62" fill="#3e3e40" stroke="#111" stroke-width="1.4"/>
<rect x="613.26" y="1534.44" width="36.38" height="31.62" fill="#5b5b3a" stroke="#111" stroke-width="1.4"/>
<rect x="649.64" y="1534.44" width="36.38" height="31.62" fill="#7d7d32" stroke="#111" stroke-width="1.4"/>
<rect x="700.50" y="1534.44" width="33.69" height="31.62" fill="#0000ff" stroke="#111" stroke-width="1.4"/>
<rect x="734.19" y="1534.44" width="33.69" height="31.62" fill="#37375f" stroke="#111" stroke-width="1.4"/>
<rect x="767.88" y="1534.44" width="33.69" height="31.62" fill="#37375f" stroke="#111" stroke-width="1.4"/>
<rect x="801.57" y="1534.44" width="33.69" height="31.62" fill="#1d1dd2" stroke="#111" stroke-width="1.4"/>
<rect x="835.26" y="1534.44" width="33.69" height="31.62" fill="#ecec26" stroke="#111" stroke-width="1.4"/>
<rect x="868.95" y="1534.44" width="33.69" height="31.62" fill="#a5a52a" stroke="#111" stroke-width="1.4"/>
<rect x="902.64" y="1534.44" width="33.69" height="31.62" fill="#3e3e40" stroke="#111" stroke-width="1.4"/>
<rect x="936.33" y="1534.44" width="33.69" height="31.62" fill="#37375f" stroke="#111" stroke-width="1.4"/>
<rect x="970.02" y="1534.44" width="33.69" height="31.62" fill="#7d7d32" stroke="#111" stroke-width="1.4"/>
<rect x="1003.71" y="1534.44" width="33.69" height="31.62" fill="#3e3e40" stroke="#111" stroke-width="1.4"/>
<rect x="1037.40" y="1534.44" width="33.69" height="31.62" fill="#a5a52a" stroke="#111" stroke-width="1.4"/>
<rect x="1071.09" y="1534.44" width="33.69" height="31.62" fill="#5b5b3a" stroke="#111" stroke-width="1.4"/>
<rect x="1104.78" y="1534.44" width="33.69" height="31.62" fill="#ecec26" stroke="#111" stroke-width="1.4"/>
<rect x="1138.47" y="1534.44" width="33.69" height="31.62" fill="#2a2a94" stroke="#111" stroke-width="1.4"/>
<rect x="1172.16" y="1534.44" width="33.69" height="31.62" fill="#5b5b3a" stroke="#111" stroke-width="1.4"/>
<rect x="1205.85" y="1534.44" width="33.69" height="31.62" fill="#2a2a94" stroke="#111" stroke-width="1.4"/>
<rect x="1239.54" y="1534.44" width="33.69" height="31.62" fill="#a5a52a" stroke="#111" stroke-width="1.4"/>
<rect x="1273.23" y="1534.44" width="33.69" height="31.62" fill="#3e3e40" stroke="#111" stroke-width="1.4"/>
<rect x="1306.92" y="1534.44" width="33.69" height="31.62" fill="#5b5b3a" stroke="#111" stroke-width="1.4"/>
<rect x="1340.61" y="1534.44" width="33.69" height="31.62" fill="#3e3e40" stroke="#111" stroke-width="1.4"/>
<rect x="1374.30" y="1534.44" width="33.69" height="31.62" fill="#37375f" stroke="#111" stroke-width="1.4"/>
<rect x="1407.99" y="1534.44" width="33.69" height="31.62" fill="#37375f" stroke="#111" stroke-width="1.4"/>
<rect x="1441.68" y="1534.44" width="33.69" height="31.62" fill="#ffff00" stroke="#111" stroke-width="1.4"/>
<rect x="1475.37" y="1534.44" width="33.69" height="31.62" fill="#3e3e40" stroke="#111" stroke-width="1.4"/>
<rect x="1509.06" y="1534.44" width="33.69" height="31.62" fill="#5b5b3a" stroke="#111" stroke-width="1.4"/>
<text x="1547.6" y="1562.3" font-size="36.5">CXCL16</text>
<rect x="540.50" y="1566.06" width="36.38" height="31.62" fill="#2a2a94" stroke="#111" stroke-width="1.4"/>
<rect x="576.88" y="1566.06" width="36.38" height="31.62" fill="#37375f" stroke="#111" stroke-width="1.4"/>
<rect x="613.26" y="1566.06" width="36.38" height="31.62" fill="#5b5b3a" stroke="#111" stroke-width="1.4"/>
<rect x="649.64" y="1566.06" width="36.38" height="31.62" fill="#7d7d32" stroke="#111" stroke-width="1.4"/>
<rect x="700.50" y="1566.06" width="33.69" height="31.62" fill="#0000ff" stroke="#111" stroke-width="1.4"/>
<rect x="734.19" y="1566.06" width="33.69" height="31.62" fill="#7d7d32" stroke="#111" stroke-width="1.4"/>
<rect x="767.88" y="1566.06" width="33.69" height="31.62" fill="#5b5b3a" stroke="#111" stroke-width="1.4"/>
<rect x="801.57" y="1566.06" width="33.69" height="31.62" fill="#37375f" stroke="#111" stroke-width="1.4"/>
<rect x="835.26" y="1566.06" width="33.69" height="31.62" fill="#a5a52a" stroke="#111" stroke-width="1.4"/>
<rect x="868.95" y="1566.06" width="33.69" height="31.62" fill="#d2d224" stroke="#111" stroke-width="1.4"/>
<rect x="902.64" y="1566.06" width="33.69" height="31.62" fill="#37375f" stroke="#111" stroke-width="1.4"/>
<rect x="936.33" y="1566.06" width="33.69" height="31.62" fill="#2a2a94" stroke="#111" stroke-width="1.4"/>
<rect x="970.02" y="1566.06" width="33.69" height="31.62" fill="#7d7d32" stroke="#111" stroke-width="1.4"/>
<rect x="1003.71" y="1566.06" width="33.69" height="31.62" fill="#3e3e40" stroke="#111" stroke-width="1.4"/>
<rect x="1037.40" y="1566.06" width="33.69" height="31.62" fill="#7d7d32" stroke="#111" stroke-width="1.4"/>
<rect x="1071.09" y="1566.06" width="33.69" height="31.62" fill="#a5a52a" stroke="#111" stroke-width="1.4"/>
<rect x="1104.78" y="1566.06" width="33.69" height="31.62" fill="#d2d224" stroke="#111" stroke-width="1.4"/>
<rect x="1138.47" y="1566.06" width="33.69" height="31.62" fill="#7d7d32" stroke="#111" stroke-width="1.4"/>
<rect x="1172.16" y="1566.06" width="33.69" height="31.62" fill="#5b5b3a" stroke="#111" stroke-width="1.4"/>
<rect x="1205.85" y="1566.06" width="33.69" height="31.62" fill="#a5a52a" stroke="#111" stroke-width="1.4"/>
<rect x="1239.54" y="1566.06" width="33.69" height="31.62" fill="#a5a52a" stroke="#111" stroke-width="1.4"/>
<rect x="1273.23" y="1566.06" width="33.69" height="31.62" fill="#2a2a94" stroke="#111" stroke-width="1.4"/>
<rect x="1306.92" y="1566.06" width="33.69" height="31.62" fill="#7d7d32" stroke="#111" stroke-width="1.4"/>
<rect x="1340.61" y="1566.06" width="33.69" height="31.62" fill="#3e3e40" stroke="#111" stroke-width="1.4"/>
<rect x="1374.30" y="1566.06" width="33.69" height="31.62" fill="#2a2a94" stroke="#111" stroke-width="1.4"/>
<rect x="1407.99" y="1566.06" width="33.69" height="31.62" fill="#37375f" stroke="#111" stroke-width="1.4"/>
<rect x="1441.68" y="1566.06" width="33.69" height="31.62" fill="#d2d224" stroke="#111" stroke-width="1.4"/>
<rect x="1475.37" y="1566.06" width="33.69" height="31.62" fill="#7d7d32" stroke="#111" stroke-width="1.4"/>
<rect x="1509.06" y="1566.06" width="33.69" height="31.62" fill="#37375f" stroke="#111" stroke-width="1.4"/>
<text x="1547.6" y="1594.0" font-size="36.5">HCK</text>
<rect x="540.50" y="1597.68" width="36.38" height="31.62" fill="#3e3e40" stroke="#111" stroke-width="1.4"/>
<rect x="576.88" y="1597.68" width="36.38" height="31.62" fill="#37375f" stroke="#111" stroke-width="1.4"/>
<rect x="613.26" y="1597.68" width="36.38" height="31.62" fill="#7d7d32" stroke="#111" stroke-width="1.4"/>
<rect x="649.64" y="1597.68" width="36.38" height="31.62" fill="#37375f" stroke="#111" stroke-width="1.4"/>
<rect x="700.50" y="1597.68" width="33.69" height="31.62" fill="#2a2a94" stroke="#111" stroke-width="1.4"/>
<rect x="734.19" y="1597.68" width="33.69" height="31.62" fill="#37375f" stroke="#111" stroke-width="1.4"/>
<rect x="767.88" y="1597.68" width="33.69" height="31.62" fill="#7d7d32" stroke="#111" stroke-width="1.4"/>
<rect x="801.57" y="1597.68" width="33.69" height="31.62" fill="#1d1dd2" stroke="#111" stroke-width="1.4"/>
<rect x="835.26" y="1597.68" width="33.69" height="31.62" fill="#d2d224" stroke="#111" stroke-width="1.4"/>
<rect x="868.95" y="1597.68" width="33.69" height="31.62" fill="#d2d224" stroke="#111" stroke-width="1.4"/>
<rect x="902.64" y="1597.68" width="33.69" height="31.62" fill="#2a2a94" stroke="#111" stroke-width="1.4"/>
<rect x="936.33" y="1597.68" width="33.69" height="31.62" fill="#37375f" stroke="#111" stroke-width="1.4"/>
<rect x="970.02" y="1597.68" width="33.69" height="31.62" fill="#5b5b3a" stroke="#111" stroke-width="1.4"/>
<rect x="1003.71" y="1597.68" width="33.69" height="31.62" fill="#37375f" stroke="#111" stroke-width="1.4"/>
<rect x="1037.40" y="1597.68" width="33.69" height="31.62" fill="#a5a52a" stroke="#111" stroke-width="1.4"/>
<rect x="1071.09" y="1597.68" width="33.69" height="31.62" fill="#a5a52a" stroke="#111" stroke-width="1.4"/>
<rect x="1104.78" y="1597.68" width="33.69" height="31.62" fill="#7d7d32" stroke="#111" stroke-width="1.4"/>
<rect x="1138.47" y="1597.68" width="33.69" height="31.62" fill="#5b5b3a" stroke="#111" stroke-width="1.4"/>
<rect x="1172.16" y="1597.68" width="33.69" height="31.62" fill="#a5a52a" stroke="#111" stroke-width="1.4"/>
<rect x="1205.85" y="1597.68" width="33.69" height="31.62" fill="#ecec26" stroke="#111" stroke-width="1.4"/>
<rect x="1239.54" y="1597.68" width="33.69" height="31.62" fill="#a5a52a" stroke="#111" stroke-width="1.4"/>
<rect x="1273.23" y="1597.68" width="33.69" height="31.62" fill="#2a2a94" stroke="#111" stroke-width="1.4"/>
<rect x="1306.92" y="1597.68" width="33.69" height="31.62" fill="#3e3e40" stroke="#111" stroke-width="1.4"/>
<rect x="1340.61" y="1597.68" width="33.69" height="31.62" fill="#7d7d32" stroke="#111" stroke-width="1.4"/>
<rect x="1374.30" y="1597.68" width="33.69" height="31.62" fill="#7d7d32" stroke="#111" stroke-width="1.4"/>
<rect x="1407.99" y="1597.68" width="33.69" height="31.62" fill="#2a2a94" stroke="#111" stroke-width="1.4"/>
<rect x="1441.68" y="1597.68" width="33.69" height="31.62" fill="#ffff00" stroke="#111" stroke-width="1.4"/>
<rect x="1475.37" y="1597.68" width="33.69" height="31.62" fill="#37375f" stroke="#111" stroke-width="1.4"/>
<rect x="1509.06" y="1597.68" width="33.69" height="31.62" fill="#1d1dd2" stroke="#111" stroke-width="1.4"/>
<text x="1547.6" y="1625.6" font-size="36.5">TNFRSF10D</text>
<rect x="540.50" y="1629.30" width="36.38" height="31.62" fill="#2a2a94" stroke="#111" stroke-width="1.4"/>
<rect x="576.88" y="1629.30" width="36.38" height="31.62" fill="#3e3e40" stroke="#111" stroke-width="1.4"/>
<rect x="613.26" y="1629.30" width="36.38" height="31.62" fill="#5b5b3a" stroke="#111" stroke-width="1.4"/>
<rect x="649.64" y="1629.30" width="36.38" height="31.62" fill="#7d7d32" stroke="#111" stroke-width="1.4"/>
<rect x="700.50" y="1629.30" width="33.69" height="31.62" fill="#1d1dd2" stroke="#111" stroke-width="1.4"/>
<rect x="734.19" y="1629.30" width="33.69" height="31.62" fill="#2a2a94" stroke="#111" stroke-width="1.4"/>
<rect x="767.88" y="1629.30" width="33.69" height="31.62" fill="#a5a52a" stroke="#111" stroke-width="1.4"/>
<rect x="801.57" y="1629.30" width="33.69" height="31.62" fill="#37375f" stroke="#111" stroke-width="1.4"/>
<rect x="835.26" y="1629.30" width="33.69" height="31.62" fill="#5b5b3a" stroke="#111" stroke-width="1.4"/>
<rect x="868.95" y="1629.30" width="33.69" height="31.62" fill="#2a2a94" stroke="#111" stroke-width="1.4"/>
<rect x="902.64" y="1629.30" width="33.69" height="31.62" fill="#37375f" stroke="#111" stroke-width="1.4"/>
<rect x="936.33" y="1629.30" width="33.69" height="31.62" fill="#2a2a94" stroke="#111" stroke-width="1.4"/>
<rect x="970.02" y="1629.30" width="33.69" height="31.62" fill="#5b5b3a" stroke="#111" stroke-width="1.4"/>
<rect x="1003.71" y="1629.30" width="33.69" height="31.62" fill="#37375f" stroke="#111" stroke-width="1.4"/>
<rect x="1037.40" y="1629.30" width="33.69" height="31.62" fill="#7d7d32" stroke="#111" stroke-width="1.4"/>
<rect x="1071.09" y="1629.30" width="33.69" height="31.62" fill="#a5a52a" stroke="#111" stroke-width="1.4"/>
<rect x="1104.78" y="1629.30" width="33.69" height="31.62" fill="#a5a52a" stroke="#111" stroke-width="1.4"/>
<rect x="1138.47" y="1629.30" width="33.69" height="31.62" fill="#ecec26" stroke="#111" stroke-width="1.4"/>
<rect x="1172.16" y="1629.30" width="33.69" height="31.62" fill="#ffff00" stroke="#111" stroke-width="1.4"/>
<rect x="1205.85" y="1629.30" width="33.69" height="31.62" fill="#ffff00" stroke="#111" stroke-width="1.4"/>
<rect x="1239.54" y="1629.30" width="33.69" height="31.62" fill="#3e3e40" stroke="#111" stroke-width="1.4"/>
<rect x="1273.23" y="1629.30" width="33.69" height="31.62" fill="#5b5b3a" stroke="#111" stroke-width="1.4"/>
<rect x="1306.92" y="1629.30" width="33.69" height="31.62" fill="#2a2a94" stroke="#111" stroke-width="1.4"/>
<rect x="1340.61" y="1629.30" width="33.69" height="31.62" fill="#2a2a94" stroke="#111" stroke-width="1.4"/>
<rect x="1374.30" y="1629.30" width="33.69" height="31.62" fill="#37375f" stroke="#111" stroke-width="1.4"/>
<rect x="1407.99" y="1629.30" width="33.69" height="31.62" fill="#d2d224" stroke="#111" stroke-width="1.4"/>
<rect x="1441.68" y="1629.30" width="33.69" height="31.62" fill="#7d7d32" stroke="#111" stroke-width="1.4"/>
<rect x="1475.37" y="1629.30" width="33.69" height="31.62" fill="#7d7d32" stroke="#111" stroke-width="1.4"/>
<rect x="1509.06" y="1629.30" width="33.69" height="31.62" fill="#37375f" stroke="#111" stroke-width="1.4"/>
<text x="1547.6" y="1657.3" font-size="36.5">NAMPT</text>
<rect x="540.50" y="1660.92" width="36.38" height="31.62" fill="#7d7d32" stroke="#111" stroke-width="1.4"/>
<rect x="576.88" y="1660.92" width="36.38" height="31.62" fill="#2a2a94" stroke="#111" stroke-width="1.4"/>
<rect x="613.26" y="1660.92" width="36.38" height="31.62" fill="#3e3e40" stroke="#111" stroke-width="1.4"/>
<rect x="649.64" y="1660.92" width="36.38" height="31.62" fill="#5b5b3a" stroke="#111" stroke-width="1.4"/>
<rect x="700.50" y="1660.92" width="33.69" height="31.62" fill="#0000ff" stroke="#111" stroke-width="1.4"/>
<rect x="734.19" y="1660.92" width="33.69" height="31.62" fill="#37375f" stroke="#111" stroke-width="1.4"/>
<rect x="767.88" y="1660.92" width="33.69" height="31.62" fill="#7d7d32" stroke="#111" stroke-width="1.4"/>
<rect x="801.57" y="1660.92" width="33.69" height="31.62" fill="#1d1dd2" stroke="#111" stroke-width="1.4"/>
<rect x="835.26" y="1660.92" width="33.69" height="31.62" fill="#37375f" stroke="#111" stroke-width="1.4"/>
<rect x="868.95" y="1660.92" width="33.69" height="31.62" fill="#a5a52a" stroke="#111" stroke-width="1.4"/>
<rect x="902.64" y="1660.92" width="33.69" height="31.62" fill="#1d1dd2" stroke="#111" stroke-width="1.4"/>
<rect x="936.33" y="1660.92" width="33.69" height="31.62" fill="#1d1dd2" stroke="#111" stroke-width="1.4"/>
<rect x="970.02" y="1660.92" width="33.69" height="31.62" fill="#7d7d32" stroke="#111" stroke-width="1.4"/>
<rect x="1003.71" y="1660.92" width="33.69" height="31.62" fill="#7d7d32" stroke="#111" stroke-width="1.4"/>
<rect x="1037.40" y="1660.92" width="33.69" height="31.62" fill="#a5a52a" stroke="#111" stroke-width="1.4"/>
<rect x="1071.09" y="1660.92" width="33.69" height="31.62" fill="#a5a52a" stroke="#111" stroke-width="1.4"/>
<rect x="1104.78" y="1660.92" width="33.69" height="31.62" fill="#a5a52a" stroke="#111" stroke-width="1.4"/>
<rect x="1138.47" y="1660.92" width="33.69" height="31.62" fill="#5b5b3a" stroke="#111" stroke-width="1.4"/>
<rect x="1172.16" y="1660.92" width="33.69" height="31.62" fill="#ffff00" stroke="#111" stroke-width="1.4"/>
<rect x="1205.85" y="1660.92" width="33.69" height="31.62" fill="#ffff00" stroke="#111" stroke-width="1.4"/>
<rect x="1239.54" y="1660.92" width="33.69" height="31.62" fill="#3e3e40" stroke="#111" stroke-width="1.4"/>
<rect x="1273.23" y="1660.92" width="33.69" height="31.62" fill="#d2d224" stroke="#111" stroke-width="1.4"/>
<rect x="1306.92" y="1660.92" width="33.69" height="31.62" fill="#37375f" stroke="#111" stroke-width="1.4"/>
<rect x="1340.61" y="1660.92" width="33.69" height="31.62" fill="#2a2a94" stroke="#111" stroke-width="1.4"/>
<rect x="1374.30" y="1660.92" width="33.69" height="31.62" fill="#7d7d32" stroke="#111" stroke-width="1.4"/>
<rect x="1407.99" y="1660.92" width="33.69" height="31.62" fill="#d2d224" stroke="#111" stroke-width="1.4"/>
<rect x="1441.68" y="1660.92" width="33.69" height="31.62" fill="#d2d224" stroke="#111" stroke-width="1.4"/>
<rect x="1475.37" y="1660.92" width="33.69" height="31.62" fill="#37375f" stroke="#111" stroke-width="1.4"/>
<rect x="1509.06" y="1660.92" width="33.69" height="31.62" fill="#1d1dd2" stroke="#111" stroke-width="1.4"/>
<text x="1547.6" y="1689.0" font-size="36.5">IRAK3</text>
<rect x="540.50" y="1692.54" width="36.38" height="31.62" fill="#1d1dd2" stroke="#111" stroke-width="1.4"/>
<rect x="576.88" y="1692.54" width="36.38" height="31.62" fill="#2a2a94" stroke="#111" stroke-width="1.4"/>
<rect x="613.26" y="1692.54" width="36.38" height="31.62" fill="#d2d224" stroke="#111" stroke-width="1.4"/>
<rect x="649.64" y="1692.54" width="36.38" height="31.62" fill="#a5a52a" stroke="#111" stroke-width="1.4"/>
<rect x="700.50" y="1692.54" width="33.69" height="31.62" fill="#0000ff" stroke="#111" stroke-width="1.4"/>
<rect x="734.19" y="1692.54" width="33.69" height="31.62" fill="#0000ff" stroke="#111" stroke-width="1.4"/>
<rect x="767.88" y="1692.54" width="33.69" height="31.62" fill="#a5a52a" stroke="#111" stroke-width="1.4"/>
<rect x="801.57" y="1692.54" width="33.69" height="31.62" fill="#37375f" stroke="#111" stroke-width="1.4"/>
<rect x="835.26" y="1692.54" width="33.69" height="31.62" fill="#3e3e40" stroke="#111" stroke-width="1.4"/>
<rect x="868.95" y="1692.54" width="33.69" height="31.62" fill="#d2d224" stroke="#111" stroke-width="1.4"/>
<rect x="902.64" y="1692.54" width="33.69" height="31.62" fill="#1d1dd2" stroke="#111" stroke-width="1.4"/>
<rect x="936.33" y="1692.54" width="33.69" height="31.62" fill="#7d7d32" stroke="#111" stroke-width="1.4"/>
<rect x="970.02" y="1692.54" width="33.69" height="31.62" fill="#37375f" stroke="#111" stroke-width="1.4"/>
<rect x="1003.71" y="1692.54" width="33.69" height="31.62" fill="#2a2a94" stroke="#111" stroke-width="1.4"/>
<rect x="1037.40" y="1692.54" width="33.69" height="31.62" fill="#a5a52a" stroke="#111" stroke-width="1.4"/>
<rect x="1071.09" y="1692.54" width="33.69" height="31.62" fill="#d2d224" stroke="#111" stroke-width="1.4"/>
<rect x="1104.78" y="1692.54" width="33.69" height="31.62" fill="#d2d224" stroke="#111" stroke-width="1.4"/>
<rect x="1138.47" y="1692.54" width="33.69" height="31.62" fill="#ffff00" stroke="#111" stroke-width="1.4"/>
<rect x="1172.16" y="1692.54" width="33.69" height="31.62" fill="#ecec26" stroke="#111" stroke-width="1.4"/>
<rect x="1205.85" y="1692.54" width="33.69" height="31.62" fill="#ffff00" stroke="#111" stroke-width="1.4"/>
<rect x="1239.54" y="1692.54" width="33.69" height="31.62" fill="#7d7d32" stroke="#111" stroke-width="1.4"/>
<rect x="1273.23" y="1692.54" width="33.69" height="31.62" fill="#3e3e40" stroke="#111" stroke-width="1.4"/>
<rect x="1306.92" y="1692.54" width="33.69" height="31.62" fill="#a5a52a" stroke="#111" stroke-width="1.4"/>
<rect x="1340.61" y="1692.54" width="33.69" height="31.62" fill="#1d1dd2" stroke="#111" stroke-width="1.4"/>
<rect x="1374.30" y="1692.54" width="33.69" height="31.62" fill="#37375f" stroke="#111" stroke-width="1.4"/>
<rect x="1407.99" y="1692.54" width="33.69" height="31.62" fill="#1d1dd2" stroke="#111" stroke-width="1.4"/>
<rect x="1441.68" y="1692.54" width="33.69" height="31.62" fill="#d2d224" stroke="#111" stroke-width="1.4"/>
<rect x="1475.37" y="1692.54" width="33.69" height="31.62" fill="#a5a52a" stroke="#111" stroke-width="1.4"/>
<rect x="1509.06" y="1692.54" width="33.69" height="31.62" fill="#ecec26" stroke="#111" stroke-width="1.4"/>
<text x="1547.6" y="1720.7" font-size="36.5">CLEC5A</text>
<rect x="540.50" y="1724.16" width="36.38" height="31.62" fill="#3e3e40" stroke="#111" stroke-width="1.4"/>
<rect x="576.88" y="1724.16" width="36.38" height="31.62" fill="#3e3e40" stroke="#111" stroke-width="1.4"/>
<rect x="613.26" y="1724.16" width="36.38" height="31.62" fill="#7d7d32" stroke="#111" stroke-width="1.4"/>
<rect x="649.64" y="1724.16" width="36.38" height="31.62" fill="#2a2a94" stroke="#111" stroke-width="1.4"/>
<rect x="700.50" y="1724.16" width="33.69" height="31.62" fill="#0000ff" stroke="#111" stroke-width="1.4"/>
<rect x="734.19" y="1724.16" width="33.69" height="31.62" fill="#0000ff" stroke="#111" stroke-width="1.4"/>
<rect x="767.88" y="1724.16" width="33.69" height="31.62" fill="#d2d224" stroke="#111" stroke-width="1.4"/>
<rect x="801.57" y="1724.16" width="33.69" height="31.62" fill="#5b5b3a" stroke="#111" stroke-width="1.4"/>
<rect x="835.26" y="1724.16" width="33.69" height="31.62" fill="#2a2a94" stroke="#111" stroke-width="1.4"/>
<rect x="868.95" y="1724.16" width="33.69" height="31.62" fill="#a5a52a" stroke="#111" stroke-width="1.4"/>
<rect x="902.64" y="1724.16" width="33.69" height="31.62" fill="#37375f" stroke="#111" stroke-width="1.4"/>
<rect x="936.33" y="1724.16" width="33.69" height="31.62" fill="#5b5b3a" stroke="#111" stroke-width="1.4"/>
<rect x="970.02" y="1724.16" width="33.69" height="31.62" fill="#d2d224" stroke="#111" stroke-width="1.4"/>
<rect x="1003.71" y="1724.16" width="33.69" height="31.62" fill="#7d7d32" stroke="#111" stroke-width="1.4"/>
<rect x="1037.40" y="1724.16" width="33.69" height="31.62" fill="#a5a52a" stroke="#111" stroke-width="1.4"/>
<rect x="1071.09" y="1724.16" width="33.69" height="31.62" fill="#5b5b3a" stroke="#111" stroke-width="1.4"/>
<rect x="1104.78" y="1724.16" width="33.69" height="31.62" fill="#a5a52a" stroke="#111" stroke-width="1.4"/>
<rect x="1138.47" y="1724.16" width="33.69" height="31.62" fill="#2a2a94" stroke="#111" stroke-width="1.4"/>
<rect x="1172.16" y="1724.16" width="33.69" height="31.62" fill="#7d7d32" stroke="#111" stroke-width="1.4"/>
<rect x="1205.85" y="1724.16" width="33.69" height="31.62" fill="#ffff00" stroke="#111" stroke-width="1.4"/>
<rect x="1239.54" y="1724.16" width="33.69" height="31.62" fill="#ffff00" stroke="#111" stroke-width="1.4"/>
<rect x="1273.23" y="1724.16" width="33.69" height="31.62" fill="#d2d224" stroke="#111" stroke-width="1.4"/>
<rect x="1306.92" y="1724.16" width="33.69" height="31.62" fill="#1d1dd2" stroke="#111" stroke-width="1.4"/>
<rect x="1340.61" y="1724.16" width="33.69" height="31.62" fill="#37375f" stroke="#111" stroke-width="1.4"/>
<rect x="1374.30" y="1724.16" width="33.69" height="31.62" fill="#a5a52a" stroke="#111" stroke-width="1.4"/>
<rect x="1407.99" y="1724.16" width="33.69" height="31.62" fill="#2a2a94" stroke="#111" stroke-width="1.4"/>
<rect x="1441.68" y="1724.16" width="33.69" height="31.62" fill="#7d7d32" stroke="#111" stroke-width="1.4"/>
<rect x="1475.37" y="1724.16" width="33.69" height="31.62" fill="#1d1dd2" stroke="#111" stroke-width="1.4"/>
<rect x="1509.06" y="1724.16" width="33.69" height="31.62" fill="#7d7d32" stroke="#111" stroke-width="1.4"/>
<text x="1547.6" y="1752.3" font-size="36.5">LPL</text>
<rect x="540.50" y="1755.78" width="36.38" height="28.62" fill="#7d7d32" stroke="#111" stroke-width="1.4"/>
<rect x="576.88" y="1755.78" width="36.38" height="28.62" fill="#2a2a94" stroke="#111" stroke-width="1.4"/>
<rect x="613.26" y="1755.78" width="36.38" height="28.62" fill="#37375f" stroke="#111" stroke-width="1.4"/>
<rect x="649.64" y="1755.78" width="36.38" height="28.62" fill="#37375f" stroke="#111" stroke-width="1.4"/>
<rect x="700.50" y="1755.78" width="33.69" height="28.62" fill="#1d1dd2" stroke="#111" stroke-width="1.4"/>
<rect x="734.19" y="1755.78" width="33.69" height="28.62" fill="#7d7d32" stroke="#111" stroke-width="1.4"/>
<rect x="767.88" y="1755.78" width="33.69" height="28.62" fill="#1d1dd2" stroke="#111" stroke-width="1.4"/>
<rect x="801.57" y="1755.78" width="33.69" height="28.62" fill="#0000ff" stroke="#111" stroke-width="1.4"/>
<rect x="835.26" y="1755.78" width="33.69" height="28.62" fill="#5b5b3a" stroke="#111" stroke-width="1.4"/>
<rect x="868.95" y="1755.78" width="33.69" height="28.62" fill="#ffff00" stroke="#111" stroke-width="1.4"/>
<rect x="902.64" y="1755.78" width="33.69" height="28.62" fill="#5b5b3a" stroke="#111" stroke-width="1.4"/>
<rect x="936.33" y="1755.78" width="33.69" height="28.62" fill="#ffff00" stroke="#111" stroke-width="1.4"/>
<rect x="970.02" y="1755.78" width="33.69" height="28.62" fill="#1d1dd2" stroke="#111" stroke-width="1.4"/>
<rect x="1003.71" y="1755.78" width="33.69" height="28.62" fill="#2a2a94" stroke="#111" stroke-width="1.4"/>
<rect x="1037.40" y="1755.78" width="33.69" height="28.62" fill="#a5a52a" stroke="#111" stroke-width="1.4"/>
<rect x="1071.09" y="1755.78" width="33.69" height="28.62" fill="#37375f" stroke="#111" stroke-width="1.4"/>
<rect x="1104.78" y="1755.78" width="33.69" height="28.62" fill="#2a2a94" stroke="#111" stroke-width="1.4"/>
<rect x="1138.47" y="1755.78" width="33.69" height="28.62" fill="#37375f" stroke="#111" stroke-width="1.4"/>
<rect x="1172.16" y="1755.78" width="33.69" height="28.62" fill="#d2d224" stroke="#111" stroke-width="1.4"/>
<rect x="1205.85" y="1755.78" width="33.69" height="28.62" fill="#2a2a94" stroke="#111" stroke-width="1.4"/>
<rect x="1239.54" y="1755.78" width="33.69" height="28.62" fill="#37375f" stroke="#111" stroke-width="1.4"/>
<rect x="1273.23" y="1755.78" width="33.69" height="28.62" fill="#d2d224" stroke="#111" stroke-width="1.4"/>
<rect x="1306.92" y="1755.78" width="33.69" height="28.62" fill="#ffff00" stroke="#111" stroke-width="1.4"/>
<rect x="1340.61" y="1755.78" width="33.69" height="28.62" fill="#7d7d32" stroke="#111" stroke-width="1.4"/>
<rect x="1374.30" y="1755.78" width="33.69" height="28.62" fill="#a5a52a" stroke="#111" stroke-width="1.4"/>
<rect x="1407.99" y="1755.78" width="33.69" height="28.62" fill="#a5a52a" stroke="#111" stroke-width="1.4"/>
<rect x="1441.68" y="1755.78" width="33.69" height="28.62" fill="#5b5b3a" stroke="#111" stroke-width="1.4"/>
<rect x="1475.37" y="1755.78" width="33.69" height="28.62" fill="#3e3e40" stroke="#111" stroke-width="1.4"/>
<rect x="1509.06" y="1755.78" width="33.69" height="28.62" fill="#7d7d32" stroke="#111" stroke-width="1.4"/>
<text x="1547.6" y="1784.0" font-size="36.5">IL6ST</text>
<rect x="540.50" y="1790.40" width="36.38" height="29.40" fill="#3e3e40" stroke="#111" stroke-width="1.4"/>
<rect x="576.88" y="1790.40" width="36.38" height="29.40" fill="#7d7d32" stroke="#111" stroke-width="1.4"/>
<rect x="613.26" y="1790.40" width="36.38" height="29.40" fill="#5b5b3a" stroke="#111" stroke-width="1.4"/>
<rect x="649.64" y="1790.40" width="36.38" height="29.40" fill="#2a2a94" stroke="#111" stroke-width="1.4"/>
<rect x="700.50" y="1790.40" width="33.69" height="29.40" fill="#a5a52a" stroke="#111" stroke-width="1.4"/>
<rect x="734.19" y="1790.40" width="33.69" height="29.40" fill="#7d7d32" stroke="#111" stroke-width="1.4"/>
<rect x="767.88" y="1790.40" width="33.69" height="29.40" fill="#7d7d32" stroke="#111" stroke-width="1.4"/>
<rect x="801.57" y="1790.40" width="33.69" height="29.40" fill="#0000ff" stroke="#111" stroke-width="1.4"/>
<rect x="835.26" y="1790.40" width="33.69" height="29.40" fill="#a5a52a" stroke="#111" stroke-width="1.4"/>
<rect x="868.95" y="1790.40" width="33.69" height="29.40" fill="#d2d224" stroke="#111" stroke-width="1.4"/>
<rect x="902.64" y="1790.40" width="33.69" height="29.40" fill="#3e3e40" stroke="#111" stroke-width="1.4"/>
<rect x="936.33" y="1790.40" width="33.69" height="29.40" fill="#3e3e40" stroke="#111" stroke-width="1.4"/>
<rect x="970.02" y="1790.40" width="33.69" height="29.40" fill="#7d7d32" stroke="#111" stroke-width="1.4"/>
<rect x="1003.71" y="1790.40" width="33.69" height="29.40" fill="#2a2a94" stroke="#111" stroke-width="1.4"/>
<rect x="1037.40" y="1790.40" width="33.69" height="29.40" fill="#5b5b3a" stroke="#111" stroke-width="1.4"/>
<rect x="1071.09" y="1790.40" width="33.69" height="29.40" fill="#37375f" stroke="#111" stroke-width="1.4"/>
<rect x="1104.78" y="1790.40" width="33.69" height="29.40" fill="#2a2a94" stroke="#111" stroke-width="1.4"/>
<rect x="1138.47" y="1790.40" width="33.69" height="29.40" fill="#1d1dd2" stroke="#111" stroke-width="1.4"/>
<rect x="1172.16" y="1790.40" width="33.69" height="29.40" fill="#2a2a94" stroke="#111" stroke-width="1.4"/>
<rect x="1205.85" y="1790.40" width="33.69" height="29.40" fill="#1d1dd2" stroke="#111" stroke-width="1.4"/>
<rect x="1239.54" y="1790.40" width="33.69" height="29.40" fill="#5b5b3a" stroke="#111" stroke-width="1.4"/>
<rect x="1273.23" y="1790.40" width="33.69" height="29.40" fill="#3e3e40" stroke="#111" stroke-width="1.4"/>
<rect x="1306.92" y="1790.40" width="33.69" height="29.40" fill="#1d1dd2" stroke="#111" stroke-width="1.4"/>
<rect x="1340.61" y="1790.40" width="33.69" height="29.40" fill="#1d1dd2" stroke="#111" stroke-width="1.4"/>
<rect x="1374.30" y="1790.40" width="33.69" height="29.40" fill="#1d1dd2" stroke="#111" stroke-width="1.4"/>
<rect x="1407.99" y="1790.40" width="33.69" height="29.40" fill="#0000ff" stroke="#111" stroke-width="1.4"/>
<rect x="1441.68" y="1790.40" width="33.69" height="29.40" fill="#1d1dd2" stroke="#111" stroke-width="1.4"/>
<rect x="1475.37" y="1790.40" width="33.69" height="29.40" fill="#1d1dd2" stroke="#111" stroke-width="1.4"/>
<rect x="1509.06" y="1790.40" width="33.69" height="29.40" fill="#2a2a94" stroke="#111" stroke-width="1.4"/>
<text x="1547.6" y="1815.2" font-size="36.5">GABPB1-AS1</text>
<rect x="540.50" y="1819.80" width="36.38" height="31.60" fill="#5b5b3a" stroke="#111" stroke-width="1.4"/>
<rect x="576.88" y="1819.80" width="36.38" height="31.60" fill="#5b5b3a" stroke="#111" stroke-width="1.4"/>
<rect x="613.26" y="1819.80" width="36.38" height="31.60" fill="#5b5b3a" stroke="#111" stroke-width="1.4"/>
<rect x="649.64" y="1819.80" width="36.38" height="31.60" fill="#2a2a94" stroke="#111" stroke-width="1.4"/>
<rect x="700.50" y="1819.80" width="33.69" height="31.60" fill="#37375f" stroke="#111" stroke-width="1.4"/>
<rect x="734.19" y="1819.80" width="33.69" height="31.60" fill="#5b5b3a" stroke="#111" stroke-width="1.4"/>
<rect x="767.88" y="1819.80" width="33.69" height="31.60" fill="#ecec26" stroke="#111" stroke-width="1.4"/>
<rect x="801.57" y="1819.80" width="33.69" height="31.60" fill="#7d7d32" stroke="#111" stroke-width="1.4"/>
<rect x="835.26" y="1819.80" width="33.69" height="31.60" fill="#d2d224" stroke="#111" stroke-width="1.4"/>
<rect x="868.95" y="1819.80" width="33.69" height="31.60" fill="#d2d224" stroke="#111" stroke-width="1.4"/>
<rect x="902.64" y="1819.80" width="33.69" height="31.60" fill="#37375f" stroke="#111" stroke-width="1.4"/>
<rect x="936.33" y="1819.80" width="33.69" height="31.60" fill="#2a2a94" stroke="#111" stroke-width="1.4"/>
<rect x="970.02" y="1819.80" width="33.69" height="31.60" fill="#37375f" stroke="#111" stroke-width="1.4"/>
<rect x="1003.71" y="1819.80" width="33.69" height="31.60" fill="#37375f" stroke="#111" stroke-width="1.4"/>
<rect x="1037.40" y="1819.80" width="33.69" height="31.60" fill="#1d1dd2" stroke="#111" stroke-width="1.4"/>
<rect x="1071.09" y="1819.80" width="33.69" height="31.60" fill="#7d7d32" stroke="#111" stroke-width="1.4"/>
<rect x="1104.78" y="1819.80" width="33.69" height="31.60" fill="#2a2a94" stroke="#111" stroke-width="1.4"/>
<rect x="1138.47" y="1819.80" width="33.69" height="31.60" fill="#3e3e40" stroke="#111" stroke-width="1.4"/>
<rect x="1172.16" y="1819.80" width="33.69" height="31.60" fill="#0000ff" stroke="#111" stroke-width="1.4"/>
<rect x="1205.85" y="1819.80" width="33.69" height="31.60" fill="#2a2a94" stroke="#111" stroke-width="1.4"/>
<rect x="1239.54" y="1819.80" width="33.69" height="31.60" fill="#2a2a94" stroke="#111" stroke-width="1.4"/>
<rect x="1273.23" y="1819.80" width="33.69" height="31.60" fill="#37375f" stroke="#111" stroke-width="1.4"/>
<rect x="1306.92" y="1819.80" width="33.69" height="31.60" fill="#1d1dd2" stroke="#111" stroke-width="1.4"/>
<rect x="1340.61" y="1819.80" width="33.69" height="31.60" fill="#37375f" stroke="#111" stroke-width="1.4"/>
<rect x="1374.30" y="1819.80" width="33.69" height="31.60" fill="#3e3e40" stroke="#111" stroke-width="1.4"/>
<rect x="1407.99" y="1819.80" width="33.69" height="31.60" fill="#0000ff" stroke="#111" stroke-width="1.4"/>
<rect x="1441.68" y="1819.80" width="33.69" height="31.60" fill="#1d1dd2" stroke="#111" stroke-width="1.4"/>
<rect x="1475.37" y="1819.80" width="33.69" height="31.60" fill="#3e3e40" stroke="#111" stroke-width="1.4"/>
<rect x="1509.06" y="1819.80" width="33.69" height="31.60" fill="#0000ff" stroke="#111" stroke-width="1.4"/>
<text x="1547.6" y="1847.0" font-size="36.5">PTPN4</text>
<rect x="540.50" y="1851.40" width="36.38" height="31.60" fill="#3e3e40" stroke="#111" stroke-width="1.4"/>
<rect x="576.88" y="1851.40" width="36.38" height="31.60" fill="#5b5b3a" stroke="#111" stroke-width="1.4"/>
<rect x="613.26" y="1851.40" width="36.38" height="31.60" fill="#5b5b3a" stroke="#111" stroke-width="1.4"/>
<rect x="649.64" y="1851.40" width="36.38" height="31.60" fill="#2a2a94" stroke="#111" stroke-width="1.4"/>
<rect x="700.50" y="1851.40" width="33.69" height="31.60" fill="#2a2a94" stroke="#111" stroke-width="1.4"/>
<rect x="734.19" y="1851.40" width="33.69" height="31.60" fill="#7d7d32" stroke="#111" stroke-width="1.4"/>
<rect x="767.88" y="1851.40" width="33.69" height="31.60" fill="#d2d224" stroke="#111" stroke-width="1.4"/>
<rect x="801.57" y="1851.40" width="33.69" height="31.60" fill="#37375f" stroke="#111" stroke-width="1.4"/>
<rect x="835.26" y="1851.40" width="33.69" height="31.60" fill="#3e3e40" stroke="#111" stroke-width="1.4"/>
<rect x="868.95" y="1851.40" width="33.69" height="31.60" fill="#5b5b3a" stroke="#111" stroke-width="1.4"/>
<rect x="902.64" y="1851.40" width="33.69" height="31.60" fill="#7d7d32" stroke="#111" stroke-width="1.4"/>
<rect x="936.33" y="1851.40" width="33.69" height="31.60" fill="#1d1dd2" stroke="#111" stroke-width="1.4"/>
<rect x="970.02" y="1851.40" width="33.69" height="31.60" fill="#2a2a94" stroke="#111" stroke-width="1.4"/>
<rect x="1003.71" y="1851.40" width="33.69" height="31.60" fill="#2a2a94" stroke="#111" stroke-width="1.4"/>
<rect x="1037.40" y="1851.40" width="33.69" height="31.60" fill="#37375f" stroke="#111" stroke-width="1.4"/>
<rect x="1071.09" y="1851.40" width="33.69" height="31.60" fill="#5b5b3a" stroke="#111" stroke-width="1.4"/>
<rect x="1104.78" y="1851.40" width="33.69" height="31.60" fill="#7d7d32" stroke="#111" stroke-width="1.4"/>
<rect x="1138.47" y="1851.40" width="33.69" height="31.60" fill="#3e3e40" stroke="#111" stroke-width="1.4"/>
<rect x="1172.16" y="1851.40" width="33.69" height="31.60" fill="#0000ff" stroke="#111" stroke-width="1.4"/>
<rect x="1205.85" y="1851.40" width="33.69" height="31.60" fill="#2a2a94" stroke="#111" stroke-width="1.4"/>
<rect x="1239.54" y="1851.40" width="33.69" height="31.60" fill="#37375f" stroke="#111" stroke-width="1.4"/>
<rect x="1273.23" y="1851.40" width="33.69" height="31.60" fill="#1d1dd2" stroke="#111" stroke-width="1.4"/>
<rect x="1306.92" y="1851.40" width="33.69" height="31.60" fill="#1d1dd2" stroke="#111" stroke-width="1.4"/>
<rect x="1340.61" y="1851.40" width="33.69" height="31.60" fill="#2a2a94" stroke="#111" stroke-width="1.4"/>
<rect x="1374.30" y="1851.40" width="33.69" height="31.60" fill="#1d1dd2" stroke="#111" stroke-width="1.4"/>
<rect x="1407.99" y="1851.40" width="33.69" height="31.60" fill="#37375f" stroke="#111" stroke-width="1.4"/>
<rect x="1441.68" y="1851.40" width="33.69" height="31.60" fill="#0000ff" stroke="#111" stroke-width="1.4"/>
<rect x="1475.37" y="1851.40" width="33.69" height="31.60" fill="#2a2a94" stroke="#111" stroke-width="1.4"/>
<rect x="1509.06" y="1851.40" width="33.69" height="31.60" fill="#37375f" stroke="#111" stroke-width="1.4"/>
<text x="1547.6" y="1878.8" font-size="36.5">SMURF1</text>
<rect x="540.50" y="1883.00" width="36.38" height="31.60" fill="#37375f" stroke="#111" stroke-width="1.4"/>
<rect x="576.88" y="1883.00" width="36.38" height="31.60" fill="#7d7d32" stroke="#111" stroke-width="1.4"/>
<rect x="613.26" y="1883.00" width="36.38" height="31.60" fill="#3e3e40" stroke="#111" stroke-width="1.4"/>
<rect x="649.64" y="1883.00" width="36.38" height="31.60" fill="#2a2a94" stroke="#111" stroke-width="1.4"/>
<rect x="700.50" y="1883.00" width="33.69" height="31.60" fill="#2a2a94" stroke="#111" stroke-width="1.4"/>
<rect x="734.19" y="1883.00" width="33.69" height="31.60" fill="#3e3e40" stroke="#111" stroke-width="1.4"/>
<rect x="767.88" y="1883.00" width="33.69" height="31.60" fill="#ffff00" stroke="#111" stroke-width="1.4"/>
<rect x="801.57" y="1883.00" width="33.69" height="31.60" fill="#2a2a94" stroke="#111" stroke-width="1.4"/>
<rect x="835.26" y="1883.00" width="33.69" height="31.60" fill="#a5a52a" stroke="#111" stroke-width="1.4"/>
<rect x="868.95" y="1883.00" width="33.69" height="31.60" fill="#5b5b3a" stroke="#111" stroke-width="1.4"/>
<rect x="902.64" y="1883.00" width="33.69" height="31.60" fill="#3e3e40" stroke="#111" stroke-width="1.4"/>
<rect x="936.33" y="1883.00" width="33.69" height="31.60" fill="#7d7d32" stroke="#111" stroke-width="1.4"/>
<rect x="970.02" y="1883.00" width="33.69" height="31.60" fill="#7d7d32" stroke="#111" stroke-width="1.4"/>
<rect x="1003.71" y="1883.00" width="33.69" height="31.60" fill="#2a2a94" stroke="#111" stroke-width="1.4"/>
<rect x="1037.40" y="1883.00" width="33.69" height="31.60" fill="#37375f" stroke="#111" stroke-width="1.4"/>
<rect x="1071.09" y="1883.00" width="33.69" height="31.60" fill="#2a2a94" stroke="#111" stroke-width="1.4"/>
<rect x="1104.78" y="1883.00" width="33.69" height="31.60" fill="#5b5b3a" stroke="#111" stroke-width="1.4"/>
<rect x="1138.47" y="1883.00" width="33.69" height="31.60" fill="#1d1dd2" stroke="#111" stroke-width="1.4"/>
<rect x="1172.16" y="1883.00" width="33.69" height="31.60" fill="#a5a52a" stroke="#111" stroke-width="1.4"/>
<rect x="1205.85" y="1883.00" width="33.69" height="31.60" fill="#2a2a94" stroke="#111" stroke-width="1.4"/>
<rect x="1239.54" y="1883.00" width="33.69" height="31.60" fill="#2a2a94" stroke="#111" stroke-width="1.4"/>
<rect x="1273.23" y="1883.00" width="33.69" height="31.60" fill="#37375f" stroke="#111" stroke-width="1.4"/>
<rect x="1306.92" y="1883.00" width="33.69" height="31.60" fill="#1d1dd2" stroke="#111" stroke-width="1.4"/>
<rect x="1340.61" y="1883.00" width="33.69" height="31.60" fill="#1d1dd2" stroke="#111" stroke-width="1.4"/>
<rect x="1374.30" y="1883.00" width="33.69" height="31.60" fill="#0000ff" stroke="#111" stroke-width="1.4"/>
<rect x="1407.99" y="1883.00" width="33.69" height="31.60" fill="#2a2a94" stroke="#111" stroke-width="1.4"/>
<rect x="1441.68" y="1883.00" width="33.69" height="31.60" fill="#37375f" stroke="#111" stroke-width="1.4"/>
<rect x="1475.37" y="1883.00" width="33.69" height="31.60" fill="#2a2a94" stroke="#111" stroke-width="1.4"/>
<rect x="1509.06" y="1883.00" width="33.69" height="31.60" fill="#5b5b3a" stroke="#111" stroke-width="1.4"/>
<text x="1547.6" y="1910.5" font-size="36.5">PIAS1</text>
<rect x="540.50" y="1914.60" width="36.38" height="31.60" fill="#3e3e40" stroke="#111" stroke-width="1.4"/>
<rect x="576.88" y="1914.60" width="36.38" height="31.60" fill="#7d7d32" stroke="#111" stroke-width="1.4"/>
<rect x="613.26" y="1914.60" width="36.38" height="31.60" fill="#5b5b3a" stroke="#111" stroke-width="1.4"/>
<rect x="649.64" y="1914.60" width="36.38" height="31.60" fill="#1d1dd2" stroke="#111" stroke-width="1.4"/>
<rect x="700.50" y="1914.60" width="33.69" height="31.60" fill="#7d7d32" stroke="#111" stroke-width="1.4"/>
<rect x="734.19" y="1914.60" width="33.69" height="31.60" fill="#a5a52a" stroke="#111" stroke-width="1.4"/>
<rect x="767.88" y="1914.60" width="33.69" height="31.60" fill="#d2d224" stroke="#111" stroke-width="1.4"/>
<rect x="801.57" y="1914.60" width="33.69" height="31.60" fill="#2a2a94" stroke="#111" stroke-width="1.4"/>
<rect x="835.26" y="1914.60" width="33.69" height="31.60" fill="#2a2a94" stroke="#111" stroke-width="1.4"/>
<rect x="868.95" y="1914.60" width="33.69" height="31.60" fill="#2a2a94" stroke="#111" stroke-width="1.4"/>
<rect x="902.64" y="1914.60" width="33.69" height="31.60" fill="#5b5b3a" stroke="#111" stroke-width="1.4"/>
<rect x="936.33" y="1914.60" width="33.69" height="31.60" fill="#3e3e40" stroke="#111" stroke-width="1.4"/>
<rect x="970.02" y="1914.60" width="33.69" height="31.60" fill="#5b5b3a" stroke="#111" stroke-width="1.4"/>
<rect x="1003.71" y="1914.60" width="33.69" height="31.60" fill="#3e3e40" stroke="#111" stroke-width="1.4"/>
<rect x="1037.40" y="1914.60" width="33.69" height="31.60" fill="#37375f" stroke="#111" stroke-width="1.4"/>
<rect x="1071.09" y="1914.60" width="33.69" height="31.60" fill="#5b5b3a" stroke="#111" stroke-width="1.4"/>
<rect x="1104.78" y="1914.60" width="33.69" height="31.60" fill="#1d1dd2" stroke="#111" stroke-width="1.4"/>
<rect x="1138.47" y="1914.60" width="33.69" height="31.60" fill="#37375f" stroke="#111" stroke-width="1.4"/>
<rect x="1172.16" y="1914.60" width="33.69" height="31.60" fill="#3e3e40" stroke="#111" stroke-width="1.4"/>
<rect x="1205.85" y="1914.60" width="33.69" height="31.60" fill="#2a2a94" stroke="#111" stroke-width="1.4"/>
<rect x="1239.54" y="1914.60" width="33.69" height="31.60" fill="#2a2a94" stroke="#111" stroke-width="1.4"/>
<rect x="1273.23" y="1914.60" width="33.69" height="31.60" fill="#37375f" stroke="#111" stroke-width="1.4"/>
<rect x="1306.92" y="1914.60" width="33.69" height="31.60" fill="#2a2a94" stroke="#111" stroke-width="1.4"/>
<rect x="1340.61" y="1914.60" width="33.69" height="31.60" fill="#37375f" stroke="#111" stroke-width="1.4"/>
<rect x="1374.30" y="1914.60" width="33.69" height="31.60" fill="#0000ff" stroke="#111" stroke-width="1.4"/>
<rect x="1407.99" y="1914.60" width="33.69" height="31.60" fill="#7d7d32" stroke="#111" stroke-width="1.4"/>
<rect x="1441.68" y="1914.60" width="33.69" height="31.60" fill="#2a2a94" stroke="#111" stroke-width="1.4"/>
<rect x="1475.37" y="1914.60" width="33.69" height="31.60" fill="#1d1dd2" stroke="#111" stroke-width="1.4"/>
<rect x="1509.06" y="1914.60" width="33.69" height="31.60" fill="#37375f" stroke="#111" stroke-width="1.4"/>
<text x="1547.6" y="1942.3" font-size="36.5">SUZ12</text>
<rect x="540.50" y="1946.20" width="36.38" height="31.60" fill="#3e3e40" stroke="#111" stroke-width="1.4"/>
<rect x="576.88" y="1946.20" width="36.38" height="31.60" fill="#a5a52a" stroke="#111" stroke-width="1.4"/>
<rect x="613.26" y="1946.20" width="36.38" height="31.60" fill="#5b5b3a" stroke="#111" stroke-width="1.4"/>
<rect x="649.64" y="1946.20" width="36.38" height="31.60" fill="#1d1dd2" stroke="#111" stroke-width="1.4"/>
<rect x="700.50" y="1946.20" width="33.69" height="31.60" fill="#1d1dd2" stroke="#111" stroke-width="1.4"/>
<rect x="734.19" y="1946.20" width="33.69" height="31.60" fill="#37375f" stroke="#111" stroke-width="1.4"/>
<rect x="767.88" y="1946.20" width="33.69" height="31.60" fill="#d2d224" stroke="#111" stroke-width="1.4"/>
<rect x="801.57" y="1946.20" width="33.69" height="31.60" fill="#0000ff" stroke="#111" stroke-width="1.4"/>
<rect x="835.26" y="1946.20" width="33.69" height="31.60" fill="#ecec26" stroke="#111" stroke-width="1.4"/>
<rect x="868.95" y="1946.20" width="33.69" height="31.60" fill="#2a2a94" stroke="#111" stroke-width="1.4"/>
<rect x="902.64" y="1946.20" width="33.69" height="31.60" fill="#a5a52a" stroke="#111" stroke-width="1.4"/>
<rect x="936.33" y="1946.20" width="33.69" height="31.60" fill="#3e3e40" stroke="#111" stroke-width="1.4"/>
<rect x="970.02" y="1946.20" width="33.69" height="31.60" fill="#5b5b3a" stroke="#111" stroke-width="1.4"/>
<rect x="1003.71" y="1946.20" width="33.69" height="31.60" fill="#2a2a94" stroke="#111" stroke-width="1.4"/>
<rect x="1037.40" y="1946.20" width="33.69" height="31.60" fill="#2a2a94" stroke="#111" stroke-width="1.4"/>
<rect x="1071.09" y="1946.20" width="33.69" height="31.60" fill="#1d1dd2" stroke="#111" stroke-width="1.4"/>
<rect x="1104.78" y="1946.20" width="33.69" height="31.60" fill="#37375f" stroke="#111" stroke-width="1.4"/>
<rect x="1138.47" y="1946.20" width="33.69" height="31.60" fill="#37375f" stroke="#111" stroke-width="1.4"/>
<rect x="1172.16" y="1946.20" width="33.69" height="31.60" fill="#2a2a94" stroke="#111" stroke-width="1.4"/>
<rect x="1205.85" y="1946.20" width="33.69" height="31.60" fill="#1d1dd2" stroke="#111" stroke-width="1.4"/>
<rect x="1239.54" y="1946.20" width="33.69" height="31.60" fill="#37375f" stroke="#111" stroke-width="1.4"/>
<rect x="1273.23" y="1946.20" width="33.69" height="31.60" fill="#37375f" stroke="#111" stroke-width="1.4"/>
<rect x="1306.92" y="1946.20" width="33.69" height="31.60" fill="#1d1dd2" stroke="#111" stroke-width="1.4"/>
<rect x="1340.61" y="1946.20" width="33.69" height="31.60" fill="#2a2a94" stroke="#111" stroke-width="1.4"/>
<rect x="1374.30" y="1946.20" width="33.69" height="31.60" fill="#0000ff" stroke="#111" stroke-width="1.4"/>
<rect x="1407.99" y="1946.20" width="33.69" height="31.60" fill="#0000ff" stroke="#111" stroke-width="1.4"/>
<rect x="1441.68" y="1946.20" width="33.69" height="31.60" fill="#5b5b3a" stroke="#111" stroke-width="1.4"/>
<rect x="1475.37" y="1946.20" width="33.69" height="31.60" fill="#0000ff" stroke="#111" stroke-width="1.4"/>
<rect x="1509.06" y="1946.20" width="33.69" height="31.60" fill="#0000ff" stroke="#111" stroke-width="1.4"/>
<text x="1547.6" y="1974.1" font-size="36.5">SIAH1</text>
<rect x="540.50" y="1977.80" width="36.38" height="31.60" fill="#3e3e40" stroke="#111" stroke-width="1.4"/>
<rect x="576.88" y="1977.80" width="36.38" height="31.60" fill="#7d7d32" stroke="#111" stroke-width="1.4"/>
<rect x="613.26" y="1977.80" width="36.38" height="31.60" fill="#2a2a94" stroke="#111" stroke-width="1.4"/>
<rect x="649.64" y="1977.80" width="36.38" height="31.60" fill="#5b5b3a" stroke="#111" stroke-width="1.4"/>
<rect x="700.50" y="1977.80" width="33.69" height="31.60" fill="#a5a52a" stroke="#111" stroke-width="1.4"/>
<rect x="734.19" y="1977.80" width="33.69" height="31.60" fill="#ecec26" stroke="#111" stroke-width="1.4"/>
<rect x="767.88" y="1977.80" width="33.69" height="31.60" fill="#5b5b3a" stroke="#111" stroke-width="1.4"/>
<rect x="801.57" y="1977.80" width="33.69" height="31.60" fill="#37375f" stroke="#111" stroke-width="1.4"/>
<rect x="835.26" y="1977.80" width="33.69" height="31.60" fill="#3e3e40" stroke="#111" stroke-width="1.4"/>
<rect x="868.95" y="1977.80" width="33.69" height="31.60" fill="#ffff00" stroke="#111" stroke-width="1.4"/>
<rect x="902.64" y="1977.80" width="33.69" height="31.60" fill="#5b5b3a" stroke="#111" stroke-width="1.4"/>
<rect x="936.33" y="1977.80" width="33.69" height="31.60" fill="#2a2a94" stroke="#111" stroke-width="1.4"/>
<rect x="970.02" y="1977.80" width="33.69" height="31.60" fill="#2a2a94" stroke="#111" stroke-width="1.4"/>
<rect x="1003.71" y="1977.80" width="33.69" height="31.60" fill="#7d7d32" stroke="#111" stroke-width="1.4"/>
<rect x="1037.40" y="1977.80" width="33.69" height="31.60" fill="#37375f" stroke="#111" stroke-width="1.4"/>
<rect x="1071.09" y="1977.80" width="33.69" height="31.60" fill="#1d1dd2" stroke="#111" stroke-width="1.4"/>
<rect x="1104.78" y="1977.80" width="33.69" height="31.60" fill="#2a2a94" stroke="#111" stroke-width="1.4"/>
<rect x="1138.47" y="1977.80" width="33.69" height="31.60" fill="#2a2a94" stroke="#111" stroke-width="1.4"/>
<rect x="1172.16" y="1977.80" width="33.69" height="31.60" fill="#5b5b3a" stroke="#111" stroke-width="1.4"/>
<rect x="1205.85" y="1977.80" width="33.69" height="31.60" fill="#1d1dd2" stroke="#111" stroke-width="1.4"/>
<rect x="1239.54" y="1977.80" width="33.69" height="31.60" fill="#a5a52a" stroke="#111" stroke-width="1.4"/>
<rect x="1273.23" y="1977.80" width="33.69" height="31.60" fill="#5b5b3a" stroke="#111" stroke-width="1.4"/>
<rect x="1306.92" y="1977.80" width="33.69" height="31.60" fill="#5b5b3a" stroke="#111" stroke-width="1.4"/>
<rect x="1340.61" y="1977.80" width="33.69" height="31.60" fill="#5b5b3a" stroke="#111" stroke-width="1.4"/>
<rect x="1374.30" y="1977.80" width="33.69" height="31.60" fill="#1d1dd2" stroke="#111" stroke-width="1.4"/>
<rect x="1407.99" y="1977.80" width="33.69" height="31.60" fill="#2a2a94" stroke="#111" stroke-width="1.4"/>
<rect x="1441.68" y="1977.80" width="33.69" height="31.60" fill="#37375f" stroke="#111" stroke-width="1.4"/>
<rect x="1475.37" y="1977.80" width="33.69" height="31.60" fill="#0000ff" stroke="#111" stroke-width="1.4"/>
<rect x="1509.06" y="1977.80" width="33.69" height="31.60" fill="#0000ff" stroke="#111" stroke-width="1.4"/>
<text x="1547.6" y="2005.9" font-size="36.5">ARHGDIB</text>
<rect x="540.50" y="2009.40" width="36.38" height="31.60" fill="#37375f" stroke="#111" stroke-width="1.4"/>
<rect x="576.88" y="2009.40" width="36.38" height="31.60" fill="#7d7d32" stroke="#111" stroke-width="1.4"/>
<rect x="613.26" y="2009.40" width="36.38" height="31.60" fill="#3e3e40" stroke="#111" stroke-width="1.4"/>
<rect x="649.64" y="2009.40" width="36.38" height="31.60" fill="#37375f" stroke="#111" stroke-width="1.4"/>
<rect x="700.50" y="2009.40" width="33.69" height="31.60" fill="#37375f" stroke="#111" stroke-width="1.4"/>
<rect x="734.19" y="2009.40" width="33.69" height="31.60" fill="#7d7d32" stroke="#111" stroke-width="1.4"/>
<rect x="767.88" y="2009.40" width="33.69" height="31.60" fill="#ecec26" stroke="#111" stroke-width="1.4"/>
<rect x="801.57" y="2009.40" width="33.69" height="31.60" fill="#3e3e40" stroke="#111" stroke-width="1.4"/>
<rect x="835.26" y="2009.40" width="33.69" height="31.60" fill="#37375f" stroke="#111" stroke-width="1.4"/>
<rect x="868.95" y="2009.40" width="33.69" height="31.60" fill="#0000ff" stroke="#111" stroke-width="1.4"/>
<rect x="902.64" y="2009.40" width="33.69" height="31.60" fill="#37375f" stroke="#111" stroke-width="1.4"/>
<rect x="936.33" y="2009.40" width="33.69" height="31.60" fill="#2a2a94" stroke="#111" stroke-width="1.4"/>
<rect x="970.02" y="2009.40" width="33.69" height="31.60" fill="#ecec26" stroke="#111" stroke-width="1.4"/>
<rect x="1003.71" y="2009.40" width="33.69" height="31.60" fill="#3e3e40" stroke="#111" stroke-width="1.4"/>
<rect x="1037.40" y="2009.40" width="33.69" height="31.60" fill="#2a2a94" stroke="#111" stroke-width="1.4"/>
<rect x="1071.09" y="2009.40" width="33.69" height="31.60" fill="#1d1dd2" stroke="#111" stroke-width="1.4"/>
<rect x="1104.78" y="2009.40" width="33.69" height="31.60" fill="#3e3e40" stroke="#111" stroke-width="1.4"/>
<rect x="1138.47" y="2009.40" width="33.69" height="31.60" fill="#3e3e40" stroke="#111" stroke-width="1.4"/>
<rect x="1172.16" y="2009.40" width="33.69" height="31.60" fill="#2a2a94" stroke="#111" stroke-width="1.4"/>
<rect x="1205.85" y="2009.40" width="33.69" height="31.60" fill="#37375f" stroke="#111" stroke-width="1.4"/>
<rect x="1239.54" y="2009.40" width="33.69" height="31.60" fill="#a5a52a" stroke="#111" stroke-width="1.4"/>
<rect x="1273.23" y="2009.40" width="33.69" height="31.60" fill="#0000ff" stroke="#111" stroke-width="1.4"/>
<rect x="1306.92" y="2009.40" width="33.69" height="31.60" fill="#1d1dd2" stroke="#111" stroke-width="1.4"/>
<rect x="1340.61" y="2009.40" width="33.69" height="31.60" fill="#1d1dd2" stroke="#111" stroke-width="1.4"/>
<rect x="1374.30" y="2009.40" width="33.69" height="31.60" fill="#37375f" stroke="#111" stroke-width="1.4"/>
<rect x="1407.99" y="2009.40" width="33.69" height="31.60" fill="#a5a52a" stroke="#111" stroke-width="1.4"/>
<rect x="1441.68" y="2009.40" width="33.69" height="31.60" fill="#5b5b3a" stroke="#111" stroke-width="1.4"/>
<rect x="1475.37" y="2009.40" width="33.69" height="31.60" fill="#37375f" stroke="#111" stroke-width="1.4"/>
<rect x="1509.06" y="2009.40" width="33.69" height="31.60" fill="#a5a52a" stroke="#111" stroke-width="1.4"/>
<text x="1547.6" y="2037.7" font-size="36.5">CBLB</text>
<rect x="540.50" y="2041.00" width="36.38" height="31.60" fill="#3e3e40" stroke="#111" stroke-width="1.4"/>
<rect x="576.88" y="2041.00" width="36.38" height="31.60" fill="#7d7d32" stroke="#111" stroke-width="1.4"/>
<rect x="613.26" y="2041.00" width="36.38" height="31.60" fill="#37375f" stroke="#111" stroke-width="1.4"/>
<rect x="649.64" y="2041.00" width="36.38" height="31.60" fill="#2a2a94" stroke="#111" stroke-width="1.4"/>
<rect x="700.50" y="2041.00" width="33.69" height="31.60" fill="#0000ff" stroke="#111" stroke-width="1.4"/>
<rect x="734.19" y="2041.00" width="33.69" height="31.60" fill="#2a2a94" stroke="#111" stroke-width="1.4"/>
<rect x="767.88" y="2041.00" width="33.69" height="31.60" fill="#ffff00" stroke="#111" stroke-width="1.4"/>
<rect x="801.57" y="2041.00" width="33.69" height="31.60" fill="#0000ff" stroke="#111" stroke-width="1.4"/>
<rect x="835.26" y="2041.00" width="33.69" height="31.60" fill="#5b5b3a" stroke="#111" stroke-width="1.4"/>
<rect x="868.95" y="2041.00" width="33.69" height="31.60" fill="#5b5b3a" stroke="#111" stroke-width="1.4"/>
<rect x="902.64" y="2041.00" width="33.69" height="31.60" fill="#7d7d32" stroke="#111" stroke-width="1.4"/>
<rect x="936.33" y="2041.00" width="33.69" height="31.60" fill="#2a2a94" stroke="#111" stroke-width="1.4"/>
<rect x="970.02" y="2041.00" width="33.69" height="31.60" fill="#7d7d32" stroke="#111" stroke-width="1.4"/>
<rect x="1003.71" y="2041.00" width="33.69" height="31.60" fill="#2a2a94" stroke="#111" stroke-width="1.4"/>
<rect x="1037.40" y="2041.00" width="33.69" height="31.60" fill="#2a2a94" stroke="#111" stroke-width="1.4"/>
<rect x="1071.09" y="2041.00" width="33.69" height="31.60" fill="#a5a52a" stroke="#111" stroke-width="1.4"/>
<rect x="1104.78" y="2041.00" width="33.69" height="31.60" fill="#2a2a94" stroke="#111" stroke-width="1.4"/>
<rect x="1138.47" y="2041.00" width="33.69" height="31.60" fill="#37375f" stroke="#111" stroke-width="1.4"/>
<rect x="1172.16" y="2041.00" width="33.69" height="31.60" fill="#37375f" stroke="#111" stroke-width="1.4"/>
<rect x="1205.85" y="2041.00" width="33.69" height="31.60" fill="#2a2a94" stroke="#111" stroke-width="1.4"/>
<rect x="1239.54" y="2041.00" width="33.69" height="31.60" fill="#2a2a94" stroke="#111" stroke-width="1.4"/>
<rect x="1273.23" y="2041.00" width="33.69" height="31.60" fill="#1d1dd2" stroke="#111" stroke-width="1.4"/>
<rect x="1306.92" y="2041.00" width="33.69" height="31.60" fill="#1d1dd2" stroke="#111" stroke-width="1.4"/>
<rect x="1340.61" y="2041.00" width="33.69" height="31.60" fill="#0000ff" stroke="#111" stroke-width="1.4"/>
<rect x="1374.30" y="2041.00" width="33.69" height="31.60" fill="#0000ff" stroke="#111" stroke-width="1.4"/>
<rect x="1407.99" y="2041.00" width="33.69" height="31.60" fill="#2a2a94" stroke="#111" stroke-width="1.4"/>
<rect x="1441.68" y="2041.00" width="33.69" height="31.60" fill="#2a2a94" stroke="#111" stroke-width="1.4"/>
<rect x="1475.37" y="2041.00" width="33.69" height="31.60" fill="#1d1dd2" stroke="#111" stroke-width="1.4"/>
<rect x="1509.06" y="2041.00" width="33.69" height="31.60" fill="#1d1dd2" stroke="#111" stroke-width="1.4"/>
<text x="1547.6" y="2069.4" font-size="36.5">SNRPN</text>
<rect x="540.50" y="2072.60" width="36.38" height="31.60" fill="#3e3e40" stroke="#111" stroke-width="1.4"/>
<rect x="576.88" y="2072.60" width="36.38" height="31.60" fill="#7d7d32" stroke="#111" stroke-width="1.4"/>
<rect x="613.26" y="2072.60" width="36.38" height="31.60" fill="#3e3e40" stroke="#111" stroke-width="1.4"/>
<rect x="649.64" y="2072.60" width="36.38" height="31.60" fill="#2a2a94" stroke="#111" stroke-width="1.4"/>
<rect x="700.50" y="2072.60" width="33.69" height="31.60" fill="#0000ff" stroke="#111" stroke-width="1.4"/>
<rect x="734.19" y="2072.60" width="33.69" height="31.60" fill="#37375f" stroke="#111" stroke-width="1.4"/>
<rect x="767.88" y="2072.60" width="33.69" height="31.60" fill="#ffff00" stroke="#111" stroke-width="1.4"/>
<rect x="801.57" y="2072.60" width="33.69" height="31.60" fill="#0000ff" stroke="#111" stroke-width="1.4"/>
<rect x="835.26" y="2072.60" width="33.69" height="31.60" fill="#d2d224" stroke="#111" stroke-width="1.4"/>
<rect x="868.95" y="2072.60" width="33.69" height="31.60" fill="#37375f" stroke="#111" stroke-width="1.4"/>
<rect x="902.64" y="2072.60" width="33.69" height="31.60" fill="#2a2a94" stroke="#111" stroke-width="1.4"/>
<rect x="936.33" y="2072.60" width="33.69" height="31.60" fill="#1d1dd2" stroke="#111" stroke-width="1.4"/>
<rect x="970.02" y="2072.60" width="33.69" height="31.60" fill="#ffff00" stroke="#111" stroke-width="1.4"/>
<rect x="1003.71" y="2072.60" width="33.69" height="31.60" fill="#2a2a94" stroke="#111" stroke-width="1.4"/>
<rect x="1037.40" y="2072.60" width="33.69" height="31.60" fill="#a5a52a" stroke="#111" stroke-width="1.4"/>
<rect x="1071.09" y="2072.60" width="33.69" height="31.60" fill="#2a2a94" stroke="#111" stroke-width="1.4"/>
<rect x="1104.78" y="2072.60" width="33.69" height="31.60" fill="#1d1dd2" stroke="#111" stroke-width="1.4"/>
<rect x="1138.47" y="2072.60" width="33.69" height="31.60" fill="#0000ff" stroke="#111" stroke-width="1.4"/>
<rect x="1172.16" y="2072.60" width="33.69" height="31.60" fill="#2a2a94" stroke="#111" stroke-width="1.4"/>
<rect x="1205.85" y="2072.60" width="33.69" height="31.60" fill="#7d7d32" stroke="#111" stroke-width="1.4"/>
<rect x="1239.54" y="2072.60" width="33.69" height="31.60" fill="#0000ff" stroke="#111" stroke-width="1.4"/>
<rect x="1273.23" y="2072.60" width="33.69" height="31.60" fill="#1d1dd2" stroke="#111" stroke-width="1.4"/>
<rect x="1306.92" y="2072.60" width="33.69" height="31.60" fill="#2a2a94" stroke="#111" stroke-width="1.4"/>
<rect x="1340.61" y="2072.60" width="33.69" height="31.60" fill="#2a2a94" stroke="#111" stroke-width="1.4"/>
<rect x="1374.30" y="2072.60" width="33.69" height="31.60" fill="#0000ff" stroke="#111" stroke-width="1.4"/>
<rect x="1407.99" y="2072.60" width="33.69" height="31.60" fill="#0000ff" stroke="#111" stroke-width="1.4"/>
<rect x="1441.68" y="2072.60" width="33.69" height="31.60" fill="#37375f" stroke="#111" stroke-width="1.4"/>
<rect x="1475.37" y="2072.60" width="33.69" height="31.60" fill="#2a2a94" stroke="#111" stroke-width="1.4"/>
<rect x="1509.06" y="2072.60" width="33.69" height="31.60" fill="#2a2a94" stroke="#111" stroke-width="1.4"/>
<text x="1547.6" y="2101.2" font-size="36.5">CLN8</text>
<rect x="540.50" y="2104.20" width="36.38" height="31.60" fill="#37375f" stroke="#111" stroke-width="1.4"/>
<rect x="576.88" y="2104.20" width="36.38" height="31.60" fill="#a5a52a" stroke="#111" stroke-width="1.4"/>
<rect x="613.26" y="2104.20" width="36.38" height="31.60" fill="#5b5b3a" stroke="#111" stroke-width="1.4"/>
<rect x="649.64" y="2104.20" width="36.38" height="31.60" fill="#1d1dd2" stroke="#111" stroke-width="1.4"/>
<rect x="700.50" y="2104.20" width="33.69" height="31.60" fill="#ecec26" stroke="#111" stroke-width="1.4"/>
<rect x="734.19" y="2104.20" width="33.69" height="31.60" fill="#37375f" stroke="#111" stroke-width="1.4"/>
<rect x="767.88" y="2104.20" width="33.69" height="31.60" fill="#ffff00" stroke="#111" stroke-width="1.4"/>
<rect x="801.57" y="2104.20" width="33.69" height="31.60" fill="#37375f" stroke="#111" stroke-width="1.4"/>
<rect x="835.26" y="2104.20" width="33.69" height="31.60" fill="#7d7d32" stroke="#111" stroke-width="1.4"/>
<rect x="868.95" y="2104.20" width="33.69" height="31.60" fill="#3e3e40" stroke="#111" stroke-width="1.4"/>
<rect x="902.64" y="2104.20" width="33.69" height="31.60" fill="#a5a52a" stroke="#111" stroke-width="1.4"/>
<rect x="936.33" y="2104.20" width="33.69" height="31.60" fill="#37375f" stroke="#111" stroke-width="1.4"/>
<rect x="970.02" y="2104.20" width="33.69" height="31.60" fill="#7d7d32" stroke="#111" stroke-width="1.4"/>
<rect x="1003.71" y="2104.20" width="33.69" height="31.60" fill="#a5a52a" stroke="#111" stroke-width="1.4"/>
<rect x="1037.40" y="2104.20" width="33.69" height="31.60" fill="#37375f" stroke="#111" stroke-width="1.4"/>
<rect x="1071.09" y="2104.20" width="33.69" height="31.60" fill="#5b5b3a" stroke="#111" stroke-width="1.4"/>
<rect x="1104.78" y="2104.20" width="33.69" height="31.60" fill="#2a2a94" stroke="#111" stroke-width="1.4"/>
<rect x="1138.47" y="2104.20" width="33.69" height="31.60" fill="#5b5b3a" stroke="#111" stroke-width="1.4"/>
<rect x="1172.16" y="2104.20" width="33.69" height="31.60" fill="#1d1dd2" stroke="#111" stroke-width="1.4"/>
<rect x="1205.85" y="2104.20" width="33.69" height="31.60" fill="#1d1dd2" stroke="#111" stroke-width="1.4"/>
<rect x="1239.54" y="2104.20" width="33.69" height="31.60" fill="#1d1dd2" stroke="#111" stroke-width="1.4"/>
<rect x="1273.23" y="2104.20" width="33.69" height="31.60" fill="#37375f" stroke="#111" stroke-width="1.4"/>
<rect x="1306.92" y="2104.20" width="33.69" height="31.60" fill="#1d1dd2" stroke="#111" stroke-width="1.4"/>
<rect x="1340.61" y="2104.20" width="33.69" height="31.60" fill="#0000ff" stroke="#111" stroke-width="1.4"/>
<rect x="1374.30" y="2104.20" width="33.69" height="31.60" fill="#1d1dd2" stroke="#111" stroke-width="1.4"/>
<rect x="1407.99" y="2104.20" width="33.69" height="31.60" fill="#0000ff" stroke="#111" stroke-width="1.4"/>
<rect x="1441.68" y="2104.20" width="33.69" height="31.60" fill="#1d1dd2" stroke="#111" stroke-width="1.4"/>
<rect x="1475.37" y="2104.20" width="33.69" height="31.60" fill="#0000ff" stroke="#111" stroke-width="1.4"/>
<rect x="1509.06" y="2104.20" width="33.69" height="31.60" fill="#1d1dd2" stroke="#111" stroke-width="1.4"/>
<text x="1547.6" y="2133.0" font-size="36.5">CCND3</text>
<rect x="540.50" y="2135.80" width="36.38" height="31.60" fill="#3e3e40" stroke="#111" stroke-width="1.4"/>
<rect x="576.88" y="2135.80" width="36.38" height="31.60" fill="#7d7d32" stroke="#111" stroke-width="1.4"/>
<rect x="613.26" y="2135.80" width="36.38" height="31.60" fill="#5b5b3a" stroke="#111" stroke-width="1.4"/>
<rect x="649.64" y="2135.80" width="36.38" height="31.60" fill="#2a2a94" stroke="#111" stroke-width="1.4"/>
<rect x="700.50" y="2135.80" width="33.69" height="31.60" fill="#37375f" stroke="#111" stroke-width="1.4"/>
<rect x="734.19" y="2135.80" width="33.69" height="31.60" fill="#d2d224" stroke="#111" stroke-width="1.4"/>
<rect x="767.88" y="2135.80" width="33.69" height="31.60" fill="#ffff00" stroke="#111" stroke-width="1.4"/>
<rect x="801.57" y="2135.80" width="33.69" height="31.60" fill="#0000ff" stroke="#111" stroke-width="1.4"/>
<rect x="835.26" y="2135.80" width="33.69" height="31.60" fill="#d2d224" stroke="#111" stroke-width="1.4"/>
<rect x="868.95" y="2135.80" width="33.69" height="31.60" fill="#ffff00" stroke="#111" stroke-width="1.4"/>
<rect x="902.64" y="2135.80" width="33.69" height="31.60" fill="#37375f" stroke="#111" stroke-width="1.4"/>
<rect x="936.33" y="2135.80" width="33.69" height="31.60" fill="#37375f" stroke="#111" stroke-width="1.4"/>
<rect x="970.02" y="2135.80" width="33.69" height="31.60" fill="#1d1dd2" stroke="#111" stroke-width="1.4"/>
<rect x="1003.71" y="2135.80" width="33.69" height="31.60" fill="#1d1dd2" stroke="#111" stroke-width="1.4"/>
<rect x="1037.40" y="2135.80" width="33.69" height="31.60" fill="#a5a52a" stroke="#111" stroke-width="1.4"/>
<rect x="1071.09" y="2135.80" width="33.69" height="31.60" fill="#a5a52a" stroke="#111" stroke-width="1.4"/>
<rect x="1104.78" y="2135.80" width="33.69" height="31.60" fill="#2a2a94" stroke="#111" stroke-width="1.4"/>
<rect x="1138.47" y="2135.80" width="33.69" height="31.60" fill="#5b5b3a" stroke="#111" stroke-width="1.4"/>
<rect x="1172.16" y="2135.80" width="33.69" height="31.60" fill="#37375f" stroke="#111" stroke-width="1.4"/>
<rect x="1205.85" y="2135.80" width="33.69" height="31.60" fill="#2a2a94" stroke="#111" stroke-width="1.4"/>
<rect x="1239.54" y="2135.80" width="33.69" height="31.60" fill="#37375f" stroke="#111" stroke-width="1.4"/>
<rect x="1273.23" y="2135.80" width="33.69" height="31.60" fill="#1d1dd2" stroke="#111" stroke-width="1.4"/>
<rect x="1306.92" y="2135.80" width="33.69" height="31.60" fill="#1d1dd2" stroke="#111" stroke-width="1.4"/>
<rect x="1340.61" y="2135.80" width="33.69" height="31.60" fill="#0000ff" stroke="#111" stroke-width="1.4"/>
<rect x="1374.30" y="2135.80" width="33.69" height="31.60" fill="#0000ff" stroke="#111" stroke-width="1.4"/>
<rect x="1407.99" y="2135.80" width="33.69" height="31.60" fill="#3e3e40" stroke="#111" stroke-width="1.4"/>
<rect x="1441.68" y="2135.80" width="33.69" height="31.60" fill="#2a2a94" stroke="#111" stroke-width="1.4"/>
<rect x="1475.37" y="2135.80" width="33.69" height="31.60" fill="#2a2a94" stroke="#111" stroke-width="1.4"/>
<rect x="1509.06" y="2135.80" width="33.69" height="31.60" fill="#0000ff" stroke="#111" stroke-width="1.4"/>
<text x="1547.6" y="2164.8" font-size="36.5">NOC2L</text>
<rect x="540.50" y="2167.40" width="36.38" height="31.60" fill="#3e3e40" stroke="#111" stroke-width="1.4"/>
<rect x="576.88" y="2167.40" width="36.38" height="31.60" fill="#7d7d32" stroke="#111" stroke-width="1.4"/>
<rect x="613.26" y="2167.40" width="36.38" height="31.60" fill="#3e3e40" stroke="#111" stroke-width="1.4"/>
<rect x="649.64" y="2167.40" width="36.38" height="31.60" fill="#2a2a94" stroke="#111" stroke-width="1.4"/>
<rect x="700.50" y="2167.40" width="33.69" height="31.60" fill="#7d7d32" stroke="#111" stroke-width="1.4"/>
<rect x="734.19" y="2167.40" width="33.69" height="31.60" fill="#7d7d32" stroke="#111" stroke-width="1.4"/>
<rect x="767.88" y="2167.40" width="33.69" height="31.60" fill="#ffff00" stroke="#111" stroke-width="1.4"/>
<rect x="801.57" y="2167.40" width="33.69" height="31.60" fill="#0000ff" stroke="#111" stroke-width="1.4"/>
<rect x="835.26" y="2167.40" width="33.69" height="31.60" fill="#a5a52a" stroke="#111" stroke-width="1.4"/>
<rect x="868.95" y="2167.40" width="33.69" height="31.60" fill="#ffff00" stroke="#111" stroke-width="1.4"/>
<rect x="902.64" y="2167.40" width="33.69" height="31.60" fill="#1d1dd2" stroke="#111" stroke-width="1.4"/>
<rect x="936.33" y="2167.40" width="33.69" height="31.60" fill="#a5a52a" stroke="#111" stroke-width="1.4"/>
<rect x="970.02" y="2167.40" width="33.69" height="31.60" fill="#3e3e40" stroke="#111" stroke-width="1.4"/>
<rect x="1003.71" y="2167.40" width="33.69" height="31.60" fill="#2a2a94" stroke="#111" stroke-width="1.4"/>
<rect x="1037.40" y="2167.40" width="33.69" height="31.60" fill="#7d7d32" stroke="#111" stroke-width="1.4"/>
<rect x="1071.09" y="2167.40" width="33.69" height="31.60" fill="#37375f" stroke="#111" stroke-width="1.4"/>
<rect x="1104.78" y="2167.40" width="33.69" height="31.60" fill="#5b5b3a" stroke="#111" stroke-width="1.4"/>
<rect x="1138.47" y="2167.40" width="33.69" height="31.60" fill="#5b5b3a" stroke="#111" stroke-width="1.4"/>
<rect x="1172.16" y="2167.40" width="33.69" height="31.60" fill="#37375f" stroke="#111" stroke-width="1.4"/>
<rect x="1205.85" y="2167.40" width="33.69" height="31.60" fill="#2a2a94" stroke="#111" stroke-width="1.4"/>
<rect x="1239.54" y="2167.40" width="33.69" height="31.60" fill="#2a2a94" stroke="#111" stroke-width="1.4"/>
<rect x="1273.23" y="2167.40" width="33.69" height="31.60" fill="#5b5b3a" stroke="#111" stroke-width="1.4"/>
<rect x="1306.92" y="2167.40" width="33.69" height="31.60" fill="#2a2a94" stroke="#111" stroke-width="1.4"/>
<rect x="1340.61" y="2167.40" width="33.69" height="31.60" fill="#0000ff" stroke="#111" stroke-width="1.4"/>
<rect x="1374.30" y="2167.40" width="33.69" height="31.60" fill="#1d1dd2" stroke="#111" stroke-width="1.4"/>
<rect x="1407.99" y="2167.40" width="33.69" height="31.60" fill="#2a2a94" stroke="#111" stroke-width="1.4"/>
<rect x="1441.68" y="2167.40" width="33.69" height="31.60" fill="#37375f" stroke="#111" stroke-width="1.4"/>
<rect x="1475.37" y="2167.40" width="33.69" height="31.60" fill="#0000ff" stroke="#111" stroke-width="1.4"/>
<rect x="1509.06" y="2167.40" width="33.69" height="31.60" fill="#0000ff" stroke="#111" stroke-width="1.4"/>
<text x="1547.6" y="2196.6" font-size="36.5">ZNF224</text>
<rect x="540.50" y="2199.00" width="36.38" height="31.60" fill="#37375f" stroke="#111" stroke-width="1.4"/>
<rect x="576.88" y="2199.00" width="36.38" height="31.60" fill="#7d7d32" stroke="#111" stroke-width="1.4"/>
<rect x="613.26" y="2199.00" width="36.38" height="31.60" fill="#5b5b3a" stroke="#111" stroke-width="1.4"/>
<rect x="649.64" y="2199.00" width="36.38" height="31.60" fill="#2a2a94" stroke="#111" stroke-width="1.4"/>
<rect x="700.50" y="2199.00" width="33.69" height="31.60" fill="#1d1dd2" stroke="#111" stroke-width="1.4"/>
<rect x="734.19" y="2199.00" width="33.69" height="31.60" fill="#5b5b3a" stroke="#111" stroke-width="1.4"/>
<rect x="767.88" y="2199.00" width="33.69" height="31.60" fill="#ffff00" stroke="#111" stroke-width="1.4"/>
<rect x="801.57" y="2199.00" width="33.69" height="31.60" fill="#1d1dd2" stroke="#111" stroke-width="1.4"/>
<rect x="835.26" y="2199.00" width="33.69" height="31.60" fill="#ecec26" stroke="#111" stroke-width="1.4"/>
<rect x="868.95" y="2199.00" width="33.69" height="31.60" fill="#ecec26" stroke="#111" stroke-width="1.4"/>
<rect x="902.64" y="2199.00" width="33.69" height="31.60" fill="#0000ff" stroke="#111" stroke-width="1.4"/>
<rect x="936.33" y="2199.00" width="33.69" height="31.60" fill="#ffff00" stroke="#111" stroke-width="1.4"/>
<rect x="970.02" y="2199.00" width="33.69" height="31.60" fill="#7d7d32" stroke="#111" stroke-width="1.4"/>
<rect x="1003.71" y="2199.00" width="33.69" height="31.60" fill="#0000ff" stroke="#111" stroke-width="1.4"/>
<rect x="1037.40" y="2199.00" width="33.69" height="31.60" fill="#3e3e40" stroke="#111" stroke-width="1.4"/>
<rect x="1071.09" y="2199.00" width="33.69" height="31.60" fill="#37375f" stroke="#111" stroke-width="1.4"/>
<rect x="1104.78" y="2199.00" width="33.69" height="31.60" fill="#2a2a94" stroke="#111" stroke-width="1.4"/>
<rect x="1138.47" y="2199.00" width="33.69" height="31.60" fill="#3e3e40" stroke="#111" stroke-width="1.4"/>
<rect x="1172.16" y="2199.00" width="33.69" height="31.60" fill="#1d1dd2" stroke="#111" stroke-width="1.4"/>
<rect x="1205.85" y="2199.00" width="33.69" height="31.60" fill="#37375f" stroke="#111" stroke-width="1.4"/>
<rect x="1239.54" y="2199.00" width="33.69" height="31.60" fill="#1d1dd2" stroke="#111" stroke-width="1.4"/>
<rect x="1273.23" y="2199.00" width="33.69" height="31.60" fill="#0000ff" stroke="#111" stroke-width="1.4"/>
<rect x="1306.92" y="2199.00" width="33.69" height="31.60" fill="#0000ff" stroke="#111" stroke-width="1.4"/>
<rect x="1340.61" y="2199.00" width="33.69" height="31.60" fill="#0000ff" stroke="#111" stroke-width="1.4"/>
<rect x="1374.30" y="2199.00" width="33.69" height="31.60" fill="#0000ff" stroke="#111" stroke-width="1.4"/>
<rect x="1407.99" y="2199.00" width="33.69" height="31.60" fill="#1d1dd2" stroke="#111" stroke-width="1.4"/>
<rect x="1441.68" y="2199.00" width="33.69" height="31.60" fill="#3e3e40" stroke="#111" stroke-width="1.4"/>
<rect x="1475.37" y="2199.00" width="33.69" height="31.60" fill="#0000ff" stroke="#111" stroke-width="1.4"/>
<rect x="1509.06" y="2199.00" width="33.69" height="31.60" fill="#0000ff" stroke="#111" stroke-width="1.4"/>
<text x="1547.6" y="2228.3" font-size="36.5">UBR2</text>
<rect x="540.50" y="2230.60" width="36.38" height="31.60" fill="#3e3e40" stroke="#111" stroke-width="1.4"/>
<rect x="576.88" y="2230.60" width="36.38" height="31.60" fill="#7d7d32" stroke="#111" stroke-width="1.4"/>
<rect x="613.26" y="2230.60" width="36.38" height="31.60" fill="#5b5b3a" stroke="#111" stroke-width="1.4"/>
<rect x="649.64" y="2230.60" width="36.38" height="31.60" fill="#2a2a94" stroke="#111" stroke-width="1.4"/>
<rect x="700.50" y="2230.60" width="33.69" height="31.60" fill="#2a2a94" stroke="#111" stroke-width="1.4"/>
<rect x="734.19" y="2230.60" width="33.69" height="31.60" fill="#a5a52a" stroke="#111" stroke-width="1.4"/>
<rect x="767.88" y="2230.60" width="33.69" height="31.60" fill="#ffff00" stroke="#111" stroke-width="1.4"/>
<rect x="801.57" y="2230.60" width="33.69" height="31.60" fill="#0000ff" stroke="#111" stroke-width="1.4"/>
<rect x="835.26" y="2230.60" width="33.69" height="31.60" fill="#ecec26" stroke="#111" stroke-width="1.4"/>
<rect x="868.95" y="2230.60" width="33.69" height="31.60" fill="#ffff00" stroke="#111" stroke-width="1.4"/>
<rect x="902.64" y="2230.60" width="33.69" height="31.60" fill="#37375f" stroke="#111" stroke-width="1.4"/>
<rect x="936.33" y="2230.60" width="33.69" height="31.60" fill="#a5a52a" stroke="#111" stroke-width="1.4"/>
<rect x="970.02" y="2230.60" width="33.69" height="31.60" fill="#a5a52a" stroke="#111" stroke-width="1.4"/>
<rect x="1003.71" y="2230.60" width="33.69" height="31.60" fill="#3e3e40" stroke="#111" stroke-width="1.4"/>
<rect x="1037.40" y="2230.60" width="33.69" height="31.60" fill="#d2d224" stroke="#111" stroke-width="1.4"/>
<rect x="1071.09" y="2230.60" width="33.69" height="31.60" fill="#ecec26" stroke="#111" stroke-width="1.4"/>
<rect x="1104.78" y="2230.60" width="33.69" height="31.60" fill="#2a2a94" stroke="#111" stroke-width="1.4"/>
<rect x="1138.47" y="2230.60" width="33.69" height="31.60" fill="#2a2a94" stroke="#111" stroke-width="1.4"/>
<rect x="1172.16" y="2230.60" width="33.69" height="31.60" fill="#0000ff" stroke="#111" stroke-width="1.4"/>
<rect x="1205.85" y="2230.60" width="33.69" height="31.60" fill="#0000ff" stroke="#111" stroke-width="1.4"/>
<rect x="1239.54" y="2230.60" width="33.69" height="31.60" fill="#2a2a94" stroke="#111" stroke-width="1.4"/>
<rect x="1273.23" y="2230.60" width="33.69" height="31.60" fill="#1d1dd2" stroke="#111" stroke-width="1.4"/>
<rect x="1306.92" y="2230.60" width="33.69" height="31.60" fill="#0000ff" stroke="#111" stroke-width="1.4"/>
<rect x="1340.61" y="2230.60" width="33.69" height="31.60" fill="#0000ff" stroke="#111" stroke-width="1.4"/>
<rect x="1374.30" y="2230.60" width="33.69" height="31.60" fill="#0000ff" stroke="#111" stroke-width="1.4"/>
<rect x="1407.99" y="2230.60" width="33.69" height="31.60" fill="#1d1dd2" stroke="#111" stroke-width="1.4"/>
<rect x="1441.68" y="2230.60" width="33.69" height="31.60" fill="#1d1dd2" stroke="#111" stroke-width="1.4"/>
<rect x="1475.37" y="2230.60" width="33.69" height="31.60" fill="#0000ff" stroke="#111" stroke-width="1.4"/>
<rect x="1509.06" y="2230.60" width="33.69" height="31.60" fill="#0000ff" stroke="#111" stroke-width="1.4"/>
<text x="1547.6" y="2260.1" font-size="36.5">SNRK</text>
<rect x="540.50" y="2262.20" width="36.38" height="31.60" fill="#5b5b3a" stroke="#111" stroke-width="1.4"/>
<rect x="576.88" y="2262.20" width="36.38" height="31.60" fill="#5b5b3a" stroke="#111" stroke-width="1.4"/>
<rect x="613.26" y="2262.20" width="36.38" height="31.60" fill="#3e3e40" stroke="#111" stroke-width="1.4"/>
<rect x="649.64" y="2262.20" width="36.38" height="31.60" fill="#2a2a94" stroke="#111" stroke-width="1.4"/>
<rect x="700.50" y="2262.20" width="33.69" height="31.60" fill="#3e3e40" stroke="#111" stroke-width="1.4"/>
<rect x="734.19" y="2262.20" width="33.69" height="31.60" fill="#ffff00" stroke="#111" stroke-width="1.4"/>
<rect x="767.88" y="2262.20" width="33.69" height="31.60" fill="#ffff00" stroke="#111" stroke-width="1.4"/>
<rect x="801.57" y="2262.20" width="33.69" height="31.60" fill="#0000ff" stroke="#111" stroke-width="1.4"/>
<rect x="835.26" y="2262.20" width="33.69" height="31.60" fill="#ffff00" stroke="#111" stroke-width="1.4"/>
<rect x="868.95" y="2262.20" width="33.69" height="31.60" fill="#ffff00" stroke="#111" stroke-width="1.4"/>
<rect x="902.64" y="2262.20" width="33.69" height="31.60" fill="#1d1dd2" stroke="#111" stroke-width="1.4"/>
<rect x="936.33" y="2262.20" width="33.69" height="31.60" fill="#3e3e40" stroke="#111" stroke-width="1.4"/>
<rect x="970.02" y="2262.20" width="33.69" height="31.60" fill="#5b5b3a" stroke="#111" stroke-width="1.4"/>
<rect x="1003.71" y="2262.20" width="33.69" height="31.60" fill="#1d1dd2" stroke="#111" stroke-width="1.4"/>
<rect x="1037.40" y="2262.20" width="33.69" height="31.60" fill="#a5a52a" stroke="#111" stroke-width="1.4"/>
<rect x="1071.09" y="2262.20" width="33.69" height="31.60" fill="#2a2a94" stroke="#111" stroke-width="1.4"/>
<rect x="1104.78" y="2262.20" width="33.69" height="31.60" fill="#3e3e40" stroke="#111" stroke-width="1.4"/>
<rect x="1138.47" y="2262.20" width="33.69" height="31.60" fill="#1d1dd2" stroke="#111" stroke-width="1.4"/>
<rect x="1172.16" y="2262.20" width="33.69" height="31.60" fill="#2a2a94" stroke="#111" stroke-width="1.4"/>
<rect x="1205.85" y="2262.20" width="33.69" height="31.60" fill="#0000ff" stroke="#111" stroke-width="1.4"/>
<rect x="1239.54" y="2262.20" width="33.69" height="31.60" fill="#0000ff" stroke="#111" stroke-width="1.4"/>
<rect x="1273.23" y="2262.20" width="33.69" height="31.60" fill="#1d1dd2" stroke="#111" stroke-width="1.4"/>
<rect x="1306.92" y="2262.20" width="33.69" height="31.60" fill="#0000ff" stroke="#111" stroke-width="1.4"/>
<rect x="1340.61" y="2262.20" width="33.69" height="31.60" fill="#0000ff" stroke="#111" stroke-width="1.4"/>
<rect x="1374.30" y="2262.20" width="33.69" height="31.60" fill="#1d1dd2" stroke="#111" stroke-width="1.4"/>
<rect x="1407.99" y="2262.20" width="33.69" height="31.60" fill="#0000ff" stroke="#111" stroke-width="1.4"/>
<rect x="1441.68" y="2262.20" width="33.69" height="31.60" fill="#0000ff" stroke="#111" stroke-width="1.4"/>
<rect x="1475.37" y="2262.20" width="33.69" height="31.60" fill="#0000ff" stroke="#111" stroke-width="1.4"/>
<rect x="1509.06" y="2262.20" width="33.69" height="31.60" fill="#0000ff" stroke="#111" stroke-width="1.4"/>
<text x="1547.6" y="2291.9" font-size="36.5">INPP5D</text>
<rect x="540.50" y="2293.80" width="36.38" height="31.60" fill="#37375f" stroke="#111" stroke-width="1.4"/>
<rect x="576.88" y="2293.80" width="36.38" height="31.60" fill="#a5a52a" stroke="#111" stroke-width="1.4"/>
<rect x="613.26" y="2293.80" width="36.38" height="31.60" fill="#5b5b3a" stroke="#111" stroke-width="1.4"/>
<rect x="649.64" y="2293.80" width="36.38" height="31.60" fill="#1d1dd2" stroke="#111" stroke-width="1.4"/>
<rect x="700.50" y="2293.80" width="33.69" height="31.60" fill="#0000ff" stroke="#111" stroke-width="1.4"/>
<rect x="734.19" y="2293.80" width="33.69" height="31.60" fill="#37375f" stroke="#111" stroke-width="1.4"/>
<rect x="767.88" y="2293.80" width="33.69" height="31.60" fill="#ffff00" stroke="#111" stroke-width="1.4"/>
<rect x="801.57" y="2293.80" width="33.69" height="31.60" fill="#37375f" stroke="#111" stroke-width="1.4"/>
<rect x="835.26" y="2293.80" width="33.69" height="31.60" fill="#7d7d32" stroke="#111" stroke-width="1.4"/>
<rect x="868.95" y="2293.80" width="33.69" height="31.60" fill="#3e3e40" stroke="#111" stroke-width="1.4"/>
<rect x="902.64" y="2293.80" width="33.69" height="31.60" fill="#5b5b3a" stroke="#111" stroke-width="1.4"/>
<rect x="936.33" y="2293.80" width="33.69" height="31.60" fill="#7d7d32" stroke="#111" stroke-width="1.4"/>
<rect x="970.02" y="2293.80" width="33.69" height="31.60" fill="#7d7d32" stroke="#111" stroke-width="1.4"/>
<rect x="1003.71" y="2293.80" width="33.69" height="31.60" fill="#2a2a94" stroke="#111" stroke-width="1.4"/>
<rect x="1037.40" y="2293.80" width="33.69" height="31.60" fill="#0000ff" stroke="#111" stroke-width="1.4"/>
<rect x="1071.09" y="2293.80" width="33.69" height="31.60" fill="#1d1dd2" stroke="#111" stroke-width="1.4"/>
<rect x="1104.78" y="2293.80" width="33.69" height="31.60" fill="#2a2a94" stroke="#111" stroke-width="1.4"/>
<rect x="1138.47" y="2293.80" width="33.69" height="31.60" fill="#1d1dd2" stroke="#111" stroke-width="1.4"/>
<rect x="1172.16" y="2293.80" width="33.69" height="31.60" fill="#2a2a94" stroke="#111" stroke-width="1.4"/>
<rect x="1205.85" y="2293.80" width="33.69" height="31.60" fill="#37375f" stroke="#111" stroke-width="1.4"/>
<rect x="1239.54" y="2293.80" width="33.69" height="31.60" fill="#1d1dd2" stroke="#111" stroke-width="1.4"/>
<rect x="1273.23" y="2293.80" width="33.69" height="31.60" fill="#0000ff" stroke="#111" stroke-width="1.4"/>
<rect x="1306.92" y="2293.80" width="33.69" height="31.60" fill="#0000ff" stroke="#111" stroke-width="1.4"/>
<rect x="1340.61" y="2293.80" width="33.69" height="31.60" fill="#0000ff" stroke="#111" stroke-width="1.4"/>
<rect x="1374.30" y="2293.80" width="33.69" height="31.60" fill="#0000ff" stroke="#111" stroke-width="1.4"/>
<rect x="1407.99" y="2293.80" width="33.69" height="31.60" fill="#0000ff" stroke="#111" stroke-width="1.4"/>
<rect x="1441.68" y="2293.80" width="33.69" height="31.60" fill="#1d1dd2" stroke="#111" stroke-width="1.4"/>
<rect x="1475.37" y="2293.80" width="33.69" height="31.60" fill="#2a2a94" stroke="#111" stroke-width="1.4"/>
<rect x="1509.06" y="2293.80" width="33.69" height="31.60" fill="#1d1dd2" stroke="#111" stroke-width="1.4"/>
<text x="1547.6" y="2323.7" font-size="36.5">N4BP2L2</text>
<rect x="540.50" y="2325.40" width="36.38" height="31.70" fill="#5b5b3a" stroke="#111" stroke-width="1.4"/>
<rect x="576.88" y="2325.40" width="36.38" height="31.70" fill="#5b5b3a" stroke="#111" stroke-width="1.4"/>
<rect x="613.26" y="2325.40" width="36.38" height="31.70" fill="#7d7d32" stroke="#111" stroke-width="1.4"/>
<rect x="649.64" y="2325.40" width="36.38" height="31.70" fill="#2a2a94" stroke="#111" stroke-width="1.4"/>
<rect x="700.50" y="2325.40" width="33.69" height="31.70" fill="#0000ff" stroke="#111" stroke-width="1.4"/>
<rect x="734.19" y="2325.40" width="33.69" height="31.70" fill="#5b5b3a" stroke="#111" stroke-width="1.4"/>
<rect x="767.88" y="2325.40" width="33.69" height="31.70" fill="#ffff00" stroke="#111" stroke-width="1.4"/>
<rect x="801.57" y="2325.40" width="33.69" height="31.70" fill="#2a2a94" stroke="#111" stroke-width="1.4"/>
<rect x="835.26" y="2325.40" width="33.69" height="31.70" fill="#5b5b3a" stroke="#111" stroke-width="1.4"/>
<rect x="868.95" y="2325.40" width="33.69" height="31.70" fill="#1d1dd2" stroke="#111" stroke-width="1.4"/>
<rect x="902.64" y="2325.40" width="33.69" height="31.70" fill="#7d7d32" stroke="#111" stroke-width="1.4"/>
<rect x="936.33" y="2325.40" width="33.69" height="31.70" fill="#3e3e40" stroke="#111" stroke-width="1.4"/>
<rect x="970.02" y="2325.40" width="33.69" height="31.70" fill="#7d7d32" stroke="#111" stroke-width="1.4"/>
<rect x="1003.71" y="2325.40" width="33.69" height="31.70" fill="#1d1dd2" stroke="#111" stroke-width="1.4"/>
<rect x="1037.40" y="2325.40" width="33.69" height="31.70" fill="#0000ff" stroke="#111" stroke-width="1.4"/>
<rect x="1071.09" y="2325.40" width="33.69" height="31.70" fill="#5b5b3a" stroke="#111" stroke-width="1.4"/>
<rect x="1104.78" y="2325.40" width="33.69" height="31.70" fill="#5b5b3a" stroke="#111" stroke-width="1.4"/>
<rect x="1138.47" y="2325.40" width="33.69" height="31.70" fill="#1d1dd2" stroke="#111" stroke-width="1.4"/>
<rect x="1172.16" y="2325.40" width="33.69" height="31.70" fill="#a5a52a" stroke="#111" stroke-width="1.4"/>
<rect x="1205.85" y="2325.40" width="33.69" height="31.70" fill="#7d7d32" stroke="#111" stroke-width="1.4"/>
<rect x="1239.54" y="2325.40" width="33.69" height="31.70" fill="#2a2a94" stroke="#111" stroke-width="1.4"/>
<rect x="1273.23" y="2325.40" width="33.69" height="31.70" fill="#0000ff" stroke="#111" stroke-width="1.4"/>
<rect x="1306.92" y="2325.40" width="33.69" height="31.70" fill="#0000ff" stroke="#111" stroke-width="1.4"/>
<rect x="1340.61" y="2325.40" width="33.69" height="31.70" fill="#1d1dd2" stroke="#111" stroke-width="1.4"/>
<rect x="1374.30" y="2325.40" width="33.69" height="31.70" fill="#0000ff" stroke="#111" stroke-width="1.4"/>
<rect x="1407.99" y="2325.40" width="33.69" height="31.70" fill="#0000ff" stroke="#111" stroke-width="1.4"/>
<rect x="1441.68" y="2325.40" width="33.69" height="31.70" fill="#37375f" stroke="#111" stroke-width="1.4"/>
<rect x="1475.37" y="2325.40" width="33.69" height="31.70" fill="#3e3e40" stroke="#111" stroke-width="1.4"/>
<rect x="1509.06" y="2325.40" width="33.69" height="31.70" fill="#a5a52a" stroke="#111" stroke-width="1.4"/>
<text x="1547.6" y="2355.5" font-size="36.5">LGALS3</text>
<text transform="translate(526.6,1606.8) rotate(-90)" font-size="40" font-style="italic">Inflammatory</text>
<text transform="translate(525.9,2151.7) rotate(-90)" font-size="40" font-style="italic">Regulatory</text>
</svg>
</body></html>
